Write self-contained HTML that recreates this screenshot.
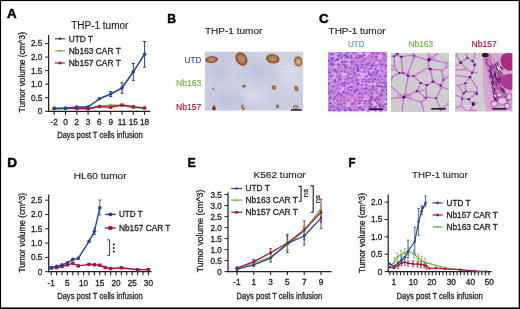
<!DOCTYPE html><html><head><meta charset="utf-8"><style>html,body{margin:0;padding:0;background:#fff;}svg{display:block}svg text{font-family:"Liberation Sans",sans-serif}</style></head><body>
<svg width="520" height="309" viewBox="0 0 520 309" >
<rect x="0" y="0" width="520" height="309" fill="#fff"/>
<text x="7.00" y="17.60" font-size="12.3" text-anchor="start" fill="#000" font-weight="bold" stroke="#000" stroke-width="0.45" textLength="9.60" lengthAdjust="spacingAndGlyphs" >A</text>
<text x="167.30" y="22.80" font-size="12.3" text-anchor="start" fill="#000" font-weight="bold" stroke="#000" stroke-width="0.45" textLength="8.80" lengthAdjust="spacingAndGlyphs" >B</text>
<text x="318.90" y="22.60" font-size="12.3" text-anchor="start" fill="#000" font-weight="bold" stroke="#000" stroke-width="0.45" textLength="9.60" lengthAdjust="spacingAndGlyphs" >C</text>
<text x="7.20" y="167.00" font-size="12.3" text-anchor="start" fill="#000" font-weight="bold" stroke="#000" stroke-width="0.45" textLength="9.80" lengthAdjust="spacingAndGlyphs" >D</text>
<text x="187.50" y="167.40" font-size="12.3" text-anchor="start" fill="#000" font-weight="bold" stroke="#000" stroke-width="0.45" textLength="8.20" lengthAdjust="spacingAndGlyphs" >E</text>
<text x="348.40" y="167.40" font-size="12.3" text-anchor="start" fill="#000" font-weight="bold" stroke="#000" stroke-width="0.45" textLength="7.00" lengthAdjust="spacingAndGlyphs" >F</text>
<text x="71.20" y="28.90" font-size="10" text-anchor="start" fill="#231f20" stroke="#231f20" stroke-width="0.15" textLength="57.20" lengthAdjust="spacingAndGlyphs" >THP-1 tumor</text>
<line x1="48.60" y1="35.00" x2="48.60" y2="111.90" stroke="#231f20" stroke-width="1.25"/>
<line x1="48.00" y1="111.30" x2="150.30" y2="111.30" stroke="#231f20" stroke-width="1.25"/>
<line x1="45.10" y1="111.30" x2="48.60" y2="111.30" stroke="#231f20" stroke-width="1"/>
<text x="42.30" y="114.20" font-size="8.2" text-anchor="end" fill="#231f20" stroke="#231f20" stroke-width="0.3" >0</text>
<line x1="45.10" y1="97.75" x2="48.60" y2="97.75" stroke="#231f20" stroke-width="1"/>
<text x="42.30" y="100.65" font-size="8.2" text-anchor="end" fill="#231f20" stroke="#231f20" stroke-width="0.3" >0.5</text>
<line x1="45.10" y1="84.20" x2="48.60" y2="84.20" stroke="#231f20" stroke-width="1"/>
<text x="42.30" y="87.10" font-size="8.2" text-anchor="end" fill="#231f20" stroke="#231f20" stroke-width="0.3" >1.0</text>
<line x1="45.10" y1="70.65" x2="48.60" y2="70.65" stroke="#231f20" stroke-width="1"/>
<text x="42.30" y="73.55" font-size="8.2" text-anchor="end" fill="#231f20" stroke="#231f20" stroke-width="0.3" >1.5</text>
<line x1="45.10" y1="57.10" x2="48.60" y2="57.10" stroke="#231f20" stroke-width="1"/>
<text x="42.30" y="60.00" font-size="8.2" text-anchor="end" fill="#231f20" stroke="#231f20" stroke-width="0.3" >2.0</text>
<line x1="45.10" y1="43.55" x2="48.60" y2="43.55" stroke="#231f20" stroke-width="1"/>
<text x="42.30" y="46.45" font-size="8.2" text-anchor="end" fill="#231f20" stroke="#231f20" stroke-width="0.3" >2.5</text>
<line x1="54.20" y1="111.30" x2="54.20" y2="114.80" stroke="#231f20" stroke-width="1.1"/>
<line x1="65.50" y1="111.30" x2="65.50" y2="114.80" stroke="#231f20" stroke-width="1.1"/>
<line x1="76.80" y1="111.30" x2="76.80" y2="114.80" stroke="#231f20" stroke-width="1.1"/>
<line x1="88.10" y1="111.30" x2="88.10" y2="114.80" stroke="#231f20" stroke-width="1.1"/>
<line x1="99.40" y1="111.30" x2="99.40" y2="114.80" stroke="#231f20" stroke-width="1.1"/>
<line x1="110.70" y1="111.30" x2="110.70" y2="114.80" stroke="#231f20" stroke-width="1.1"/>
<line x1="122.00" y1="111.30" x2="122.00" y2="114.80" stroke="#231f20" stroke-width="1.1"/>
<line x1="133.30" y1="111.30" x2="133.30" y2="114.80" stroke="#231f20" stroke-width="1.1"/>
<line x1="144.60" y1="111.30" x2="144.60" y2="114.80" stroke="#231f20" stroke-width="1.1"/>
<text x="54.20" y="125.30" font-size="8.2" text-anchor="middle" fill="#231f20" stroke="#231f20" stroke-width="0.3" >-2</text>
<text x="65.50" y="125.30" font-size="8.2" text-anchor="middle" fill="#231f20" stroke="#231f20" stroke-width="0.3" >0</text>
<text x="76.80" y="125.30" font-size="8.2" text-anchor="middle" fill="#231f20" stroke="#231f20" stroke-width="0.3" >2</text>
<text x="88.10" y="125.30" font-size="8.2" text-anchor="middle" fill="#231f20" stroke="#231f20" stroke-width="0.3" >3</text>
<text x="99.40" y="125.30" font-size="8.2" text-anchor="middle" fill="#231f20" stroke="#231f20" stroke-width="0.3" >6</text>
<text x="110.70" y="125.30" font-size="8.2" text-anchor="middle" fill="#231f20" stroke="#231f20" stroke-width="0.3" >9</text>
<text x="122.00" y="125.30" font-size="8.2" text-anchor="middle" fill="#231f20" stroke="#231f20" stroke-width="0.3" >11</text>
<text x="133.30" y="125.30" font-size="8.2" text-anchor="middle" fill="#231f20" stroke="#231f20" stroke-width="0.3" >15</text>
<text x="144.60" y="125.30" font-size="8.2" text-anchor="middle" fill="#231f20" stroke="#231f20" stroke-width="0.3" >18</text>
<text transform="translate(24.60,72.25) rotate(-90)" x="0" y="0" font-size="8.6" text-anchor="middle" fill="#231f20" stroke="#231f20" stroke-width="0.3" textLength="80.30" lengthAdjust="spacingAndGlyphs">Tumor volume (cm^3)</text>
<text x="100.00" y="138.10" font-size="8.6" text-anchor="middle" fill="#231f20" stroke="#231f20" stroke-width="0.3" textLength="85.60" lengthAdjust="spacingAndGlyphs" >Days post T cells infusion</text>
<line x1="110.70" y1="91.50" x2="110.70" y2="96.50" stroke="#25458a" stroke-width="1.0"/>
<line x1="109.10" y1="91.50" x2="112.30" y2="91.50" stroke="#25458a" stroke-width="1.0"/>
<line x1="109.10" y1="96.50" x2="112.30" y2="96.50" stroke="#25458a" stroke-width="1.0"/>
<line x1="122.00" y1="82.80" x2="122.00" y2="93.30" stroke="#25458a" stroke-width="1.0"/>
<line x1="120.40" y1="82.80" x2="123.60" y2="82.80" stroke="#25458a" stroke-width="1.0"/>
<line x1="120.40" y1="93.30" x2="123.60" y2="93.30" stroke="#25458a" stroke-width="1.0"/>
<line x1="133.30" y1="63.50" x2="133.30" y2="80.30" stroke="#25458a" stroke-width="1.0"/>
<line x1="131.70" y1="63.50" x2="134.90" y2="63.50" stroke="#25458a" stroke-width="1.0"/>
<line x1="131.70" y1="80.30" x2="134.90" y2="80.30" stroke="#25458a" stroke-width="1.0"/>
<line x1="144.60" y1="41.50" x2="144.60" y2="67.10" stroke="#25458a" stroke-width="1.0"/>
<line x1="143.00" y1="41.50" x2="146.20" y2="41.50" stroke="#25458a" stroke-width="1.0"/>
<line x1="143.00" y1="67.10" x2="146.20" y2="67.10" stroke="#25458a" stroke-width="1.0"/>
<polyline points="54.20,108.80 65.50,108.60 76.80,108.20 88.10,108.20 99.40,106.50 110.70,105.00 122.00,105.50 133.30,107.60 144.60,108.00" fill="none" stroke="#6cb33f" stroke-width="1.5" stroke-linejoin="round"/>
<polygon points="54.20,107.04 52.44,110.08 55.96,110.08" fill="#6cb33f"/>
<polygon points="65.50,106.84 63.74,109.88 67.26,109.88" fill="#6cb33f"/>
<polygon points="76.80,106.44 75.04,109.48 78.56,109.48" fill="#6cb33f"/>
<polygon points="88.10,106.44 86.34,109.48 89.86,109.48" fill="#6cb33f"/>
<polygon points="99.40,104.74 97.64,107.78 101.16,107.78" fill="#6cb33f"/>
<polygon points="110.70,103.24 108.94,106.28 112.46,106.28" fill="#6cb33f"/>
<polygon points="122.00,103.74 120.24,106.78 123.76,106.78" fill="#6cb33f"/>
<polygon points="133.30,105.84 131.54,108.88 135.06,108.88" fill="#6cb33f"/>
<polygon points="144.60,106.24 142.84,109.28 146.36,109.28" fill="#6cb33f"/>
<polyline points="54.20,108.40 65.50,108.30 76.80,108.40 88.10,108.80 99.40,106.50 110.70,107.30 122.00,105.00 133.30,106.70 144.60,108.00" fill="none" stroke="#ae1139" stroke-width="1.5" stroke-linejoin="round"/>
<rect x="52.60" y="106.80" width="3.20" height="3.20" fill="#ae1139"/>
<rect x="63.90" y="106.70" width="3.20" height="3.20" fill="#ae1139"/>
<rect x="75.20" y="106.80" width="3.20" height="3.20" fill="#ae1139"/>
<rect x="86.50" y="107.20" width="3.20" height="3.20" fill="#ae1139"/>
<rect x="97.80" y="104.90" width="3.20" height="3.20" fill="#ae1139"/>
<rect x="109.10" y="105.70" width="3.20" height="3.20" fill="#ae1139"/>
<rect x="120.40" y="103.40" width="3.20" height="3.20" fill="#ae1139"/>
<rect x="131.70" y="105.10" width="3.20" height="3.20" fill="#ae1139"/>
<rect x="143.00" y="106.40" width="3.20" height="3.20" fill="#ae1139"/>
<polyline points="54.20,108.40 65.50,108.20 76.80,107.00 88.10,107.00 99.40,98.80 110.70,94.00 122.00,88.00 133.30,71.80 144.60,54.20" fill="none" stroke="#25458a" stroke-width="1.5" stroke-linejoin="round"/>
<circle cx="54.20" cy="108.40" r="1.80" fill="#25458a"/>
<circle cx="65.50" cy="108.20" r="1.80" fill="#25458a"/>
<circle cx="76.80" cy="107.00" r="1.80" fill="#25458a"/>
<circle cx="88.10" cy="107.00" r="1.80" fill="#25458a"/>
<circle cx="99.40" cy="98.80" r="1.80" fill="#25458a"/>
<circle cx="110.70" cy="94.00" r="1.80" fill="#25458a"/>
<circle cx="122.00" cy="88.00" r="1.80" fill="#25458a"/>
<circle cx="133.30" cy="71.80" r="1.80" fill="#25458a"/>
<circle cx="144.60" cy="54.20" r="1.80" fill="#25458a"/>
<line x1="55.00" y1="38.80" x2="65.00" y2="38.80" stroke="#25458a" stroke-width="1.2"/>
<circle cx="60.00" cy="38.80" r="1.30" fill="#25458a"/>
<text x="68.80" y="41.70" font-size="8.2" text-anchor="start" fill="#231f20" stroke="#231f20" stroke-width="0.3" textLength="24.20" lengthAdjust="spacingAndGlyphs" >UTD T</text>
<line x1="55.00" y1="50.80" x2="65.00" y2="50.80" stroke="#6cb33f" stroke-width="1.2"/>
<polygon points="60.00,49.37 58.57,51.84 61.43,51.84" fill="#6cb33f"/>
<text x="68.80" y="53.70" font-size="8.2" text-anchor="start" fill="#231f20" stroke="#231f20" stroke-width="0.3" textLength="52.00" lengthAdjust="spacingAndGlyphs" >Nb163 CAR T</text>
<line x1="55.00" y1="63.00" x2="65.00" y2="63.00" stroke="#ae1139" stroke-width="1.2"/>
<rect x="58.70" y="61.70" width="2.60" height="2.60" fill="#ae1139"/>
<text x="68.80" y="65.90" font-size="8.2" text-anchor="start" fill="#231f20" stroke="#231f20" stroke-width="0.3" textLength="52.00" lengthAdjust="spacingAndGlyphs" >Nb157 CAR T</text>
<text x="73.80" y="178.50" font-size="9.7" text-anchor="start" fill="#231f20" stroke="#231f20" stroke-width="0.15" textLength="52.80" lengthAdjust="spacingAndGlyphs" >HL60 tumor</text>
<line x1="48.70" y1="194.60" x2="48.70" y2="272.30" stroke="#231f20" stroke-width="1.25"/>
<line x1="48.10" y1="271.70" x2="151.50" y2="271.70" stroke="#231f20" stroke-width="1.25"/>
<line x1="45.20" y1="271.70" x2="48.70" y2="271.70" stroke="#231f20" stroke-width="1"/>
<text x="42.30" y="274.60" font-size="8.2" text-anchor="end" fill="#231f20" stroke="#231f20" stroke-width="0.3" >0</text>
<line x1="45.20" y1="257.40" x2="48.70" y2="257.40" stroke="#231f20" stroke-width="1"/>
<text x="42.30" y="260.30" font-size="8.2" text-anchor="end" fill="#231f20" stroke="#231f20" stroke-width="0.3" >0.5</text>
<line x1="45.20" y1="243.10" x2="48.70" y2="243.10" stroke="#231f20" stroke-width="1"/>
<text x="42.30" y="246.00" font-size="8.2" text-anchor="end" fill="#231f20" stroke="#231f20" stroke-width="0.3" >1.0</text>
<line x1="45.20" y1="228.80" x2="48.70" y2="228.80" stroke="#231f20" stroke-width="1"/>
<text x="42.30" y="231.70" font-size="8.2" text-anchor="end" fill="#231f20" stroke="#231f20" stroke-width="0.3" >1.5</text>
<line x1="45.20" y1="214.50" x2="48.70" y2="214.50" stroke="#231f20" stroke-width="1"/>
<text x="42.30" y="217.40" font-size="8.2" text-anchor="end" fill="#231f20" stroke="#231f20" stroke-width="0.3" >2.0</text>
<line x1="45.20" y1="200.20" x2="48.70" y2="200.20" stroke="#231f20" stroke-width="1"/>
<text x="42.30" y="203.10" font-size="8.2" text-anchor="end" fill="#231f20" stroke="#231f20" stroke-width="0.3" >2.5</text>
<line x1="51.20" y1="271.70" x2="51.20" y2="275.20" stroke="#231f20" stroke-width="1.1"/>
<line x1="56.60" y1="271.70" x2="56.60" y2="275.20" stroke="#231f20" stroke-width="1.1"/>
<line x1="62.00" y1="271.70" x2="62.00" y2="275.20" stroke="#231f20" stroke-width="1.1"/>
<line x1="67.40" y1="271.70" x2="67.40" y2="275.20" stroke="#231f20" stroke-width="1.1"/>
<line x1="72.80" y1="271.70" x2="72.80" y2="275.20" stroke="#231f20" stroke-width="1.1"/>
<line x1="78.20" y1="271.70" x2="78.20" y2="275.20" stroke="#231f20" stroke-width="1.1"/>
<line x1="83.60" y1="271.70" x2="83.60" y2="275.20" stroke="#231f20" stroke-width="1.1"/>
<line x1="89.00" y1="271.70" x2="89.00" y2="275.20" stroke="#231f20" stroke-width="1.1"/>
<line x1="94.40" y1="271.70" x2="94.40" y2="275.20" stroke="#231f20" stroke-width="1.1"/>
<line x1="99.80" y1="271.70" x2="99.80" y2="275.20" stroke="#231f20" stroke-width="1.1"/>
<line x1="105.20" y1="271.70" x2="105.20" y2="275.20" stroke="#231f20" stroke-width="1.1"/>
<line x1="110.60" y1="271.70" x2="110.60" y2="275.20" stroke="#231f20" stroke-width="1.1"/>
<line x1="116.00" y1="271.70" x2="116.00" y2="275.20" stroke="#231f20" stroke-width="1.1"/>
<line x1="121.40" y1="271.70" x2="121.40" y2="275.20" stroke="#231f20" stroke-width="1.1"/>
<line x1="126.80" y1="271.70" x2="126.80" y2="275.20" stroke="#231f20" stroke-width="1.1"/>
<line x1="132.20" y1="271.70" x2="132.20" y2="275.20" stroke="#231f20" stroke-width="1.1"/>
<line x1="137.60" y1="271.70" x2="137.60" y2="275.20" stroke="#231f20" stroke-width="1.1"/>
<line x1="143.00" y1="271.70" x2="143.00" y2="275.20" stroke="#231f20" stroke-width="1.1"/>
<line x1="148.40" y1="271.70" x2="148.40" y2="275.20" stroke="#231f20" stroke-width="1.1"/>
<text x="51.20" y="285.50" font-size="8.2" text-anchor="middle" fill="#231f20" stroke="#231f20" stroke-width="0.3" >-1</text>
<text x="67.40" y="285.50" font-size="8.2" text-anchor="middle" fill="#231f20" stroke="#231f20" stroke-width="0.3" >5</text>
<text x="83.60" y="285.50" font-size="8.2" text-anchor="middle" fill="#231f20" stroke="#231f20" stroke-width="0.3" >10</text>
<text x="99.80" y="285.50" font-size="8.2" text-anchor="middle" fill="#231f20" stroke="#231f20" stroke-width="0.3" >15</text>
<text x="116.00" y="285.50" font-size="8.2" text-anchor="middle" fill="#231f20" stroke="#231f20" stroke-width="0.3" >20</text>
<text x="132.20" y="285.50" font-size="8.2" text-anchor="middle" fill="#231f20" stroke="#231f20" stroke-width="0.3" >25</text>
<text x="148.40" y="285.50" font-size="8.2" text-anchor="middle" fill="#231f20" stroke="#231f20" stroke-width="0.3" >30</text>
<text transform="translate(24.80,232.70) rotate(-90)" x="0" y="0" font-size="8.6" text-anchor="middle" fill="#231f20" stroke="#231f20" stroke-width="0.3" textLength="79.40" lengthAdjust="spacingAndGlyphs">Tumor volume (cm^3)</text>
<text x="100.00" y="299.30" font-size="8.6" text-anchor="middle" fill="#231f20" stroke="#231f20" stroke-width="0.3" textLength="85.60" lengthAdjust="spacingAndGlyphs" >Days post T cells infusion</text>
<line x1="94.40" y1="228.00" x2="94.40" y2="234.50" stroke="#25458a" stroke-width="0.8"/>
<line x1="92.90" y1="228.00" x2="95.90" y2="228.00" stroke="#25458a" stroke-width="0.8"/>
<line x1="92.90" y1="234.50" x2="95.90" y2="234.50" stroke="#25458a" stroke-width="0.8"/>
<line x1="99.80" y1="200.00" x2="99.80" y2="215.00" stroke="#25458a" stroke-width="0.8"/>
<line x1="98.30" y1="200.00" x2="101.30" y2="200.00" stroke="#25458a" stroke-width="0.8"/>
<line x1="98.30" y1="215.00" x2="101.30" y2="215.00" stroke="#25458a" stroke-width="0.8"/>
<polyline points="51.20,268.00 56.60,267.60 62.00,266.50 67.40,264.80 72.80,263.30 78.20,265.90 89.00,264.40 94.40,264.80 99.80,265.20 105.20,267.50 110.60,268.50 121.40,267.80 137.60,269.80 148.40,269.60" fill="none" stroke="#ae1139" stroke-width="1.4" stroke-linejoin="round"/>
<rect x="49.50" y="266.30" width="3.40" height="3.40" fill="#ae1139"/>
<rect x="54.90" y="265.90" width="3.40" height="3.40" fill="#ae1139"/>
<rect x="60.30" y="264.80" width="3.40" height="3.40" fill="#ae1139"/>
<rect x="65.70" y="263.10" width="3.40" height="3.40" fill="#ae1139"/>
<rect x="71.10" y="261.60" width="3.40" height="3.40" fill="#ae1139"/>
<rect x="76.50" y="264.20" width="3.40" height="3.40" fill="#ae1139"/>
<rect x="87.30" y="262.70" width="3.40" height="3.40" fill="#ae1139"/>
<rect x="92.70" y="263.10" width="3.40" height="3.40" fill="#ae1139"/>
<rect x="98.10" y="263.50" width="3.40" height="3.40" fill="#ae1139"/>
<rect x="103.50" y="265.80" width="3.40" height="3.40" fill="#ae1139"/>
<rect x="108.90" y="266.80" width="3.40" height="3.40" fill="#ae1139"/>
<rect x="119.70" y="266.10" width="3.40" height="3.40" fill="#ae1139"/>
<rect x="135.90" y="268.10" width="3.40" height="3.40" fill="#ae1139"/>
<rect x="146.70" y="267.90" width="3.40" height="3.40" fill="#ae1139"/>
<polyline points="51.20,267.50 56.60,266.40 62.00,264.80 67.40,262.80 72.80,259.40 78.20,258.40 89.00,241.40 94.40,231.30 99.80,207.90" fill="none" stroke="#25458a" stroke-width="1.4" stroke-linejoin="round"/>
<circle cx="51.20" cy="267.50" r="1.80" fill="#25458a"/>
<circle cx="56.60" cy="266.40" r="1.80" fill="#25458a"/>
<circle cx="62.00" cy="264.80" r="1.80" fill="#25458a"/>
<circle cx="67.40" cy="262.80" r="1.80" fill="#25458a"/>
<circle cx="72.80" cy="259.40" r="1.80" fill="#25458a"/>
<circle cx="78.20" cy="258.40" r="1.80" fill="#25458a"/>
<circle cx="89.00" cy="241.40" r="1.80" fill="#25458a"/>
<circle cx="94.40" cy="231.30" r="1.80" fill="#25458a"/>
<circle cx="99.80" cy="207.90" r="1.80" fill="#25458a"/>
<line x1="105.10" y1="214.40" x2="115.70" y2="214.40" stroke="#25458a" stroke-width="1.4"/>
<circle cx="110.40" cy="214.40" r="1.90" fill="#25458a"/>
<text x="119.00" y="217.30" font-size="8.2" text-anchor="start" fill="#231f20" stroke="#231f20" stroke-width="0.3" textLength="23.60" lengthAdjust="spacingAndGlyphs" >UTD T</text>
<line x1="105.10" y1="228.00" x2="115.70" y2="228.00" stroke="#ae1139" stroke-width="1.4"/>
<rect x="108.50" y="226.10" width="3.80" height="3.80" fill="#ae1139"/>
<text x="119.00" y="230.90" font-size="8.2" text-anchor="start" fill="#231f20" stroke="#231f20" stroke-width="0.3" textLength="51.40" lengthAdjust="spacingAndGlyphs" >Nb157 CAR T</text>
<polyline points="107.3,239.8 109.6,239.8 109.6,255.4 107.3,255.4" fill="none" stroke="#231f20" stroke-width="0.9"/>
<circle cx="113.8" cy="244.4" r="1" fill="#231f20"/>
<circle cx="113.8" cy="248" r="1" fill="#231f20"/>
<circle cx="113.8" cy="251.4" r="1" fill="#231f20"/>
<text x="253.40" y="178.30" font-size="9.7" text-anchor="start" fill="#231f20" stroke="#231f20" stroke-width="0.15" textLength="52.30" lengthAdjust="spacingAndGlyphs" >K562 tumor</text>
<line x1="228.00" y1="192.60" x2="228.00" y2="272.20" stroke="#231f20" stroke-width="1.25"/>
<line x1="227.40" y1="271.60" x2="331.50" y2="271.60" stroke="#231f20" stroke-width="1.25"/>
<line x1="224.50" y1="271.60" x2="228.00" y2="271.60" stroke="#231f20" stroke-width="1"/>
<text x="221.80" y="274.50" font-size="8.2" text-anchor="end" fill="#231f20" stroke="#231f20" stroke-width="0.3" >0</text>
<line x1="224.50" y1="260.60" x2="228.00" y2="260.60" stroke="#231f20" stroke-width="1"/>
<text x="221.80" y="263.50" font-size="8.2" text-anchor="end" fill="#231f20" stroke="#231f20" stroke-width="0.3" >0.5</text>
<line x1="224.50" y1="249.60" x2="228.00" y2="249.60" stroke="#231f20" stroke-width="1"/>
<text x="221.80" y="252.50" font-size="8.2" text-anchor="end" fill="#231f20" stroke="#231f20" stroke-width="0.3" >1.0</text>
<line x1="224.50" y1="238.60" x2="228.00" y2="238.60" stroke="#231f20" stroke-width="1"/>
<text x="221.80" y="241.50" font-size="8.2" text-anchor="end" fill="#231f20" stroke="#231f20" stroke-width="0.3" >1.5</text>
<line x1="224.50" y1="227.60" x2="228.00" y2="227.60" stroke="#231f20" stroke-width="1"/>
<text x="221.80" y="230.50" font-size="8.2" text-anchor="end" fill="#231f20" stroke="#231f20" stroke-width="0.3" >2.0</text>
<line x1="224.50" y1="216.60" x2="228.00" y2="216.60" stroke="#231f20" stroke-width="1"/>
<text x="221.80" y="219.50" font-size="8.2" text-anchor="end" fill="#231f20" stroke="#231f20" stroke-width="0.3" >2.5</text>
<line x1="224.50" y1="205.60" x2="228.00" y2="205.60" stroke="#231f20" stroke-width="1"/>
<text x="221.80" y="208.50" font-size="8.2" text-anchor="end" fill="#231f20" stroke="#231f20" stroke-width="0.3" >3.0</text>
<line x1="224.50" y1="194.60" x2="228.00" y2="194.60" stroke="#231f20" stroke-width="1"/>
<text x="221.80" y="197.50" font-size="8.2" text-anchor="end" fill="#231f20" stroke="#231f20" stroke-width="0.3" >3.5</text>
<line x1="237.00" y1="271.60" x2="237.00" y2="275.10" stroke="#231f20" stroke-width="1.1"/>
<line x1="253.80" y1="271.60" x2="253.80" y2="275.10" stroke="#231f20" stroke-width="1.1"/>
<line x1="270.60" y1="271.60" x2="270.60" y2="275.10" stroke="#231f20" stroke-width="1.1"/>
<line x1="287.40" y1="271.60" x2="287.40" y2="275.10" stroke="#231f20" stroke-width="1.1"/>
<line x1="304.20" y1="271.60" x2="304.20" y2="275.10" stroke="#231f20" stroke-width="1.1"/>
<line x1="321.00" y1="271.60" x2="321.00" y2="275.10" stroke="#231f20" stroke-width="1.1"/>
<text x="237.00" y="285.30" font-size="8.2" text-anchor="middle" fill="#231f20" stroke="#231f20" stroke-width="0.3" >-1</text>
<text x="253.80" y="285.30" font-size="8.2" text-anchor="middle" fill="#231f20" stroke="#231f20" stroke-width="0.3" >1</text>
<text x="270.60" y="285.30" font-size="8.2" text-anchor="middle" fill="#231f20" stroke="#231f20" stroke-width="0.3" >3</text>
<text x="287.40" y="285.30" font-size="8.2" text-anchor="middle" fill="#231f20" stroke="#231f20" stroke-width="0.3" >5</text>
<text x="304.20" y="285.30" font-size="8.2" text-anchor="middle" fill="#231f20" stroke="#231f20" stroke-width="0.3" >7</text>
<text x="321.00" y="285.30" font-size="8.2" text-anchor="middle" fill="#231f20" stroke="#231f20" stroke-width="0.3" >9</text>
<text transform="translate(202.90,230.95) rotate(-90)" x="0" y="0" font-size="8.6" text-anchor="middle" fill="#231f20" stroke="#231f20" stroke-width="0.3" textLength="82.50" lengthAdjust="spacingAndGlyphs">Tumor volume (cm^3)</text>
<text x="279.40" y="299.10" font-size="8.6" text-anchor="middle" fill="#231f20" stroke="#231f20" stroke-width="0.3" textLength="85.60" lengthAdjust="spacingAndGlyphs" >Days post T cells infusion</text>
<line x1="237.00" y1="268.00" x2="237.00" y2="270.50" stroke="#25458a" stroke-width="0.9"/>
<line x1="235.70" y1="268.00" x2="238.30" y2="268.00" stroke="#25458a" stroke-width="0.9"/>
<line x1="235.70" y1="270.50" x2="238.30" y2="270.50" stroke="#25458a" stroke-width="0.9"/>
<line x1="253.80" y1="263.00" x2="253.80" y2="266.50" stroke="#25458a" stroke-width="0.9"/>
<line x1="252.50" y1="263.00" x2="255.10" y2="263.00" stroke="#25458a" stroke-width="0.9"/>
<line x1="252.50" y1="266.50" x2="255.10" y2="266.50" stroke="#25458a" stroke-width="0.9"/>
<line x1="270.60" y1="253.00" x2="270.60" y2="262.00" stroke="#25458a" stroke-width="0.9"/>
<line x1="269.30" y1="253.00" x2="271.90" y2="253.00" stroke="#25458a" stroke-width="0.9"/>
<line x1="269.30" y1="262.00" x2="271.90" y2="262.00" stroke="#25458a" stroke-width="0.9"/>
<line x1="287.40" y1="234.30" x2="287.40" y2="252.40" stroke="#25458a" stroke-width="0.9"/>
<line x1="286.10" y1="234.30" x2="288.70" y2="234.30" stroke="#25458a" stroke-width="0.9"/>
<line x1="286.10" y1="252.40" x2="288.70" y2="252.40" stroke="#25458a" stroke-width="0.9"/>
<line x1="304.20" y1="227.00" x2="304.20" y2="245.00" stroke="#25458a" stroke-width="0.9"/>
<line x1="302.90" y1="227.00" x2="305.50" y2="227.00" stroke="#25458a" stroke-width="0.9"/>
<line x1="302.90" y1="245.00" x2="305.50" y2="245.00" stroke="#25458a" stroke-width="0.9"/>
<line x1="321.00" y1="210.00" x2="321.00" y2="228.60" stroke="#25458a" stroke-width="0.9"/>
<line x1="319.70" y1="210.00" x2="322.30" y2="210.00" stroke="#25458a" stroke-width="0.9"/>
<line x1="319.70" y1="228.60" x2="322.30" y2="228.60" stroke="#25458a" stroke-width="0.9"/>
<line x1="237.00" y1="267.00" x2="237.00" y2="269.00" stroke="#ae1139" stroke-width="0.9"/>
<line x1="235.70" y1="267.00" x2="238.30" y2="267.00" stroke="#ae1139" stroke-width="0.9"/>
<line x1="235.70" y1="269.00" x2="238.30" y2="269.00" stroke="#ae1139" stroke-width="0.9"/>
<line x1="253.80" y1="259.50" x2="253.80" y2="264.00" stroke="#ae1139" stroke-width="0.9"/>
<line x1="252.50" y1="259.50" x2="255.10" y2="259.50" stroke="#ae1139" stroke-width="0.9"/>
<line x1="252.50" y1="264.00" x2="255.10" y2="264.00" stroke="#ae1139" stroke-width="0.9"/>
<line x1="270.60" y1="248.60" x2="270.60" y2="257.00" stroke="#ae1139" stroke-width="0.9"/>
<line x1="269.30" y1="248.60" x2="271.90" y2="248.60" stroke="#ae1139" stroke-width="0.9"/>
<line x1="269.30" y1="257.00" x2="271.90" y2="257.00" stroke="#ae1139" stroke-width="0.9"/>
<line x1="287.40" y1="236.00" x2="287.40" y2="250.00" stroke="#ae1139" stroke-width="0.9"/>
<line x1="286.10" y1="236.00" x2="288.70" y2="236.00" stroke="#ae1139" stroke-width="0.9"/>
<line x1="286.10" y1="250.00" x2="288.70" y2="250.00" stroke="#ae1139" stroke-width="0.9"/>
<line x1="304.20" y1="220.90" x2="304.20" y2="239.80" stroke="#ae1139" stroke-width="0.9"/>
<line x1="302.90" y1="220.90" x2="305.50" y2="220.90" stroke="#ae1139" stroke-width="0.9"/>
<line x1="302.90" y1="239.80" x2="305.50" y2="239.80" stroke="#ae1139" stroke-width="0.9"/>
<line x1="321.00" y1="199.20" x2="321.00" y2="222.00" stroke="#ae1139" stroke-width="0.9"/>
<line x1="319.70" y1="199.20" x2="322.30" y2="199.20" stroke="#ae1139" stroke-width="0.9"/>
<line x1="319.70" y1="222.00" x2="322.30" y2="222.00" stroke="#ae1139" stroke-width="0.9"/>
<line x1="237.00" y1="267.50" x2="237.00" y2="269.50" stroke="#6cb33f" stroke-width="0.9"/>
<line x1="235.70" y1="267.50" x2="238.30" y2="267.50" stroke="#6cb33f" stroke-width="0.9"/>
<line x1="235.70" y1="269.50" x2="238.30" y2="269.50" stroke="#6cb33f" stroke-width="0.9"/>
<line x1="253.80" y1="261.00" x2="253.80" y2="265.00" stroke="#6cb33f" stroke-width="0.9"/>
<line x1="252.50" y1="261.00" x2="255.10" y2="261.00" stroke="#6cb33f" stroke-width="0.9"/>
<line x1="252.50" y1="265.00" x2="255.10" y2="265.00" stroke="#6cb33f" stroke-width="0.9"/>
<line x1="270.60" y1="254.00" x2="270.60" y2="260.00" stroke="#6cb33f" stroke-width="0.9"/>
<line x1="269.30" y1="254.00" x2="271.90" y2="254.00" stroke="#6cb33f" stroke-width="0.9"/>
<line x1="269.30" y1="260.00" x2="271.90" y2="260.00" stroke="#6cb33f" stroke-width="0.9"/>
<line x1="287.40" y1="240.00" x2="287.40" y2="250.00" stroke="#6cb33f" stroke-width="0.9"/>
<line x1="286.10" y1="240.00" x2="288.70" y2="240.00" stroke="#6cb33f" stroke-width="0.9"/>
<line x1="286.10" y1="250.00" x2="288.70" y2="250.00" stroke="#6cb33f" stroke-width="0.9"/>
<line x1="304.20" y1="226.00" x2="304.20" y2="235.00" stroke="#6cb33f" stroke-width="0.9"/>
<line x1="302.90" y1="226.00" x2="305.50" y2="226.00" stroke="#6cb33f" stroke-width="0.9"/>
<line x1="302.90" y1="235.00" x2="305.50" y2="235.00" stroke="#6cb33f" stroke-width="0.9"/>
<line x1="321.00" y1="206.00" x2="321.00" y2="214.00" stroke="#6cb33f" stroke-width="0.9"/>
<line x1="319.70" y1="206.00" x2="322.30" y2="206.00" stroke="#6cb33f" stroke-width="0.9"/>
<line x1="319.70" y1="214.00" x2="322.30" y2="214.00" stroke="#6cb33f" stroke-width="0.9"/>
<polyline points="237.00,268.50 253.80,263.00 270.60,257.00 287.40,245.00 304.20,230.50 321.00,209.00" fill="none" stroke="#6cb33f" stroke-width="1.3" stroke-linejoin="round"/>
<polyline points="237.00,268.00 253.80,261.70 270.60,252.80 287.40,243.00 304.20,230.10 321.00,212.40" fill="none" stroke="#ae1139" stroke-width="1.3" stroke-linejoin="round"/>
<polyline points="237.00,269.20 253.80,264.80 270.60,258.10 287.40,243.40 304.20,236.00 321.00,218.10" fill="none" stroke="#25458a" stroke-width="1.3" stroke-linejoin="round"/>
<polygon points="237.00,267.18 235.68,269.46 238.32,269.46" fill="#6cb33f"/>
<rect x="235.70" y="266.70" width="2.60" height="2.60" fill="#ae1139"/>
<circle cx="237.00" cy="269.20" r="1.40" fill="#25458a"/>
<polygon points="253.80,261.68 252.48,263.96 255.12,263.96" fill="#6cb33f"/>
<rect x="252.50" y="260.40" width="2.60" height="2.60" fill="#ae1139"/>
<circle cx="253.80" cy="264.80" r="1.40" fill="#25458a"/>
<polygon points="270.60,255.68 269.28,257.96 271.92,257.96" fill="#6cb33f"/>
<rect x="269.30" y="251.50" width="2.60" height="2.60" fill="#ae1139"/>
<circle cx="270.60" cy="258.10" r="1.40" fill="#25458a"/>
<polygon points="287.40,243.68 286.08,245.96 288.72,245.96" fill="#6cb33f"/>
<rect x="286.10" y="241.70" width="2.60" height="2.60" fill="#ae1139"/>
<circle cx="287.40" cy="243.40" r="1.40" fill="#25458a"/>
<polygon points="304.20,229.18 302.88,231.46 305.52,231.46" fill="#6cb33f"/>
<rect x="302.90" y="228.80" width="2.60" height="2.60" fill="#ae1139"/>
<circle cx="304.20" cy="236.00" r="1.40" fill="#25458a"/>
<polygon points="321.00,207.68 319.68,209.96 322.32,209.96" fill="#6cb33f"/>
<rect x="319.70" y="211.10" width="2.60" height="2.60" fill="#ae1139"/>
<circle cx="321.00" cy="218.10" r="1.40" fill="#25458a"/>
<line x1="231.20" y1="188.50" x2="242.10" y2="188.50" stroke="#25458a" stroke-width="1.2"/>
<circle cx="236.65" cy="188.50" r="1.30" fill="#25458a"/>
<text x="245.50" y="191.40" font-size="8.2" text-anchor="start" fill="#231f20" stroke="#231f20" stroke-width="0.3" textLength="24.20" lengthAdjust="spacingAndGlyphs" >UTD T</text>
<line x1="231.20" y1="200.10" x2="242.10" y2="200.10" stroke="#6cb33f" stroke-width="1.2"/>
<polygon points="236.65,198.67 235.22,201.14 238.08,201.14" fill="#6cb33f"/>
<text x="245.50" y="203.00" font-size="8.2" text-anchor="start" fill="#231f20" stroke="#231f20" stroke-width="0.3" textLength="52.50" lengthAdjust="spacingAndGlyphs" >Nb163 CAR T</text>
<line x1="231.20" y1="212.30" x2="242.10" y2="212.30" stroke="#ae1139" stroke-width="1.2"/>
<rect x="235.35" y="211.00" width="2.60" height="2.60" fill="#ae1139"/>
<text x="245.50" y="215.20" font-size="8.2" text-anchor="start" fill="#231f20" stroke="#231f20" stroke-width="0.3" textLength="52.50" lengthAdjust="spacingAndGlyphs" >Nb157 CAR T</text>
<polyline points="298.6,186.4 301.1,186.4 301.1,201.2 298.6,201.2" fill="none" stroke="#231f20" stroke-width="1.1"/>
<polyline points="310.6,185.9 313.2,185.9 313.2,212.3 310.6,212.3" fill="none" stroke="#231f20" stroke-width="1.1"/>
<text transform="translate(308.2,193) rotate(-90)" x="0" y="0" font-size="7.8" text-anchor="middle" fill="#231f20" stroke="#231f20" stroke-width="0.25">ns</text>
<text transform="translate(319.6,199.2) rotate(-90)" x="0" y="0" font-size="7.8" text-anchor="middle" fill="#231f20" stroke="#231f20" stroke-width="0.25">ns</text>
<text x="412.00" y="178.20" font-size="9.7" text-anchor="start" fill="#231f20" stroke="#231f20" stroke-width="0.15" textLength="55.70" lengthAdjust="spacingAndGlyphs" >THP-1 tumor</text>
<line x1="388.20" y1="194.40" x2="388.20" y2="272.30" stroke="#231f20" stroke-width="1.25"/>
<line x1="387.60" y1="271.70" x2="491.60" y2="271.70" stroke="#231f20" stroke-width="1.25"/>
<line x1="384.70" y1="271.60" x2="388.20" y2="271.60" stroke="#231f20" stroke-width="1"/>
<text x="382.40" y="274.50" font-size="8.2" text-anchor="end" fill="#231f20" stroke="#231f20" stroke-width="0.3" >0</text>
<line x1="384.70" y1="254.25" x2="388.20" y2="254.25" stroke="#231f20" stroke-width="1"/>
<text x="382.40" y="257.15" font-size="8.2" text-anchor="end" fill="#231f20" stroke="#231f20" stroke-width="0.3" >0.5</text>
<line x1="384.70" y1="236.90" x2="388.20" y2="236.90" stroke="#231f20" stroke-width="1"/>
<text x="382.40" y="239.80" font-size="8.2" text-anchor="end" fill="#231f20" stroke="#231f20" stroke-width="0.3" >1.0</text>
<line x1="384.70" y1="219.55" x2="388.20" y2="219.55" stroke="#231f20" stroke-width="1"/>
<text x="382.40" y="222.45" font-size="8.2" text-anchor="end" fill="#231f20" stroke="#231f20" stroke-width="0.3" >1.5</text>
<line x1="384.70" y1="202.20" x2="388.20" y2="202.20" stroke="#231f20" stroke-width="1"/>
<text x="382.40" y="205.10" font-size="8.2" text-anchor="end" fill="#231f20" stroke="#231f20" stroke-width="0.3" >2.0</text>
<line x1="389.90" y1="271.70" x2="389.90" y2="275.20" stroke="#231f20" stroke-width="1.1"/>
<line x1="393.44" y1="271.70" x2="393.44" y2="275.20" stroke="#231f20" stroke-width="1.1"/>
<line x1="396.97" y1="271.70" x2="396.97" y2="275.20" stroke="#231f20" stroke-width="1.1"/>
<line x1="400.51" y1="271.70" x2="400.51" y2="275.20" stroke="#231f20" stroke-width="1.1"/>
<line x1="404.04" y1="271.70" x2="404.04" y2="275.20" stroke="#231f20" stroke-width="1.1"/>
<line x1="407.58" y1="271.70" x2="407.58" y2="275.20" stroke="#231f20" stroke-width="1.1"/>
<line x1="411.12" y1="271.70" x2="411.12" y2="275.20" stroke="#231f20" stroke-width="1.1"/>
<line x1="414.65" y1="271.70" x2="414.65" y2="275.20" stroke="#231f20" stroke-width="1.1"/>
<line x1="418.19" y1="271.70" x2="418.19" y2="275.20" stroke="#231f20" stroke-width="1.1"/>
<line x1="421.72" y1="271.70" x2="421.72" y2="275.20" stroke="#231f20" stroke-width="1.1"/>
<line x1="425.26" y1="271.70" x2="425.26" y2="275.20" stroke="#231f20" stroke-width="1.1"/>
<line x1="428.80" y1="271.70" x2="428.80" y2="275.20" stroke="#231f20" stroke-width="1.1"/>
<line x1="432.33" y1="271.70" x2="432.33" y2="275.20" stroke="#231f20" stroke-width="1.1"/>
<line x1="435.87" y1="271.70" x2="435.87" y2="275.20" stroke="#231f20" stroke-width="1.1"/>
<line x1="439.40" y1="271.70" x2="439.40" y2="275.20" stroke="#231f20" stroke-width="1.1"/>
<line x1="442.94" y1="271.70" x2="442.94" y2="275.20" stroke="#231f20" stroke-width="1.1"/>
<line x1="446.48" y1="271.70" x2="446.48" y2="275.20" stroke="#231f20" stroke-width="1.1"/>
<line x1="450.01" y1="271.70" x2="450.01" y2="275.20" stroke="#231f20" stroke-width="1.1"/>
<line x1="453.55" y1="271.70" x2="453.55" y2="275.20" stroke="#231f20" stroke-width="1.1"/>
<line x1="457.08" y1="271.70" x2="457.08" y2="275.20" stroke="#231f20" stroke-width="1.1"/>
<line x1="460.62" y1="271.70" x2="460.62" y2="275.20" stroke="#231f20" stroke-width="1.1"/>
<line x1="464.16" y1="271.70" x2="464.16" y2="275.20" stroke="#231f20" stroke-width="1.1"/>
<line x1="467.69" y1="271.70" x2="467.69" y2="275.20" stroke="#231f20" stroke-width="1.1"/>
<line x1="471.23" y1="271.70" x2="471.23" y2="275.20" stroke="#231f20" stroke-width="1.1"/>
<line x1="474.76" y1="271.70" x2="474.76" y2="275.20" stroke="#231f20" stroke-width="1.1"/>
<line x1="478.30" y1="271.70" x2="478.30" y2="275.20" stroke="#231f20" stroke-width="1.1"/>
<line x1="481.84" y1="271.70" x2="481.84" y2="275.20" stroke="#231f20" stroke-width="1.1"/>
<line x1="485.37" y1="271.70" x2="485.37" y2="275.20" stroke="#231f20" stroke-width="1.1"/>
<line x1="488.91" y1="271.70" x2="488.91" y2="275.20" stroke="#231f20" stroke-width="1.1"/>
<text x="393.70" y="285.10" font-size="8.2" text-anchor="middle" fill="#231f20" stroke="#231f20" stroke-width="0.3" >1</text>
<text x="413.30" y="285.10" font-size="8.2" text-anchor="middle" fill="#231f20" stroke="#231f20" stroke-width="0.3" >10</text>
<text x="431.70" y="285.10" font-size="8.2" text-anchor="middle" fill="#231f20" stroke="#231f20" stroke-width="0.3" >20</text>
<text x="451.20" y="285.10" font-size="8.2" text-anchor="middle" fill="#231f20" stroke="#231f20" stroke-width="0.3" >30</text>
<text x="470.40" y="285.10" font-size="8.2" text-anchor="middle" fill="#231f20" stroke="#231f20" stroke-width="0.3" >40</text>
<text x="489.30" y="285.10" font-size="8.2" text-anchor="middle" fill="#231f20" stroke="#231f20" stroke-width="0.3" >50</text>
<text transform="translate(365.00,233.05) rotate(-90)" x="0" y="0" font-size="8.6" text-anchor="middle" fill="#231f20" stroke="#231f20" stroke-width="0.3" textLength="79.90" lengthAdjust="spacingAndGlyphs">Tumor volume (cm^3)</text>
<text x="439.60" y="298.80" font-size="8.6" text-anchor="middle" fill="#231f20" stroke="#231f20" stroke-width="0.3" textLength="86.10" lengthAdjust="spacingAndGlyphs" >Days post T cells infusion</text>
<line x1="394.40" y1="257.60" x2="394.40" y2="265.60" stroke="#6cb33f" stroke-width="0.7"/>
<line x1="393.30" y1="257.60" x2="395.50" y2="257.60" stroke="#6cb33f" stroke-width="0.7"/>
<line x1="393.30" y1="265.60" x2="395.50" y2="265.60" stroke="#6cb33f" stroke-width="0.7"/>
<line x1="397.40" y1="253.00" x2="397.40" y2="261.00" stroke="#6cb33f" stroke-width="0.7"/>
<line x1="396.30" y1="253.00" x2="398.50" y2="253.00" stroke="#6cb33f" stroke-width="0.7"/>
<line x1="396.30" y1="261.00" x2="398.50" y2="261.00" stroke="#6cb33f" stroke-width="0.7"/>
<line x1="400.90" y1="250.40" x2="400.90" y2="258.40" stroke="#6cb33f" stroke-width="0.7"/>
<line x1="399.80" y1="250.40" x2="402.00" y2="250.40" stroke="#6cb33f" stroke-width="0.7"/>
<line x1="399.80" y1="258.40" x2="402.00" y2="258.40" stroke="#6cb33f" stroke-width="0.7"/>
<line x1="404.80" y1="248.50" x2="404.80" y2="256.50" stroke="#6cb33f" stroke-width="0.7"/>
<line x1="403.70" y1="248.50" x2="405.90" y2="248.50" stroke="#6cb33f" stroke-width="0.7"/>
<line x1="403.70" y1="256.50" x2="405.90" y2="256.50" stroke="#6cb33f" stroke-width="0.7"/>
<line x1="408.70" y1="247.20" x2="408.70" y2="255.20" stroke="#6cb33f" stroke-width="0.7"/>
<line x1="407.60" y1="247.20" x2="409.80" y2="247.20" stroke="#6cb33f" stroke-width="0.7"/>
<line x1="407.60" y1="255.20" x2="409.80" y2="255.20" stroke="#6cb33f" stroke-width="0.7"/>
<line x1="413.80" y1="249.80" x2="413.80" y2="257.80" stroke="#6cb33f" stroke-width="0.7"/>
<line x1="412.70" y1="249.80" x2="414.90" y2="249.80" stroke="#6cb33f" stroke-width="0.7"/>
<line x1="412.70" y1="257.80" x2="414.90" y2="257.80" stroke="#6cb33f" stroke-width="0.7"/>
<line x1="418.40" y1="254.30" x2="418.40" y2="262.30" stroke="#6cb33f" stroke-width="0.7"/>
<line x1="417.30" y1="254.30" x2="419.50" y2="254.30" stroke="#6cb33f" stroke-width="0.7"/>
<line x1="417.30" y1="262.30" x2="419.50" y2="262.30" stroke="#6cb33f" stroke-width="0.7"/>
<line x1="421.60" y1="256.30" x2="421.60" y2="264.30" stroke="#6cb33f" stroke-width="0.7"/>
<line x1="420.50" y1="256.30" x2="422.70" y2="256.30" stroke="#6cb33f" stroke-width="0.7"/>
<line x1="420.50" y1="264.30" x2="422.70" y2="264.30" stroke="#6cb33f" stroke-width="0.7"/>
<line x1="424.90" y1="258.20" x2="424.90" y2="266.20" stroke="#6cb33f" stroke-width="0.7"/>
<line x1="423.80" y1="258.20" x2="426.00" y2="258.20" stroke="#6cb33f" stroke-width="0.7"/>
<line x1="423.80" y1="266.20" x2="426.00" y2="266.20" stroke="#6cb33f" stroke-width="0.7"/>
<line x1="398.30" y1="262.40" x2="398.30" y2="268.40" stroke="#ae1139" stroke-width="0.7"/>
<line x1="397.20" y1="262.40" x2="399.40" y2="262.40" stroke="#ae1139" stroke-width="0.7"/>
<line x1="397.20" y1="268.40" x2="399.40" y2="268.40" stroke="#ae1139" stroke-width="0.7"/>
<line x1="401.50" y1="259.80" x2="401.50" y2="265.80" stroke="#ae1139" stroke-width="0.7"/>
<line x1="400.40" y1="259.80" x2="402.60" y2="259.80" stroke="#ae1139" stroke-width="0.7"/>
<line x1="400.40" y1="265.80" x2="402.60" y2="265.80" stroke="#ae1139" stroke-width="0.7"/>
<line x1="404.80" y1="259.20" x2="404.80" y2="265.20" stroke="#ae1139" stroke-width="0.7"/>
<line x1="403.70" y1="259.20" x2="405.90" y2="259.20" stroke="#ae1139" stroke-width="0.7"/>
<line x1="403.70" y1="265.20" x2="405.90" y2="265.20" stroke="#ae1139" stroke-width="0.7"/>
<line x1="408.00" y1="260.20" x2="408.00" y2="266.20" stroke="#ae1139" stroke-width="0.7"/>
<line x1="406.90" y1="260.20" x2="409.10" y2="260.20" stroke="#ae1139" stroke-width="0.7"/>
<line x1="406.90" y1="266.20" x2="409.10" y2="266.20" stroke="#ae1139" stroke-width="0.7"/>
<line x1="413.00" y1="260.80" x2="413.00" y2="266.80" stroke="#ae1139" stroke-width="0.7"/>
<line x1="411.90" y1="260.80" x2="414.10" y2="260.80" stroke="#ae1139" stroke-width="0.7"/>
<line x1="411.90" y1="266.80" x2="414.10" y2="266.80" stroke="#ae1139" stroke-width="0.7"/>
<line x1="417.60" y1="261.10" x2="417.60" y2="267.10" stroke="#ae1139" stroke-width="0.7"/>
<line x1="416.50" y1="261.10" x2="418.70" y2="261.10" stroke="#ae1139" stroke-width="0.7"/>
<line x1="416.50" y1="267.10" x2="418.70" y2="267.10" stroke="#ae1139" stroke-width="0.7"/>
<line x1="421.00" y1="261.50" x2="421.00" y2="267.50" stroke="#ae1139" stroke-width="0.7"/>
<line x1="419.90" y1="261.50" x2="422.10" y2="261.50" stroke="#ae1139" stroke-width="0.7"/>
<line x1="419.90" y1="267.50" x2="422.10" y2="267.50" stroke="#ae1139" stroke-width="0.7"/>
<line x1="424.30" y1="262.00" x2="424.30" y2="268.00" stroke="#ae1139" stroke-width="0.7"/>
<line x1="423.20" y1="262.00" x2="425.40" y2="262.00" stroke="#ae1139" stroke-width="0.7"/>
<line x1="423.20" y1="268.00" x2="425.40" y2="268.00" stroke="#ae1139" stroke-width="0.7"/>
<line x1="426.50" y1="263.30" x2="426.50" y2="269.30" stroke="#ae1139" stroke-width="0.7"/>
<line x1="425.40" y1="263.30" x2="427.60" y2="263.30" stroke="#ae1139" stroke-width="0.7"/>
<line x1="425.40" y1="269.30" x2="427.60" y2="269.30" stroke="#ae1139" stroke-width="0.7"/>
<line x1="408.00" y1="240.20" x2="408.00" y2="257.90" stroke="#25458a" stroke-width="0.8"/>
<line x1="406.70" y1="240.20" x2="409.30" y2="240.20" stroke="#25458a" stroke-width="0.8"/>
<line x1="406.70" y1="257.90" x2="409.30" y2="257.90" stroke="#25458a" stroke-width="0.8"/>
<line x1="414.80" y1="227.20" x2="414.80" y2="254.50" stroke="#25458a" stroke-width="0.8"/>
<line x1="413.50" y1="227.20" x2="416.10" y2="227.20" stroke="#25458a" stroke-width="0.8"/>
<line x1="413.50" y1="254.50" x2="416.10" y2="254.50" stroke="#25458a" stroke-width="0.8"/>
<line x1="418.60" y1="208.40" x2="418.60" y2="235.20" stroke="#25458a" stroke-width="0.8"/>
<line x1="417.30" y1="208.40" x2="419.90" y2="208.40" stroke="#25458a" stroke-width="0.8"/>
<line x1="417.30" y1="235.20" x2="419.90" y2="235.20" stroke="#25458a" stroke-width="0.8"/>
<line x1="425.50" y1="196.10" x2="425.50" y2="206.00" stroke="#25458a" stroke-width="0.8"/>
<line x1="424.20" y1="196.10" x2="426.80" y2="196.10" stroke="#25458a" stroke-width="0.8"/>
<line x1="424.20" y1="206.00" x2="426.80" y2="206.00" stroke="#25458a" stroke-width="0.8"/>
<line x1="421.60" y1="206.00" x2="421.60" y2="214.70" stroke="#25458a" stroke-width="0.8"/>
<line x1="420.30" y1="206.00" x2="422.90" y2="206.00" stroke="#25458a" stroke-width="0.8"/>
<line x1="420.30" y1="214.70" x2="422.90" y2="214.70" stroke="#25458a" stroke-width="0.8"/>
<line x1="401.50" y1="256.00" x2="401.50" y2="264.00" stroke="#25458a" stroke-width="0.7"/>
<line x1="400.40" y1="256.00" x2="402.60" y2="256.00" stroke="#25458a" stroke-width="0.7"/>
<line x1="400.40" y1="264.00" x2="402.60" y2="264.00" stroke="#25458a" stroke-width="0.7"/>
<polyline points="389.90,267.10 394.40,261.60 397.40,257.00 400.90,254.40 404.80,252.50 408.70,251.20 413.80,253.80 418.40,258.30 421.60,260.30 424.90,262.20 435.90,265.40 440.40,266.50 448.50,268.50 462.00,270.00 475.00,271.00 486.50,271.50" fill="none" stroke="#6cb33f" stroke-width="1.2" stroke-linejoin="round"/>
<polygon points="389.90,265.89 388.69,267.98 391.11,267.98" fill="#6cb33f"/>
<polygon points="394.40,260.39 393.19,262.48 395.61,262.48" fill="#6cb33f"/>
<polygon points="397.40,255.79 396.19,257.88 398.61,257.88" fill="#6cb33f"/>
<polygon points="400.90,253.19 399.69,255.28 402.11,255.28" fill="#6cb33f"/>
<polygon points="404.80,251.29 403.59,253.38 406.01,253.38" fill="#6cb33f"/>
<polygon points="408.70,249.99 407.49,252.08 409.91,252.08" fill="#6cb33f"/>
<polygon points="413.80,252.59 412.59,254.68 415.01,254.68" fill="#6cb33f"/>
<polygon points="418.40,257.09 417.19,259.18 419.61,259.18" fill="#6cb33f"/>
<polygon points="421.60,259.09 420.39,261.18 422.81,261.18" fill="#6cb33f"/>
<polygon points="424.90,260.99 423.69,263.08 426.11,263.08" fill="#6cb33f"/>
<polygon points="435.90,264.19 434.69,266.28 437.11,266.28" fill="#6cb33f"/>
<polygon points="440.40,265.29 439.19,267.38 441.61,267.38" fill="#6cb33f"/>
<polygon points="448.50,267.29 447.29,269.38 449.71,269.38" fill="#6cb33f"/>
<polygon points="462.00,268.79 460.79,270.88 463.21,270.88" fill="#6cb33f"/>
<polygon points="475.00,269.79 473.79,271.88 476.21,271.88" fill="#6cb33f"/>
<polygon points="486.50,270.29 485.29,272.38 487.71,272.38" fill="#6cb33f"/>
<polyline points="389.90,267.10 394.00,268.00 398.30,265.40 401.50,262.80 404.80,262.20 408.00,263.20 413.00,263.80 417.60,264.10 421.00,264.50 424.30,265.00 426.50,266.30 429.40,268.40 436.00,268.00 445.00,268.80 460.00,269.70 475.00,271.00 486.00,271.50" fill="none" stroke="#ae1139" stroke-width="1.2" stroke-linejoin="round"/>
<rect x="388.80" y="266.00" width="2.20" height="2.20" fill="#ae1139"/>
<rect x="392.90" y="266.90" width="2.20" height="2.20" fill="#ae1139"/>
<rect x="397.20" y="264.30" width="2.20" height="2.20" fill="#ae1139"/>
<rect x="400.40" y="261.70" width="2.20" height="2.20" fill="#ae1139"/>
<rect x="403.70" y="261.10" width="2.20" height="2.20" fill="#ae1139"/>
<rect x="406.90" y="262.10" width="2.20" height="2.20" fill="#ae1139"/>
<rect x="411.90" y="262.70" width="2.20" height="2.20" fill="#ae1139"/>
<rect x="416.50" y="263.00" width="2.20" height="2.20" fill="#ae1139"/>
<rect x="419.90" y="263.40" width="2.20" height="2.20" fill="#ae1139"/>
<rect x="423.20" y="263.90" width="2.20" height="2.20" fill="#ae1139"/>
<rect x="425.40" y="265.20" width="2.20" height="2.20" fill="#ae1139"/>
<rect x="428.30" y="267.30" width="2.20" height="2.20" fill="#ae1139"/>
<rect x="434.90" y="266.90" width="2.20" height="2.20" fill="#ae1139"/>
<rect x="443.90" y="267.70" width="2.20" height="2.20" fill="#ae1139"/>
<rect x="458.90" y="268.60" width="2.20" height="2.20" fill="#ae1139"/>
<rect x="473.90" y="269.90" width="2.20" height="2.20" fill="#ae1139"/>
<rect x="484.90" y="270.40" width="2.20" height="2.20" fill="#ae1139"/>
<polyline points="389.90,263.80 394.00,266.70 398.30,262.80 401.50,260.30 404.80,257.30 408.00,251.50 414.80,241.50 418.60,221.50 421.60,211.30 423.20,207.50 425.50,202.90" fill="none" stroke="#25458a" stroke-width="1.2" stroke-linejoin="round"/>
<circle cx="389.90" cy="263.80" r="1.30" fill="#25458a"/>
<circle cx="394.00" cy="266.70" r="1.30" fill="#25458a"/>
<circle cx="398.30" cy="262.80" r="1.30" fill="#25458a"/>
<circle cx="401.50" cy="260.30" r="1.30" fill="#25458a"/>
<circle cx="404.80" cy="257.30" r="1.30" fill="#25458a"/>
<circle cx="408.00" cy="251.50" r="1.30" fill="#25458a"/>
<circle cx="414.80" cy="241.50" r="1.30" fill="#25458a"/>
<circle cx="418.60" cy="221.50" r="1.30" fill="#25458a"/>
<circle cx="421.60" cy="211.30" r="1.30" fill="#25458a"/>
<circle cx="423.20" cy="207.50" r="1.30" fill="#25458a"/>
<circle cx="425.50" cy="202.90" r="1.30" fill="#25458a"/>
<line x1="432.50" y1="202.90" x2="442.70" y2="202.90" stroke="#25458a" stroke-width="1.2"/>
<circle cx="437.60" cy="202.90" r="1.30" fill="#25458a"/>
<text x="446.50" y="205.80" font-size="8.2" text-anchor="start" fill="#231f20" stroke="#231f20" stroke-width="0.3" textLength="24.00" lengthAdjust="spacingAndGlyphs" >UTD T</text>
<line x1="432.50" y1="215.00" x2="442.70" y2="215.00" stroke="#ae1139" stroke-width="1.2"/>
<rect x="436.30" y="213.70" width="2.60" height="2.60" fill="#ae1139"/>
<text x="446.50" y="217.90" font-size="8.2" text-anchor="start" fill="#231f20" stroke="#231f20" stroke-width="0.3" textLength="51.40" lengthAdjust="spacingAndGlyphs" >Nb157 CAR T</text>
<line x1="432.50" y1="226.90" x2="442.70" y2="226.90" stroke="#6cb33f" stroke-width="1.2"/>
<polygon points="437.60,225.47 436.17,227.94 439.03,227.94" fill="#6cb33f"/>
<text x="446.50" y="229.80" font-size="8.2" text-anchor="start" fill="#231f20" stroke="#231f20" stroke-width="0.3" textLength="51.40" lengthAdjust="spacingAndGlyphs" >Nb163 CAR T</text>
<text x="205.00" y="33.80" font-size="9.7" text-anchor="start" fill="#231f20" stroke="#231f20" stroke-width="0.15" textLength="57.30" lengthAdjust="spacingAndGlyphs" >THP-1 tumor</text>
<text x="201.30" y="63.00" font-size="8.2" text-anchor="end" fill="#3b5998" stroke="#3b5998" stroke-width="0.15" textLength="16.80" lengthAdjust="spacingAndGlyphs" >UTD</text>
<text x="201.30" y="86.40" font-size="8.2" text-anchor="end" fill="#6cb33f" stroke="#6cb33f" stroke-width="0.15" textLength="25.30" lengthAdjust="spacingAndGlyphs" >Nb163</text>
<text x="201.30" y="110.00" font-size="8.2" text-anchor="end" fill="#b3123d" stroke="#b3123d" stroke-width="0.15" textLength="25.30" lengthAdjust="spacingAndGlyphs" >Nb157</text>
<defs>
<linearGradient id="bgB" x1="0" y1="0" x2="1" y2="1">
<stop offset="0" stop-color="#c5c8dd"/><stop offset="0.5" stop-color="#cdcfe0"/><stop offset="1" stop-color="#c6cade"/></linearGradient>
<radialGradient id="bl1" cx="0.5" cy="0.5" r="0.5"><stop offset="0" stop-color="#b2b8d8" stop-opacity="0.7"/><stop offset="1" stop-color="#b0badb" stop-opacity="0"/></radialGradient>
<radialGradient id="wh1" cx="0.5" cy="0.5" r="0.5"><stop offset="0" stop-color="#e0e0e8" stop-opacity="0.8"/><stop offset="1" stop-color="#e0e0e8" stop-opacity="0"/></radialGradient>
<radialGradient id="tum" cx="0.5" cy="0.5" r="0.5"><stop offset="0" stop-color="#c89868"/><stop offset="0.5" stop-color="#b47c50"/><stop offset="0.82" stop-color="#8c4e30"/><stop offset="1" stop-color="#8c4e30" stop-opacity="0.4"/></radialGradient>
<radialGradient id="tum2" cx="0.5" cy="0.5" r="0.5"><stop offset="0" stop-color="#b88458"/><stop offset="0.65" stop-color="#98603c"/><stop offset="1" stop-color="#98603c" stop-opacity="0.3"/></radialGradient>
<radialGradient id="tum3" cx="0.5" cy="0.55" r="0.5"><stop offset="0" stop-color="#dcc088"/><stop offset="0.55" stop-color="#c49060"/><stop offset="0.85" stop-color="#985632"/><stop offset="1" stop-color="#985632" stop-opacity="0.4"/></radialGradient>
<pattern id="vstr" width="2" height="2" patternUnits="userSpaceOnUse"><rect width="1" height="2" fill="#ffffff" fill-opacity="0.12"/><rect width="2" height="1" fill="#8890b8" fill-opacity="0.06"/></pattern>
<clipPath id="cB"><rect x="204.7" y="51.4" width="98.6" height="59.4"/></clipPath>
</defs>
<g clip-path="url(#cB)">
<rect x="204.7" y="51.4" width="98.6" height="59.4" fill="url(#bgB)"/>
<ellipse cx="226" cy="100" rx="30" ry="16" fill="url(#bl1)"/>
<ellipse cx="258" cy="72" rx="24" ry="14" fill="url(#bl1)"/>
<ellipse cx="220" cy="72" rx="14" ry="12" fill="url(#bl1)"/>
<ellipse cx="292" cy="74" rx="16" ry="20" fill="url(#wh1)"/>
<ellipse cx="252" cy="96" rx="14" ry="9" fill="url(#wh1)"/>
<rect x="204.7" y="51.4" width="98.6" height="59.4" fill="url(#vstr)"/>
<ellipse cx="211.6" cy="59.6" rx="6.7" ry="3.6" transform="rotate(-5 211.6 59.6)" fill="url(#tum)"/>
<ellipse cx="241.4" cy="59.0" rx="7.6" ry="5.8" transform="rotate(55 241.4 59.0)" fill="url(#tum)"/>
<ellipse cx="272.8" cy="58.8" rx="7.1" ry="4.9" transform="rotate(8 272.8 58.8)" fill="url(#tum)"/>
<ellipse cx="298.2" cy="61.2" rx="4.4" ry="5.4" transform="rotate(-15 298.2 61.2)" fill="url(#tum3)"/>
<ellipse cx="213.3" cy="88.6" rx="1.3" ry="1.2" transform="rotate(0 213.3 88.6)" fill="url(#tum2)"/>
<ellipse cx="244" cy="86.3" rx="2.2" ry="1.6" transform="rotate(-20 244 86.3)" fill="url(#tum2)"/>
<ellipse cx="274" cy="87.5" rx="2.7" ry="2.4" transform="rotate(40 274 87.5)" fill="url(#tum2)"/>
<ellipse cx="296.4" cy="88.6" rx="2.3" ry="3.1" transform="rotate(-25 296.4 88.6)" fill="url(#tum2)"/>
<ellipse cx="243.3" cy="107.2" rx="2.4" ry="3.0" transform="rotate(-10 243.3 107.2)" fill="url(#tum2)"/>
<ellipse cx="277.4" cy="106.4" rx="1.9" ry="2.1" transform="rotate(-30 277.4 106.4)" fill="url(#tum2)"/>
<ellipse cx="295.8" cy="106.8" rx="3.0" ry="1.9" transform="rotate(0 295.8 106.8)" fill="url(#tum3)"/>
<path d="M214 104.6 Q215.6 107 216.2 109.6 Q214 111 211.8 109.6 Q212.4 107 214 104.6 Z" fill="#8a3a26"/>
<ellipse cx="244.3" cy="106.6" rx="1.3" ry="1.8" fill="#c8cbe0" fill-opacity="0.8"/>
<circle cx="240.5" cy="59.5" r="1.3" fill="#c0503a" fill-opacity="0.7"/><circle cx="272" cy="57.6" r="0.9" fill="#c0503a" fill-opacity="0.7"/><circle cx="297.6" cy="58.6" r="1" fill="#c0503a" fill-opacity="0.6"/>
<rect x="291" y="109.3" width="10.6" height="1.6" fill="#111"/>
</g>
<text x="328.60" y="34.20" font-size="9.7" text-anchor="start" fill="#231f20" stroke="#231f20" stroke-width="0.15" textLength="56.90" lengthAdjust="spacingAndGlyphs" >THP-1 tumor</text>
<text x="356.30" y="46.70" font-size="8.2" text-anchor="middle" fill="#5b9bd5" stroke="#5b9bd5" stroke-width="0.15" textLength="16.60" lengthAdjust="spacingAndGlyphs" >UTD</text>
<text x="420.80" y="46.70" font-size="8.2" text-anchor="middle" fill="#6cb33f" stroke="#6cb33f" stroke-width="0.15" textLength="24.70" lengthAdjust="spacingAndGlyphs" >Nb163</text>
<text x="484.20" y="46.70" font-size="8.2" text-anchor="middle" fill="#b3123d" stroke="#b3123d" stroke-width="0.15" textLength="25.30" lengthAdjust="spacingAndGlyphs" >Nb157</text>
<clipPath id="c1"><rect x="328" y="52" width="59.1" height="59.5"/></clipPath><g clip-path="url(#c1)">
<rect x="328" y="52" width="59.1" height="59.5" fill="#c986da"/>
<circle cx="347.1" cy="61.0" r="2.5" fill="#e8b8ec" fill-opacity="0.7"/>
<circle cx="332.3" cy="83.9" r="2.0" fill="#e8b8ec" fill-opacity="0.7"/>
<circle cx="331.4" cy="82.2" r="1.6" fill="#e8b8ec" fill-opacity="0.7"/>
<circle cx="353.6" cy="56.2" r="1.6" fill="#e8b8ec" fill-opacity="0.7"/>
<circle cx="353.1" cy="101.2" r="1.7" fill="#e8b8ec" fill-opacity="0.7"/>
<circle cx="341.2" cy="89.3" r="2.9" fill="#e8b8ec" fill-opacity="0.7"/>
<circle cx="362.1" cy="75.6" r="3.0" fill="#e8b8ec" fill-opacity="0.7"/>
<circle cx="330.8" cy="103.1" r="1.9" fill="#e8b8ec" fill-opacity="0.7"/>
<circle cx="336.5" cy="59.0" r="2.0" fill="#e8b8ec" fill-opacity="0.7"/>
<circle cx="376.2" cy="62.8" r="2.4" fill="#e8b8ec" fill-opacity="0.7"/>
<circle cx="365.8" cy="74.2" r="2.3" fill="#e8b8ec" fill-opacity="0.7"/>
<circle cx="331.7" cy="55.5" r="1.8" fill="#e8b8ec" fill-opacity="0.7"/>
<circle cx="368.2" cy="77.4" r="2.0" fill="#e8b8ec" fill-opacity="0.7"/>
<circle cx="362.6" cy="79.0" r="1.9" fill="#e8b8ec" fill-opacity="0.7"/>
<circle cx="374.9" cy="93.6" r="1.9" fill="#e8b8ec" fill-opacity="0.7"/>
<circle cx="361.9" cy="83.2" r="2.8" fill="#e8b8ec" fill-opacity="0.7"/>
<circle cx="371.1" cy="69.1" r="3.0" fill="#e8b8ec" fill-opacity="0.7"/>
<circle cx="335.0" cy="76.9" r="2.6" fill="#e8b8ec" fill-opacity="0.7"/>
<circle cx="337.0" cy="81.1" r="1.6" fill="#e8b8ec" fill-opacity="0.7"/>
<circle cx="367.5" cy="97.5" r="2.4" fill="#e8b8ec" fill-opacity="0.7"/>
<circle cx="379.7" cy="70.7" r="2.5" fill="#e8b8ec" fill-opacity="0.7"/>
<circle cx="363.1" cy="86.5" r="2.2" fill="#e8b8ec" fill-opacity="0.7"/>
<circle cx="377.6" cy="108.2" r="2.2" fill="#e8b8ec" fill-opacity="0.7"/>
<circle cx="367.3" cy="55.6" r="2.6" fill="#e8b8ec" fill-opacity="0.7"/>
<circle cx="366.2" cy="111.1" r="2.7" fill="#e8b8ec" fill-opacity="0.7"/>
<circle cx="344.8" cy="75.0" r="2.5" fill="#e8b8ec" fill-opacity="0.7"/>
<circle cx="329.3" cy="79.5" r="1.8" fill="#e8b8ec" fill-opacity="0.7"/>
<circle cx="334.9" cy="55.5" r="2.7" fill="#e8b8ec" fill-opacity="0.7"/>
<circle cx="335.6" cy="66.7" r="2.1" fill="#e8b8ec" fill-opacity="0.7"/>
<circle cx="379.5" cy="56.8" r="2.2" fill="#e8b8ec" fill-opacity="0.7"/>
<circle cx="360.5" cy="104.6" r="2.7" fill="#e8b8ec" fill-opacity="0.7"/>
<circle cx="379.1" cy="68.6" r="2.1" fill="#e8b8ec" fill-opacity="0.7"/>
<circle cx="349.2" cy="104.6" r="2.9" fill="#e8b8ec" fill-opacity="0.7"/>
<circle cx="336.9" cy="62.5" r="1.8" fill="#e8b8ec" fill-opacity="0.7"/>
<circle cx="341.8" cy="80.9" r="2.4" fill="#e8b8ec" fill-opacity="0.7"/>
<circle cx="343.5" cy="52.2" r="2.1" fill="#e8b8ec" fill-opacity="0.7"/>
<circle cx="349.8" cy="85.7" r="2.9" fill="#e8b8ec" fill-opacity="0.7"/>
<circle cx="368.8" cy="82.7" r="2.4" fill="#e8b8ec" fill-opacity="0.7"/>
<circle cx="368.0" cy="55.2" r="2.8" fill="#e8b8ec" fill-opacity="0.7"/>
<circle cx="374.1" cy="104.0" r="2.7" fill="#e8b8ec" fill-opacity="0.7"/>
<circle cx="351.2" cy="75.7" r="1.7" fill="#e8b8ec" fill-opacity="0.7"/>
<circle cx="365.5" cy="55.7" r="1.6" fill="#e8b8ec" fill-opacity="0.7"/>
<circle cx="340.3" cy="61.7" r="2.0" fill="#e8b8ec" fill-opacity="0.7"/>
<circle cx="331.1" cy="52.0" r="1.7" fill="#e8b8ec" fill-opacity="0.7"/>
<circle cx="334.0" cy="73.6" r="1.5" fill="#e8b8ec" fill-opacity="0.7"/>
<circle cx="379.7" cy="88.5" r="1.7" fill="#e8b8ec" fill-opacity="0.7"/>
<circle cx="342.9" cy="72.7" r="2.0" fill="#e8b8ec" fill-opacity="0.7"/>
<circle cx="335.3" cy="102.5" r="3.0" fill="#e8b8ec" fill-opacity="0.7"/>
<circle cx="355.5" cy="80.8" r="1.6" fill="#e8b8ec" fill-opacity="0.7"/>
<circle cx="334.0" cy="72.4" r="1.9" fill="#e8b8ec" fill-opacity="0.7"/>
<circle cx="377.0" cy="61.6" r="1.5" fill="#e8b8ec" fill-opacity="0.7"/>
<circle cx="384.2" cy="83.4" r="1.7" fill="#e8b8ec" fill-opacity="0.7"/>
<circle cx="360.1" cy="53.6" r="2.3" fill="#e8b8ec" fill-opacity="0.7"/>
<circle cx="385.8" cy="103.4" r="2.5" fill="#e8b8ec" fill-opacity="0.7"/>
<circle cx="343.4" cy="73.8" r="1.8" fill="#e8b8ec" fill-opacity="0.7"/>
<circle cx="373.6" cy="83.7" r="2.7" fill="#e8b8ec" fill-opacity="0.7"/>
<circle cx="347.5" cy="65.3" r="2.7" fill="#e8b8ec" fill-opacity="0.7"/>
<circle cx="386.2" cy="102.7" r="2.7" fill="#e8b8ec" fill-opacity="0.7"/>
<circle cx="376.4" cy="96.0" r="1.8" fill="#e8b8ec" fill-opacity="0.7"/>
<circle cx="358.6" cy="73.2" r="1.5" fill="#e8b8ec" fill-opacity="0.7"/>
<ellipse cx="326.4" cy="50.3" rx="1.4" ry="1.1" fill="#a46ad8" fill-opacity="0.85"/>
<ellipse cx="331.1" cy="50.6" rx="1.0" ry="1.0" fill="#9058d4" fill-opacity="0.85"/>
<ellipse cx="333.5" cy="51.0" rx="1.5" ry="1.1" fill="#7444cc" fill-opacity="0.85"/>
<ellipse cx="338.3" cy="49.8" rx="1.1" ry="1.1" fill="#a46ad8" fill-opacity="0.85"/>
<ellipse cx="340.2" cy="52.1" rx="1.5" ry="1.1" fill="#9a60d8" fill-opacity="0.85"/>
<ellipse cx="345.8" cy="50.7" rx="1.4" ry="0.9" fill="#9a60d8" fill-opacity="0.85"/>
<ellipse cx="349.4" cy="49.7" rx="1.5" ry="1.3" fill="#7444cc" fill-opacity="0.85"/>
<ellipse cx="352.4" cy="52.3" rx="1.6" ry="1.0" fill="#a46ad8" fill-opacity="0.85"/>
<ellipse cx="353.7" cy="51.8" rx="1.4" ry="1.2" fill="#a46ad8" fill-opacity="0.85"/>
<ellipse cx="363.0" cy="51.9" rx="1.0" ry="1.0" fill="#7840c8" fill-opacity="0.85"/>
<ellipse cx="366.2" cy="50.5" rx="1.3" ry="1.0" fill="#7444cc" fill-opacity="0.85"/>
<ellipse cx="372.4" cy="51.2" rx="1.3" ry="1.4" fill="#7444cc" fill-opacity="0.85"/>
<ellipse cx="376.1" cy="51.1" rx="1.5" ry="1.3" fill="#8048d0" fill-opacity="0.85"/>
<ellipse cx="380.3" cy="50.0" rx="1.3" ry="1.3" fill="#7840c8" fill-opacity="0.85"/>
<ellipse cx="382.5" cy="51.1" rx="1.3" ry="1.3" fill="#7444cc" fill-opacity="0.85"/>
<ellipse cx="326.1" cy="53.2" rx="1.3" ry="1.2" fill="#8048d0" fill-opacity="0.85"/>
<ellipse cx="331.7" cy="54.3" rx="1.6" ry="1.2" fill="#7444cc" fill-opacity="0.85"/>
<ellipse cx="333.4" cy="54.5" rx="1.3" ry="1.0" fill="#9a60d8" fill-opacity="0.85"/>
<ellipse cx="338.6" cy="55.7" rx="1.5" ry="1.0" fill="#7444cc" fill-opacity="0.85"/>
<ellipse cx="340.8" cy="54.2" rx="1.0" ry="1.0" fill="#9058d4" fill-opacity="0.85"/>
<ellipse cx="345.0" cy="55.3" rx="1.6" ry="1.2" fill="#7840c8" fill-opacity="0.85"/>
<ellipse cx="347.3" cy="53.5" rx="1.1" ry="1.4" fill="#9a60d8" fill-opacity="0.85"/>
<ellipse cx="351.5" cy="55.9" rx="1.1" ry="1.1" fill="#7840c8" fill-opacity="0.85"/>
<ellipse cx="354.5" cy="53.6" rx="1.1" ry="1.1" fill="#9058d4" fill-opacity="0.85"/>
<ellipse cx="358.4" cy="55.1" rx="1.2" ry="1.2" fill="#9a60d8" fill-opacity="0.85"/>
<ellipse cx="360.8" cy="55.9" rx="1.6" ry="1.0" fill="#7840c8" fill-opacity="0.85"/>
<ellipse cx="364.2" cy="55.3" rx="1.5" ry="1.3" fill="#9058d4" fill-opacity="0.85"/>
<ellipse cx="369.5" cy="55.7" rx="1.1" ry="1.4" fill="#9a60d8" fill-opacity="0.85"/>
<ellipse cx="373.1" cy="53.4" rx="1.5" ry="1.0" fill="#8048d0" fill-opacity="0.85"/>
<ellipse cx="378.1" cy="53.3" rx="1.1" ry="1.3" fill="#9058d4" fill-opacity="0.85"/>
<ellipse cx="384.0" cy="54.4" rx="1.6" ry="1.1" fill="#9058d4" fill-opacity="0.85"/>
<ellipse cx="325.7" cy="58.6" rx="1.6" ry="1.0" fill="#8048d0" fill-opacity="0.85"/>
<ellipse cx="331.7" cy="58.4" rx="1.5" ry="1.0" fill="#7444cc" fill-opacity="0.85"/>
<ellipse cx="333.1" cy="57.6" rx="1.6" ry="0.9" fill="#8048d0" fill-opacity="0.85"/>
<ellipse cx="337.5" cy="59.3" rx="1.3" ry="1.4" fill="#7444cc" fill-opacity="0.85"/>
<ellipse cx="341.9" cy="57.8" rx="1.3" ry="1.3" fill="#9a60d8" fill-opacity="0.85"/>
<ellipse cx="347.2" cy="57.2" rx="1.5" ry="1.3" fill="#7840c8" fill-opacity="0.85"/>
<ellipse cx="351.2" cy="57.6" rx="1.5" ry="0.9" fill="#8048d0" fill-opacity="0.85"/>
<ellipse cx="356.1" cy="57.8" rx="1.1" ry="1.3" fill="#8048d0" fill-opacity="0.85"/>
<ellipse cx="359.0" cy="57.4" rx="1.4" ry="0.9" fill="#7840c8" fill-opacity="0.85"/>
<ellipse cx="361.4" cy="56.6" rx="1.6" ry="1.4" fill="#9058d4" fill-opacity="0.85"/>
<ellipse cx="364.8" cy="59.3" rx="1.1" ry="1.0" fill="#9058d4" fill-opacity="0.85"/>
<ellipse cx="367.8" cy="57.4" rx="1.1" ry="1.2" fill="#a46ad8" fill-opacity="0.85"/>
<ellipse cx="371.8" cy="56.9" rx="1.4" ry="1.1" fill="#9a60d8" fill-opacity="0.85"/>
<ellipse cx="376.4" cy="56.8" rx="1.5" ry="1.0" fill="#7444cc" fill-opacity="0.85"/>
<ellipse cx="383.3" cy="58.7" rx="1.6" ry="1.0" fill="#a46ad8" fill-opacity="0.85"/>
<ellipse cx="386.9" cy="56.7" rx="1.5" ry="1.2" fill="#a46ad8" fill-opacity="0.85"/>
<ellipse cx="327.9" cy="60.5" rx="1.5" ry="1.2" fill="#7444cc" fill-opacity="0.85"/>
<ellipse cx="329.1" cy="62.0" rx="1.4" ry="1.2" fill="#a46ad8" fill-opacity="0.85"/>
<ellipse cx="332.7" cy="60.5" rx="1.6" ry="1.1" fill="#9058d4" fill-opacity="0.85"/>
<ellipse cx="336.2" cy="60.2" rx="1.4" ry="1.1" fill="#7444cc" fill-opacity="0.85"/>
<ellipse cx="341.8" cy="62.2" rx="1.5" ry="0.9" fill="#7444cc" fill-opacity="0.85"/>
<ellipse cx="345.2" cy="61.4" rx="1.5" ry="1.0" fill="#8048d0" fill-opacity="0.85"/>
<ellipse cx="347.2" cy="61.9" rx="1.3" ry="1.1" fill="#9a60d8" fill-opacity="0.85"/>
<ellipse cx="352.0" cy="62.2" rx="1.4" ry="1.0" fill="#7444cc" fill-opacity="0.85"/>
<ellipse cx="354.5" cy="61.9" rx="1.2" ry="1.2" fill="#a46ad8" fill-opacity="0.85"/>
<ellipse cx="357.3" cy="60.9" rx="1.1" ry="1.0" fill="#a46ad8" fill-opacity="0.85"/>
<ellipse cx="362.6" cy="60.9" rx="1.3" ry="1.0" fill="#9a60d8" fill-opacity="0.85"/>
<ellipse cx="370.3" cy="62.7" rx="1.2" ry="0.9" fill="#8048d0" fill-opacity="0.85"/>
<ellipse cx="373.9" cy="62.9" rx="1.1" ry="1.4" fill="#9a60d8" fill-opacity="0.85"/>
<ellipse cx="376.2" cy="60.5" rx="1.2" ry="1.1" fill="#7444cc" fill-opacity="0.85"/>
<ellipse cx="379.9" cy="60.9" rx="1.4" ry="1.0" fill="#8048d0" fill-opacity="0.85"/>
<ellipse cx="385.2" cy="60.1" rx="1.4" ry="1.1" fill="#9a60d8" fill-opacity="0.85"/>
<ellipse cx="326.8" cy="64.7" rx="1.5" ry="0.9" fill="#8048d0" fill-opacity="0.85"/>
<ellipse cx="331.4" cy="63.9" rx="1.4" ry="1.4" fill="#7840c8" fill-opacity="0.85"/>
<ellipse cx="333.6" cy="64.7" rx="1.0" ry="1.4" fill="#7444cc" fill-opacity="0.85"/>
<ellipse cx="338.5" cy="64.4" rx="1.5" ry="1.0" fill="#8048d0" fill-opacity="0.85"/>
<ellipse cx="343.8" cy="65.0" rx="1.5" ry="1.3" fill="#7840c8" fill-opacity="0.85"/>
<ellipse cx="346.7" cy="65.7" rx="1.5" ry="1.4" fill="#9a60d8" fill-opacity="0.85"/>
<ellipse cx="352.1" cy="63.7" rx="1.2" ry="1.2" fill="#a46ad8" fill-opacity="0.85"/>
<ellipse cx="356.0" cy="65.0" rx="1.1" ry="1.1" fill="#7444cc" fill-opacity="0.85"/>
<ellipse cx="357.9" cy="65.7" rx="1.2" ry="1.2" fill="#a46ad8" fill-opacity="0.85"/>
<ellipse cx="362.2" cy="64.7" rx="1.4" ry="0.9" fill="#7840c8" fill-opacity="0.85"/>
<ellipse cx="366.4" cy="65.1" rx="1.5" ry="1.4" fill="#9a60d8" fill-opacity="0.85"/>
<ellipse cx="368.0" cy="64.1" rx="1.1" ry="1.2" fill="#8048d0" fill-opacity="0.85"/>
<ellipse cx="372.1" cy="65.9" rx="1.5" ry="1.3" fill="#7840c8" fill-opacity="0.85"/>
<ellipse cx="375.8" cy="65.1" rx="1.2" ry="1.3" fill="#9a60d8" fill-opacity="0.85"/>
<ellipse cx="379.7" cy="64.6" rx="1.3" ry="1.2" fill="#a46ad8" fill-opacity="0.85"/>
<ellipse cx="382.2" cy="64.4" rx="1.2" ry="1.2" fill="#7840c8" fill-opacity="0.85"/>
<ellipse cx="386.0" cy="65.9" rx="1.1" ry="1.1" fill="#8048d0" fill-opacity="0.85"/>
<ellipse cx="327.9" cy="69.8" rx="1.0" ry="1.1" fill="#9a60d8" fill-opacity="0.85"/>
<ellipse cx="335.0" cy="69.8" rx="1.5" ry="1.0" fill="#7840c8" fill-opacity="0.85"/>
<ellipse cx="338.8" cy="67.4" rx="1.4" ry="1.3" fill="#a46ad8" fill-opacity="0.85"/>
<ellipse cx="345.3" cy="67.1" rx="1.1" ry="1.4" fill="#7840c8" fill-opacity="0.85"/>
<ellipse cx="347.5" cy="67.5" rx="1.3" ry="1.1" fill="#9058d4" fill-opacity="0.85"/>
<ellipse cx="350.4" cy="67.9" rx="1.1" ry="1.0" fill="#7444cc" fill-opacity="0.85"/>
<ellipse cx="353.6" cy="68.6" rx="1.2" ry="1.1" fill="#9a60d8" fill-opacity="0.85"/>
<ellipse cx="357.8" cy="68.6" rx="1.1" ry="1.4" fill="#7444cc" fill-opacity="0.85"/>
<ellipse cx="361.5" cy="67.2" rx="1.5" ry="1.2" fill="#9a60d8" fill-opacity="0.85"/>
<ellipse cx="364.7" cy="68.3" rx="1.1" ry="0.9" fill="#9058d4" fill-opacity="0.85"/>
<ellipse cx="368.8" cy="69.0" rx="1.0" ry="1.0" fill="#7840c8" fill-opacity="0.85"/>
<ellipse cx="371.3" cy="68.5" rx="1.2" ry="1.3" fill="#7840c8" fill-opacity="0.85"/>
<ellipse cx="375.2" cy="69.2" rx="1.1" ry="1.2" fill="#9058d4" fill-opacity="0.85"/>
<ellipse cx="380.6" cy="68.5" rx="1.0" ry="1.2" fill="#a46ad8" fill-opacity="0.85"/>
<ellipse cx="385.2" cy="68.8" rx="1.0" ry="0.9" fill="#9a60d8" fill-opacity="0.85"/>
<ellipse cx="328.1" cy="73.1" rx="1.1" ry="0.9" fill="#a46ad8" fill-opacity="0.85"/>
<ellipse cx="329.6" cy="72.4" rx="1.4" ry="0.9" fill="#7444cc" fill-opacity="0.85"/>
<ellipse cx="333.7" cy="71.6" rx="1.3" ry="1.0" fill="#9058d4" fill-opacity="0.85"/>
<ellipse cx="336.3" cy="71.8" rx="1.3" ry="1.3" fill="#8048d0" fill-opacity="0.85"/>
<ellipse cx="341.8" cy="71.5" rx="1.1" ry="1.3" fill="#9a60d8" fill-opacity="0.85"/>
<ellipse cx="344.6" cy="71.8" rx="1.2" ry="1.3" fill="#9058d4" fill-opacity="0.85"/>
<ellipse cx="347.8" cy="72.9" rx="1.0" ry="0.9" fill="#9a60d8" fill-opacity="0.85"/>
<ellipse cx="352.7" cy="71.3" rx="1.0" ry="1.2" fill="#a46ad8" fill-opacity="0.85"/>
<ellipse cx="354.5" cy="73.3" rx="1.2" ry="1.3" fill="#8048d0" fill-opacity="0.85"/>
<ellipse cx="357.9" cy="70.6" rx="1.5" ry="1.2" fill="#7444cc" fill-opacity="0.85"/>
<ellipse cx="364.8" cy="71.9" rx="1.6" ry="1.1" fill="#9a60d8" fill-opacity="0.85"/>
<ellipse cx="368.8" cy="72.0" rx="1.1" ry="1.3" fill="#9a60d8" fill-opacity="0.85"/>
<ellipse cx="373.4" cy="72.8" rx="1.1" ry="1.3" fill="#7444cc" fill-opacity="0.85"/>
<ellipse cx="376.8" cy="72.3" rx="1.1" ry="1.3" fill="#7444cc" fill-opacity="0.85"/>
<ellipse cx="378.3" cy="70.7" rx="1.3" ry="1.0" fill="#7444cc" fill-opacity="0.85"/>
<ellipse cx="381.9" cy="70.8" rx="1.1" ry="0.9" fill="#7444cc" fill-opacity="0.85"/>
<ellipse cx="387.1" cy="71.9" rx="1.1" ry="1.1" fill="#7840c8" fill-opacity="0.85"/>
<ellipse cx="330.6" cy="76.3" rx="1.5" ry="1.0" fill="#8048d0" fill-opacity="0.85"/>
<ellipse cx="333.3" cy="74.8" rx="1.1" ry="1.0" fill="#9058d4" fill-opacity="0.85"/>
<ellipse cx="336.5" cy="76.6" rx="1.1" ry="0.9" fill="#7444cc" fill-opacity="0.85"/>
<ellipse cx="340.3" cy="75.6" rx="1.5" ry="1.2" fill="#a46ad8" fill-opacity="0.85"/>
<ellipse cx="347.9" cy="76.4" rx="1.5" ry="0.9" fill="#9a60d8" fill-opacity="0.85"/>
<ellipse cx="350.4" cy="74.6" rx="1.1" ry="0.9" fill="#7444cc" fill-opacity="0.85"/>
<ellipse cx="354.1" cy="75.8" rx="1.6" ry="1.0" fill="#a46ad8" fill-opacity="0.85"/>
<ellipse cx="358.8" cy="74.7" rx="1.2" ry="0.9" fill="#9058d4" fill-opacity="0.85"/>
<ellipse cx="366.2" cy="76.7" rx="1.5" ry="1.1" fill="#8048d0" fill-opacity="0.85"/>
<ellipse cx="369.3" cy="74.3" rx="1.5" ry="1.2" fill="#8048d0" fill-opacity="0.85"/>
<ellipse cx="371.4" cy="75.2" rx="1.1" ry="1.2" fill="#7444cc" fill-opacity="0.85"/>
<ellipse cx="375.7" cy="74.9" rx="1.4" ry="1.1" fill="#9058d4" fill-opacity="0.85"/>
<ellipse cx="380.2" cy="76.6" rx="1.2" ry="1.3" fill="#9a60d8" fill-opacity="0.85"/>
<ellipse cx="385.7" cy="76.1" rx="1.6" ry="1.1" fill="#7840c8" fill-opacity="0.85"/>
<ellipse cx="325.9" cy="77.9" rx="1.5" ry="1.1" fill="#7444cc" fill-opacity="0.85"/>
<ellipse cx="329.1" cy="79.1" rx="1.5" ry="1.1" fill="#a46ad8" fill-opacity="0.85"/>
<ellipse cx="335.2" cy="79.7" rx="1.1" ry="1.0" fill="#7840c8" fill-opacity="0.85"/>
<ellipse cx="338.7" cy="77.9" rx="1.5" ry="1.3" fill="#9a60d8" fill-opacity="0.85"/>
<ellipse cx="340.4" cy="79.9" rx="1.6" ry="1.1" fill="#8048d0" fill-opacity="0.85"/>
<ellipse cx="345.7" cy="78.7" rx="1.4" ry="1.3" fill="#a46ad8" fill-opacity="0.85"/>
<ellipse cx="348.8" cy="78.2" rx="1.4" ry="1.0" fill="#9a60d8" fill-opacity="0.85"/>
<ellipse cx="351.7" cy="77.7" rx="1.1" ry="1.1" fill="#7444cc" fill-opacity="0.85"/>
<ellipse cx="356.3" cy="79.9" rx="1.0" ry="1.2" fill="#7840c8" fill-opacity="0.85"/>
<ellipse cx="357.2" cy="79.9" rx="1.2" ry="1.1" fill="#8048d0" fill-opacity="0.85"/>
<ellipse cx="362.8" cy="79.4" rx="1.3" ry="1.1" fill="#9058d4" fill-opacity="0.85"/>
<ellipse cx="365.4" cy="78.8" rx="1.0" ry="1.4" fill="#8048d0" fill-opacity="0.85"/>
<ellipse cx="368.9" cy="79.3" rx="1.5" ry="1.3" fill="#9a60d8" fill-opacity="0.85"/>
<ellipse cx="371.3" cy="78.6" rx="1.1" ry="1.1" fill="#9058d4" fill-opacity="0.85"/>
<ellipse cx="374.7" cy="79.4" rx="1.6" ry="1.1" fill="#8048d0" fill-opacity="0.85"/>
<ellipse cx="378.3" cy="79.7" rx="1.4" ry="1.3" fill="#9a60d8" fill-opacity="0.85"/>
<ellipse cx="381.8" cy="79.3" rx="1.5" ry="1.0" fill="#a46ad8" fill-opacity="0.85"/>
<ellipse cx="328.3" cy="83.7" rx="1.4" ry="1.3" fill="#7840c8" fill-opacity="0.85"/>
<ellipse cx="331.4" cy="82.8" rx="1.1" ry="1.3" fill="#9058d4" fill-opacity="0.85"/>
<ellipse cx="334.9" cy="81.5" rx="1.6" ry="1.1" fill="#7444cc" fill-opacity="0.85"/>
<ellipse cx="337.8" cy="81.8" rx="1.0" ry="1.0" fill="#9058d4" fill-opacity="0.85"/>
<ellipse cx="342.2" cy="83.0" rx="1.1" ry="1.3" fill="#9a60d8" fill-opacity="0.85"/>
<ellipse cx="344.6" cy="82.9" rx="1.6" ry="1.1" fill="#9058d4" fill-opacity="0.85"/>
<ellipse cx="348.5" cy="83.6" rx="1.6" ry="1.2" fill="#9058d4" fill-opacity="0.85"/>
<ellipse cx="352.3" cy="81.8" rx="1.3" ry="1.1" fill="#9058d4" fill-opacity="0.85"/>
<ellipse cx="354.8" cy="81.6" rx="1.6" ry="1.0" fill="#a46ad8" fill-opacity="0.85"/>
<ellipse cx="358.0" cy="83.8" rx="1.6" ry="1.3" fill="#7444cc" fill-opacity="0.85"/>
<ellipse cx="362.7" cy="81.7" rx="1.4" ry="1.1" fill="#9058d4" fill-opacity="0.85"/>
<ellipse cx="366.6" cy="81.5" rx="1.4" ry="0.9" fill="#7840c8" fill-opacity="0.85"/>
<ellipse cx="369.2" cy="82.0" rx="1.2" ry="1.0" fill="#7444cc" fill-opacity="0.85"/>
<ellipse cx="372.7" cy="81.7" rx="1.5" ry="1.0" fill="#7444cc" fill-opacity="0.85"/>
<ellipse cx="376.8" cy="83.1" rx="1.1" ry="1.2" fill="#9a60d8" fill-opacity="0.85"/>
<ellipse cx="380.3" cy="82.2" rx="1.6" ry="0.9" fill="#9058d4" fill-opacity="0.85"/>
<ellipse cx="384.1" cy="82.8" rx="1.3" ry="1.4" fill="#7444cc" fill-opacity="0.85"/>
<ellipse cx="385.8" cy="83.6" rx="1.0" ry="0.9" fill="#8048d0" fill-opacity="0.85"/>
<ellipse cx="326.0" cy="87.2" rx="1.0" ry="1.2" fill="#8048d0" fill-opacity="0.85"/>
<ellipse cx="333.2" cy="86.3" rx="1.4" ry="1.1" fill="#7444cc" fill-opacity="0.85"/>
<ellipse cx="337.5" cy="84.8" rx="1.0" ry="1.3" fill="#a46ad8" fill-opacity="0.85"/>
<ellipse cx="341.6" cy="84.6" rx="1.4" ry="1.1" fill="#9a60d8" fill-opacity="0.85"/>
<ellipse cx="344.4" cy="85.2" rx="1.2" ry="1.2" fill="#8048d0" fill-opacity="0.85"/>
<ellipse cx="349.1" cy="87.2" rx="1.4" ry="1.0" fill="#9058d4" fill-opacity="0.85"/>
<ellipse cx="351.3" cy="86.8" rx="1.6" ry="1.0" fill="#7444cc" fill-opacity="0.85"/>
<ellipse cx="362.0" cy="85.1" rx="1.5" ry="1.0" fill="#7840c8" fill-opacity="0.85"/>
<ellipse cx="366.7" cy="85.1" rx="1.2" ry="1.0" fill="#9a60d8" fill-opacity="0.85"/>
<ellipse cx="373.0" cy="86.5" rx="1.3" ry="1.3" fill="#7444cc" fill-opacity="0.85"/>
<ellipse cx="377.0" cy="85.8" rx="1.1" ry="1.3" fill="#a46ad8" fill-opacity="0.85"/>
<ellipse cx="379.2" cy="86.2" rx="1.5" ry="1.0" fill="#7444cc" fill-opacity="0.85"/>
<ellipse cx="381.9" cy="87.2" rx="1.6" ry="1.3" fill="#9058d4" fill-opacity="0.85"/>
<ellipse cx="385.5" cy="86.4" rx="1.4" ry="1.3" fill="#8048d0" fill-opacity="0.85"/>
<ellipse cx="327.3" cy="89.1" rx="1.5" ry="0.9" fill="#7444cc" fill-opacity="0.85"/>
<ellipse cx="331.7" cy="90.7" rx="1.1" ry="1.0" fill="#8048d0" fill-opacity="0.85"/>
<ellipse cx="335.3" cy="90.7" rx="1.1" ry="1.3" fill="#a46ad8" fill-opacity="0.85"/>
<ellipse cx="337.4" cy="88.5" rx="1.1" ry="1.1" fill="#a46ad8" fill-opacity="0.85"/>
<ellipse cx="339.7" cy="88.8" rx="1.0" ry="1.3" fill="#9058d4" fill-opacity="0.85"/>
<ellipse cx="348.3" cy="89.4" rx="1.4" ry="0.9" fill="#9058d4" fill-opacity="0.85"/>
<ellipse cx="351.3" cy="90.3" rx="1.3" ry="0.9" fill="#9058d4" fill-opacity="0.85"/>
<ellipse cx="355.6" cy="90.4" rx="1.5" ry="1.0" fill="#7444cc" fill-opacity="0.85"/>
<ellipse cx="357.7" cy="90.2" rx="1.0" ry="1.1" fill="#8048d0" fill-opacity="0.85"/>
<ellipse cx="362.8" cy="88.6" rx="1.4" ry="1.4" fill="#9a60d8" fill-opacity="0.85"/>
<ellipse cx="365.7" cy="88.5" rx="1.6" ry="1.0" fill="#7840c8" fill-opacity="0.85"/>
<ellipse cx="370.2" cy="90.2" rx="1.5" ry="1.2" fill="#9a60d8" fill-opacity="0.85"/>
<ellipse cx="372.9" cy="89.1" rx="1.6" ry="1.3" fill="#9a60d8" fill-opacity="0.85"/>
<ellipse cx="375.8" cy="89.9" rx="1.1" ry="1.0" fill="#9058d4" fill-opacity="0.85"/>
<ellipse cx="382.7" cy="90.6" rx="1.6" ry="1.0" fill="#7840c8" fill-opacity="0.85"/>
<ellipse cx="387.0" cy="89.8" rx="1.2" ry="1.1" fill="#8048d0" fill-opacity="0.85"/>
<ellipse cx="328.0" cy="93.5" rx="1.2" ry="1.1" fill="#a46ad8" fill-opacity="0.85"/>
<ellipse cx="329.8" cy="92.2" rx="1.3" ry="1.3" fill="#9058d4" fill-opacity="0.85"/>
<ellipse cx="333.1" cy="92.4" rx="1.5" ry="1.2" fill="#a46ad8" fill-opacity="0.85"/>
<ellipse cx="338.8" cy="93.6" rx="1.3" ry="1.0" fill="#7444cc" fill-opacity="0.85"/>
<ellipse cx="340.1" cy="94.3" rx="1.6" ry="1.0" fill="#a46ad8" fill-opacity="0.85"/>
<ellipse cx="343.6" cy="92.0" rx="1.5" ry="1.3" fill="#7840c8" fill-opacity="0.85"/>
<ellipse cx="347.1" cy="93.4" rx="1.2" ry="1.3" fill="#8048d0" fill-opacity="0.85"/>
<ellipse cx="350.1" cy="94.0" rx="1.4" ry="1.2" fill="#9a60d8" fill-opacity="0.85"/>
<ellipse cx="354.9" cy="92.0" rx="1.4" ry="0.9" fill="#7444cc" fill-opacity="0.85"/>
<ellipse cx="359.5" cy="93.6" rx="1.4" ry="1.1" fill="#7444cc" fill-opacity="0.85"/>
<ellipse cx="362.6" cy="94.1" rx="1.4" ry="1.3" fill="#a46ad8" fill-opacity="0.85"/>
<ellipse cx="365.9" cy="92.9" rx="1.2" ry="1.3" fill="#9058d4" fill-opacity="0.85"/>
<ellipse cx="372.2" cy="93.6" rx="1.2" ry="1.1" fill="#7840c8" fill-opacity="0.85"/>
<ellipse cx="376.3" cy="92.7" rx="1.4" ry="1.3" fill="#a46ad8" fill-opacity="0.85"/>
<ellipse cx="381.6" cy="93.9" rx="1.0" ry="1.2" fill="#8048d0" fill-opacity="0.85"/>
<ellipse cx="387.3" cy="94.2" rx="1.2" ry="1.3" fill="#7444cc" fill-opacity="0.85"/>
<ellipse cx="326.2" cy="96.4" rx="1.4" ry="1.3" fill="#8048d0" fill-opacity="0.85"/>
<ellipse cx="330.2" cy="97.8" rx="1.6" ry="1.0" fill="#7840c8" fill-opacity="0.85"/>
<ellipse cx="335.2" cy="97.1" rx="1.2" ry="0.9" fill="#7444cc" fill-opacity="0.85"/>
<ellipse cx="337.2" cy="95.1" rx="1.5" ry="1.2" fill="#9a60d8" fill-opacity="0.85"/>
<ellipse cx="341.2" cy="95.4" rx="1.4" ry="1.4" fill="#9058d4" fill-opacity="0.85"/>
<ellipse cx="343.7" cy="97.3" rx="1.3" ry="1.0" fill="#9a60d8" fill-opacity="0.85"/>
<ellipse cx="352.3" cy="95.6" rx="1.3" ry="1.0" fill="#a46ad8" fill-opacity="0.85"/>
<ellipse cx="358.9" cy="97.4" rx="1.3" ry="1.0" fill="#9a60d8" fill-opacity="0.85"/>
<ellipse cx="361.0" cy="97.4" rx="1.5" ry="1.0" fill="#9058d4" fill-opacity="0.85"/>
<ellipse cx="366.0" cy="97.9" rx="1.1" ry="0.9" fill="#a46ad8" fill-opacity="0.85"/>
<ellipse cx="368.4" cy="95.8" rx="1.2" ry="1.1" fill="#9058d4" fill-opacity="0.85"/>
<ellipse cx="371.3" cy="97.6" rx="1.6" ry="1.3" fill="#7840c8" fill-opacity="0.85"/>
<ellipse cx="376.9" cy="97.6" rx="1.3" ry="1.1" fill="#7840c8" fill-opacity="0.85"/>
<ellipse cx="379.9" cy="95.7" rx="1.4" ry="1.0" fill="#8048d0" fill-opacity="0.85"/>
<ellipse cx="382.0" cy="95.8" rx="1.2" ry="1.0" fill="#9a60d8" fill-opacity="0.85"/>
<ellipse cx="326.1" cy="101.1" rx="1.6" ry="0.9" fill="#7444cc" fill-opacity="0.85"/>
<ellipse cx="334.4" cy="99.4" rx="1.4" ry="1.2" fill="#9a60d8" fill-opacity="0.85"/>
<ellipse cx="337.3" cy="101.1" rx="1.1" ry="1.1" fill="#7444cc" fill-opacity="0.85"/>
<ellipse cx="340.9" cy="100.2" rx="1.3" ry="1.0" fill="#9a60d8" fill-opacity="0.85"/>
<ellipse cx="344.5" cy="100.1" rx="1.0" ry="1.3" fill="#a46ad8" fill-opacity="0.85"/>
<ellipse cx="348.2" cy="100.5" rx="1.2" ry="1.1" fill="#9a60d8" fill-opacity="0.85"/>
<ellipse cx="355.4" cy="100.4" rx="1.0" ry="0.9" fill="#8048d0" fill-opacity="0.85"/>
<ellipse cx="359.9" cy="100.9" rx="1.3" ry="1.1" fill="#8048d0" fill-opacity="0.85"/>
<ellipse cx="366.1" cy="100.4" rx="1.1" ry="1.2" fill="#9058d4" fill-opacity="0.85"/>
<ellipse cx="369.8" cy="100.2" rx="1.2" ry="1.1" fill="#7840c8" fill-opacity="0.85"/>
<ellipse cx="371.2" cy="99.4" rx="1.5" ry="1.1" fill="#9058d4" fill-opacity="0.85"/>
<ellipse cx="375.4" cy="100.0" rx="1.4" ry="1.3" fill="#7840c8" fill-opacity="0.85"/>
<ellipse cx="379.0" cy="99.4" rx="1.6" ry="0.9" fill="#7444cc" fill-opacity="0.85"/>
<ellipse cx="386.7" cy="99.7" rx="1.0" ry="1.1" fill="#7444cc" fill-opacity="0.85"/>
<ellipse cx="326.1" cy="104.7" rx="1.5" ry="0.9" fill="#7444cc" fill-opacity="0.85"/>
<ellipse cx="330.6" cy="103.2" rx="1.4" ry="1.2" fill="#7840c8" fill-opacity="0.85"/>
<ellipse cx="334.5" cy="102.7" rx="1.4" ry="1.2" fill="#a46ad8" fill-opacity="0.85"/>
<ellipse cx="338.0" cy="104.5" rx="1.5" ry="1.4" fill="#9a60d8" fill-opacity="0.85"/>
<ellipse cx="340.6" cy="104.4" rx="1.3" ry="1.0" fill="#9058d4" fill-opacity="0.85"/>
<ellipse cx="344.3" cy="103.0" rx="1.3" ry="1.2" fill="#9a60d8" fill-opacity="0.85"/>
<ellipse cx="351.6" cy="104.4" rx="1.3" ry="1.4" fill="#9a60d8" fill-opacity="0.85"/>
<ellipse cx="353.6" cy="103.2" rx="1.6" ry="1.2" fill="#7444cc" fill-opacity="0.85"/>
<ellipse cx="359.3" cy="103.6" rx="1.4" ry="1.0" fill="#8048d0" fill-opacity="0.85"/>
<ellipse cx="360.6" cy="102.1" rx="1.4" ry="1.4" fill="#a46ad8" fill-opacity="0.85"/>
<ellipse cx="364.7" cy="102.4" rx="1.0" ry="1.3" fill="#9a60d8" fill-opacity="0.85"/>
<ellipse cx="369.7" cy="102.6" rx="1.2" ry="1.3" fill="#8048d0" fill-opacity="0.85"/>
<ellipse cx="371.5" cy="104.2" rx="1.4" ry="1.3" fill="#9058d4" fill-opacity="0.85"/>
<ellipse cx="377.2" cy="102.8" rx="1.4" ry="0.9" fill="#8048d0" fill-opacity="0.85"/>
<ellipse cx="379.9" cy="104.4" rx="1.2" ry="1.1" fill="#8048d0" fill-opacity="0.85"/>
<ellipse cx="384.3" cy="104.4" rx="1.0" ry="1.1" fill="#7444cc" fill-opacity="0.85"/>
<ellipse cx="386.3" cy="104.0" rx="1.6" ry="1.0" fill="#7840c8" fill-opacity="0.85"/>
<ellipse cx="331.3" cy="106.9" rx="1.6" ry="1.3" fill="#9a60d8" fill-opacity="0.85"/>
<ellipse cx="333.4" cy="105.8" rx="1.4" ry="1.3" fill="#a46ad8" fill-opacity="0.85"/>
<ellipse cx="337.8" cy="108.3" rx="1.4" ry="1.1" fill="#7840c8" fill-opacity="0.85"/>
<ellipse cx="342.1" cy="106.7" rx="1.2" ry="1.3" fill="#a46ad8" fill-opacity="0.85"/>
<ellipse cx="344.4" cy="107.5" rx="1.2" ry="1.1" fill="#9058d4" fill-opacity="0.85"/>
<ellipse cx="348.9" cy="108.1" rx="1.2" ry="1.0" fill="#8048d0" fill-opacity="0.85"/>
<ellipse cx="359.8" cy="107.8" rx="1.4" ry="1.4" fill="#7444cc" fill-opacity="0.85"/>
<ellipse cx="360.8" cy="107.2" rx="1.1" ry="1.3" fill="#9a60d8" fill-opacity="0.85"/>
<ellipse cx="369.3" cy="107.5" rx="1.4" ry="1.4" fill="#9a60d8" fill-opacity="0.85"/>
<ellipse cx="371.1" cy="106.7" rx="1.1" ry="1.3" fill="#7444cc" fill-opacity="0.85"/>
<ellipse cx="375.3" cy="107.2" rx="1.5" ry="1.2" fill="#9058d4" fill-opacity="0.85"/>
<ellipse cx="379.8" cy="106.1" rx="1.1" ry="1.3" fill="#7840c8" fill-opacity="0.85"/>
<ellipse cx="383.2" cy="106.6" rx="1.5" ry="1.0" fill="#7444cc" fill-opacity="0.85"/>
<ellipse cx="328.0" cy="110.1" rx="1.5" ry="1.0" fill="#9a60d8" fill-opacity="0.85"/>
<ellipse cx="330.1" cy="110.6" rx="1.1" ry="1.0" fill="#8048d0" fill-opacity="0.85"/>
<ellipse cx="334.2" cy="110.7" rx="1.2" ry="1.3" fill="#7840c8" fill-opacity="0.85"/>
<ellipse cx="338.8" cy="111.2" rx="1.6" ry="1.0" fill="#7444cc" fill-opacity="0.85"/>
<ellipse cx="340.2" cy="109.6" rx="1.0" ry="0.9" fill="#8048d0" fill-opacity="0.85"/>
<ellipse cx="345.1" cy="110.5" rx="1.5" ry="1.2" fill="#8048d0" fill-opacity="0.85"/>
<ellipse cx="350.4" cy="110.0" rx="1.4" ry="1.4" fill="#7840c8" fill-opacity="0.85"/>
<ellipse cx="354.7" cy="110.4" rx="1.2" ry="1.0" fill="#7840c8" fill-opacity="0.85"/>
<ellipse cx="357.6" cy="111.7" rx="1.0" ry="1.2" fill="#9058d4" fill-opacity="0.85"/>
<ellipse cx="363.2" cy="109.8" rx="1.4" ry="1.2" fill="#7444cc" fill-opacity="0.85"/>
<ellipse cx="368.0" cy="111.2" rx="1.4" ry="1.0" fill="#7840c8" fill-opacity="0.85"/>
<ellipse cx="373.2" cy="109.4" rx="1.2" ry="1.1" fill="#9058d4" fill-opacity="0.85"/>
<ellipse cx="375.7" cy="110.3" rx="1.5" ry="1.3" fill="#7840c8" fill-opacity="0.85"/>
<ellipse cx="380.7" cy="111.3" rx="1.6" ry="1.0" fill="#7840c8" fill-opacity="0.85"/>
<ellipse cx="387.6" cy="109.5" rx="1.6" ry="1.4" fill="#9a60d8" fill-opacity="0.85"/>
<circle cx="350.8" cy="53.3" r="0.5" fill="#f4e8f8"/>
<circle cx="385.5" cy="71.2" r="0.6" fill="#f4e8f8"/>
<circle cx="334.8" cy="73.8" r="0.6" fill="#f4e8f8"/>
<circle cx="371.5" cy="62.7" r="0.7" fill="#f4e8f8"/>
<circle cx="380.6" cy="78.1" r="0.6" fill="#f4e8f8"/>
<circle cx="352.7" cy="66.7" r="0.5" fill="#f4e8f8"/>
<circle cx="361.7" cy="69.6" r="0.8" fill="#f4e8f8"/>
<circle cx="343.4" cy="58.5" r="0.7" fill="#f4e8f8"/>
<circle cx="356.5" cy="61.1" r="0.7" fill="#f4e8f8"/>
<circle cx="365.3" cy="98.9" r="0.9" fill="#f4e8f8"/>
<circle cx="361.1" cy="101.7" r="0.5" fill="#f4e8f8"/>
<circle cx="372.6" cy="109.8" r="0.7" fill="#f4e8f8"/>
<circle cx="343.5" cy="66.2" r="0.6" fill="#f4e8f8"/>
<circle cx="351.1" cy="76.7" r="0.6" fill="#f4e8f8"/>
<circle cx="377.2" cy="110.2" r="0.6" fill="#f4e8f8"/>
<circle cx="365.8" cy="78.3" r="0.7" fill="#f4e8f8"/>
<circle cx="358.2" cy="78.4" r="0.8" fill="#f4e8f8"/>
<circle cx="383.8" cy="69.0" r="0.6" fill="#f4e8f8"/>
<path d="M353 94 q2 5 1 12" stroke="#e070c0" stroke-width="2" fill="none" stroke-opacity="0.7"/>
<rect x="368.8" y="108.4" width="14.2" height="1.5" fill="#111"/>
</g>
<clipPath id="c2"><rect x="391.2" y="52.9" width="57.4" height="58.7"/></clipPath><g clip-path="url(#c2)">
<rect x="391.2" y="52.9" width="57.4" height="58.7" fill="#c9c9c9"/>
<rect x="381.2" y="42.9" width="77.4" height="78.7" fill="#d49ad8"/>
<path d="M419.9 -86.1L421.1 -84.1M591.1 82.2L507.4 18.0M421.1 -84.1L497.8 8.2M507.4 18.0L497.8 8.2M419.9 -86.1L348.6 -6.8M248.9 82.2L327.0 15.5M348.6 -6.8L327.0 15.5M591.1 82.2L574.8 93.4M419.9 247.9L574.2 93.9M574.8 93.4L574.2 93.9M418.7 -36.9L411.8 19.4M421.1 -84.1L418.7 -36.9M348.6 -6.8L397.3 53.4M411.8 19.4L397.3 53.4M327.0 15.5L389.3 56.5M397.3 53.4L397.2 54.6M397.2 54.6L394.1 56.1M394.1 56.1L389.3 56.5M389.9 85.0L392.5 76.8M389.9 85.0L304.4 106.8M392.5 76.8L378.3 70.7M378.3 70.7L253.4 85.0M253.4 85.0L287.9 109.6M287.9 109.6L304.4 106.8M403.1 97.3L389.9 85.0M403.1 97.3L304.4 106.8M393.1 207.3L405.6 222.2M419.9 247.9L405.6 222.2M248.9 82.2L253.4 85.0M393.1 207.3L287.9 109.6M403.1 97.3L403.6 97.4M393.1 207.3L403.6 97.4M405.6 222.2L430.1 134.6M403.6 97.4L404.4 96.8M404.4 96.8L421.5 102.3M430.1 134.6L421.5 102.3M441.6 87.2L453.2 90.5M453.2 90.5L447.4 104.4M441.6 87.2L436.0 98.3M436.0 98.3L440.8 109.9M447.4 104.4L440.8 109.9M507.4 18.0L451.7 63.7M497.8 8.2L429.6 59.3M429.6 59.3L451.7 63.7M418.7 -36.9L429.2 59.5M429.6 59.3L429.2 59.5M413.4 54.8L401.2 56.8M413.4 54.8L414.3 55.9M414.3 55.9L407.6 75.3M401.2 56.8L402.8 73.2M402.8 73.2L407.6 75.3M411.8 19.4L413.4 54.8M397.2 54.6L401.2 56.8M428.4 60.4L429.2 59.5M428.4 60.4L414.3 55.9M404.4 96.8L404.4 96.8M399.4 73.1L392.5 76.8M399.4 73.1L402.8 73.2M408.2 76.1L407.6 75.3M408.2 76.1L404.4 96.8M408.2 76.1L413.5 76.1M428.4 60.4L428.6 67.2M413.5 76.1L428.6 67.2M383.5 67.2L396.9 70.3M383.5 67.2L387.0 63.8M387.0 63.8L394.8 67.0M396.9 70.3L394.8 67.0M399.4 73.1L396.9 70.3M378.3 70.7L383.5 67.2M389.3 56.5L387.0 63.8M394.1 56.1L394.8 67.0M574.2 93.9L481.7 106.7M453.2 90.5L453.9 90.4M574.8 93.4L467.3 88.6M481.7 106.7L447.4 104.4M467.3 88.6L453.9 90.4M433.0 129.3L439.9 115.5M433.0 129.3L476.0 108.2M476.0 108.2L439.9 115.5M436.0 98.3L427.2 97.1M430.1 134.6L433.0 129.3M440.8 109.9L439.9 115.5M421.5 102.3L425.9 98.1M427.2 97.1L425.9 98.1M481.7 106.7L476.0 108.2M426.8 85.1L420.8 83.0M426.8 85.1L425.9 89.7M425.9 89.7L418.0 91.4M420.8 83.0L416.7 91.2M416.7 91.2L418.0 91.4M430.1 69.0L433.0 81.7M433.0 81.7L426.8 85.1M413.5 76.1L420.8 83.0M428.6 67.2L430.1 69.0M427.2 97.1L425.9 89.7M441.6 87.2L440.7 85.6M440.7 85.6L433.0 81.7M425.9 98.1L418.0 91.4M404.4 96.8L416.7 91.2M451.0 64.7L441.7 70.1M451.0 64.7L450.2 74.8M441.7 70.1L443.4 80.1M443.4 80.1L449.2 75.7M450.2 74.8L449.2 75.7M451.7 63.7L451.0 64.7M430.1 69.0L441.7 70.1M467.3 88.6L450.2 74.8M440.7 85.6L443.4 80.1M453.9 90.4L449.2 75.7" stroke="#c060c4" stroke-width="0.8" fill="none"/>
<polygon points="415.2,91.0 415.5,90.9 415.7,90.8 415.9,90.6 416.1,90.4 416.3,90.2 416.4,90.0 416.6,89.8 419.0,85.0 419.1,84.8 419.2,84.5 419.2,84.3 419.3,84.0 419.3,83.7 419.3,83.4 419.2,83.2 419.1,82.9 419.0,82.6 418.9,82.4 418.8,82.1 418.6,81.9 418.4,81.7 414.0,77.6 413.8,77.4 413.5,77.3 413.3,77.1 413.0,77.0 412.7,76.9 412.4,76.9 412.1,76.9 411.2,76.9 410.9,76.9 410.6,76.9 410.4,77.0 410.1,77.1 409.8,77.2 409.6,77.3 409.4,77.5 409.2,77.7 409.0,77.9 408.8,78.1 408.7,78.4 408.5,78.6 408.5,78.9 408.4,79.2 406.4,90.2 406.3,90.5 406.3,90.8 406.3,91.1 406.4,91.3 406.5,91.6 406.6,91.9 406.7,92.1 406.8,92.3 407.0,92.6 407.2,92.8 407.4,92.9 407.6,93.1 407.9,93.2 408.1,93.4 408.4,93.4 408.7,93.5 408.9,93.5 409.2,93.5 409.5,93.5 409.8,93.5 410.0,93.4 410.3,93.3" fill="#cdcdcd"/>
<polygon points="457.2,81.4 457.0,81.3 456.7,81.1 456.5,81.0 456.2,80.9 456.0,80.8 455.7,80.8 455.4,80.8 455.1,80.8 454.9,80.9 454.6,80.9 454.3,81.0 454.1,81.1 453.9,81.3 453.6,81.4 453.4,81.6 453.3,81.8 453.1,82.1 453.0,82.3 452.8,82.5 452.7,82.8 452.7,83.1 452.6,83.3 452.6,83.6 452.7,83.9 452.7,84.2 452.8,84.4 453.7,87.4 453.8,87.6 453.9,87.9 454.1,88.1 454.2,88.3 454.4,88.5 454.6,88.7 454.9,88.9 455.1,89.0 455.4,89.1 455.6,89.2 455.9,89.3 456.2,89.3 456.5,89.3 456.7,89.3 459.0,89.0 459.3,88.9 459.6,88.8 459.8,88.7 460.1,88.6 460.3,88.5 460.5,88.3 460.7,88.1 460.9,87.9 461.0,87.7 461.2,87.5 461.3,87.2 461.4,87.0 461.4,86.7 461.4,86.4 461.5,86.1 461.4,85.9 461.4,85.6 461.3,85.3 461.2,85.1 461.1,84.8 461.0,84.6 460.8,84.4 460.6,84.2 460.4,84.0" fill="#cdcdcd"/>
<polygon points="419.1,88.0 419.1,88.2 419.0,88.3 419.0,88.4 419.0,88.6 419.0,88.7 419.0,88.8 419.0,89.0 419.1,89.1 419.1,89.2 419.2,89.3 419.2,89.5 419.3,89.6 419.4,89.7 419.5,89.8 419.6,89.8 419.7,89.9 419.9,90.0 420.0,90.0 420.1,90.0 420.3,90.1 420.4,90.1 420.5,90.1 420.7,90.0 424.3,89.3 424.4,89.2 424.6,89.2 424.7,89.1 424.8,89.1 424.9,89.0 425.0,88.9 425.1,88.8 425.2,88.7 425.3,88.6 425.3,88.4 425.4,88.3 425.4,88.2 425.7,86.8 425.7,86.7 425.7,86.5 425.7,86.4 425.7,86.2 425.6,86.1 425.6,86.0 425.5,85.8 425.4,85.7 425.3,85.6 425.2,85.5 425.1,85.4 425.0,85.3 424.9,85.3 424.8,85.2 422.4,84.4 422.2,84.3 422.1,84.3 422.0,84.3 421.8,84.3 421.7,84.3 421.6,84.3 421.4,84.3 421.3,84.4 421.2,84.5 421.1,84.5 421.0,84.6 420.9,84.7 420.8,84.8 420.7,84.9 420.7,85.0" fill="#cdcdcd"/>
<polygon points="399.9,93.3 400.1,93.5 400.3,93.6 400.6,93.7 400.8,93.8 401.1,93.9 401.4,94.0 401.6,94.0 401.9,94.0 402.2,94.0 402.4,94.0 402.7,93.9 403.0,93.8 403.2,93.7 403.4,93.5 403.6,93.4 403.8,93.2 404.0,93.0 404.2,92.7 404.3,92.5 404.4,92.3 404.5,92.0 404.6,91.7 407.0,78.2 407.1,78.0 407.1,77.7 407.1,77.4 407.0,77.1 406.9,76.8 406.8,76.6 406.7,76.3 406.5,76.1 406.4,75.9 406.2,75.7 405.9,75.5 405.7,75.3 405.4,75.2 403.2,74.2 402.9,74.1 402.6,74.0 402.4,73.9 402.1,73.9 400.3,73.9 400.0,73.9 399.8,73.9 399.5,74.0 399.2,74.1 399.0,74.2 394.1,76.8 393.9,76.9 393.7,77.1 393.5,77.3 393.3,77.5 393.2,77.7 393.0,77.9 392.9,78.1 392.8,78.4 391.3,83.1 391.2,83.4 391.2,83.6 391.2,83.9 391.2,84.2 391.3,84.5 391.3,84.8 391.4,85.0 391.6,85.3 391.7,85.5 391.9,85.8 392.1,86.0" fill="#cdcdcd"/>
<polygon points="428.5,125.7 428.6,126.0 428.7,126.3 428.8,126.5 429.0,126.7 429.2,126.9 429.4,127.1 429.6,127.3 429.8,127.4 430.0,127.6 430.3,127.7 430.5,127.7 430.8,127.8 431.1,127.8 431.3,127.8 431.6,127.8 431.9,127.7 432.1,127.7 432.4,127.6 432.6,127.4 432.9,127.3 433.1,127.1 433.3,126.9 433.4,126.7 433.6,126.5 433.7,126.3 439.0,115.6 439.1,115.4 439.2,115.1 439.2,114.9 439.9,110.8 440.0,110.5 440.0,110.3 440.0,110.0 439.9,109.8 439.9,109.5 439.8,109.3 436.1,100.5 436.0,100.2 435.9,100.0 435.7,99.8 435.6,99.6 435.4,99.4 435.1,99.2 434.9,99.1 434.7,99.0 434.4,98.9 434.2,98.8 433.9,98.7 428.5,98.0 428.3,98.0 428.0,98.0 427.7,98.0 427.5,98.1 427.2,98.2 427.0,98.3 426.8,98.4 426.5,98.5 426.5,98.5 426.4,98.7 426.2,98.8 423.5,101.4 423.3,101.6 423.2,101.8 423.0,102.1 422.9,102.3 422.8,102.6 422.7,102.8 422.7,103.1 422.7,103.3 422.7,103.6 422.7,103.9 422.8,104.1" fill="#cdcdcd"/>
<polygon points="394.3,67.6 394.3,67.6 394.3,67.6 394.2,67.6 394.2,67.6 394.2,67.6 394.2,67.6 387.3,64.7 387.2,64.7 387.2,64.7 387.2,64.7 387.2,64.7 387.2,64.7 387.1,64.7 387.1,64.7 387.1,64.7 387.1,64.7 387.1,64.7 387.1,64.7 387.0,64.8 385.3,66.5 385.3,66.5 385.2,66.5 385.2,66.5 385.2,66.6 385.2,66.6 385.2,66.6 385.2,66.6 385.2,66.6 385.2,66.7 385.2,66.7 385.2,66.7 385.2,66.7 385.2,66.7 385.2,66.7 385.3,66.8 385.3,66.8 385.3,66.8 385.3,66.8 385.3,66.8 385.3,66.8 385.3,66.8 385.4,66.8 394.8,69.0 394.8,69.0 394.8,69.0 394.8,69.0 394.9,69.0 394.9,69.0 394.9,69.0 394.9,69.0 394.9,69.0 395.0,69.0 395.0,69.0 395.0,69.0 395.0,69.0 395.0,68.9 395.0,68.9 395.0,68.9 395.0,68.9 395.0,68.9 395.0,68.9 395.0,68.8 395.0,68.8 395.0,68.8 395.0,68.8 395.0,68.8 395.0,68.7" fill="#cdcdcd"/>
<polygon points="304.6,107.5 304.4,107.6 295.1,109.2 294.9,109.2 294.6,109.3 294.4,109.4 294.1,109.5 293.9,109.7 293.7,109.9 293.5,110.1 293.3,110.3 293.2,110.5 293.1,110.7 293.0,111.0 292.9,111.3 292.8,111.5 292.8,111.8 292.8,112.1 292.8,112.3 292.9,112.6 293.0,112.9 293.1,113.1 293.2,113.3 293.3,113.6 293.5,113.8 293.7,114.0 388.3,201.9 388.5,202.0 388.8,202.2 389.0,202.3 389.2,202.4 389.5,202.5 389.8,202.6 390.0,202.6 390.3,202.6 390.6,202.6 390.8,202.6 391.1,202.5 391.4,202.4 391.6,202.3 391.8,202.1 392.0,202.0 392.2,201.8 392.4,201.6 392.6,201.3 392.7,201.1 392.8,200.9 392.9,200.6 393.0,200.4 393.0,200.1 402.4,101.5 402.4,101.2 402.4,100.9 402.4,100.7 402.3,100.4 402.2,100.1 402.1,99.9 402.0,99.7 401.8,99.4 401.6,99.2 401.4,99.0 401.2,98.9 401.0,98.7 400.7,98.6 400.5,98.5 400.2,98.5 399.9,98.4 399.6,98.4 399.4,98.4" fill="#cdcdcd"/>
<polygon points="429.3,53.3 429.3,53.6 429.4,53.9 429.5,54.1 429.6,54.4 429.8,54.6 430.0,54.8 430.2,55.1 430.4,55.2 430.6,55.4 430.8,55.5 431.1,55.6 431.4,55.7 431.6,55.8 431.9,55.8 432.2,55.8 432.5,55.8 432.8,55.7 433.0,55.7 433.3,55.6 433.5,55.4 433.8,55.3 494.4,9.9 494.6,9.7 494.7,9.5 494.9,9.3 495.1,9.1 495.2,8.8 495.3,8.6 495.4,8.3 495.4,8.1 495.5,7.8 495.5,7.5 495.5,7.3 495.4,7.0 495.3,6.8 495.2,6.5 495.1,6.3 495.0,6.0 494.8,5.8 426.4,-76.6 426.2,-76.8 426.0,-77.0 425.7,-77.1 425.5,-77.3 425.2,-77.4 425.0,-77.5 424.7,-77.6 424.4,-77.6 424.1,-77.6 423.9,-77.6 423.6,-77.5 423.3,-77.5 423.1,-77.4 422.8,-77.2 422.6,-77.1 422.4,-76.9 422.2,-76.7 422.0,-76.5 421.8,-76.3 421.7,-76.0 421.6,-75.8 421.5,-75.5 421.4,-75.2 421.4,-74.9 419.5,-37.2 419.5,-36.9 419.5,-36.7" fill="#cdcdcd"/>
<polygon points="441.8,115.9 441.5,116.0 441.2,116.1 441.0,116.2 440.7,116.3 440.5,116.5 440.3,116.7 440.1,116.9 439.9,117.2 439.8,117.4 438.4,120.3 438.3,120.5 438.2,120.8 438.1,121.1 438.1,121.4 438.1,121.6 438.1,121.9 438.2,122.2 438.2,122.4 438.3,122.7 438.5,123.0 438.6,123.2 438.8,123.4 439.0,123.6 439.2,123.8 439.4,123.9 439.7,124.1 439.9,124.2 440.2,124.2 440.5,124.3 440.8,124.3 441.0,124.3 441.3,124.3 441.6,124.2 441.9,124.1 442.1,124.0 451.1,119.6 451.3,119.5 451.5,119.3 451.8,119.2 452.0,119.0 452.1,118.7 452.3,118.5 452.4,118.3 452.5,118.0 452.6,117.7 452.6,117.5 452.6,117.2 452.6,116.9 452.6,116.6 452.5,116.4 452.4,116.1 452.3,115.8 452.2,115.6 452.0,115.4 451.8,115.2 451.6,115.0 451.4,114.8 451.2,114.7 450.9,114.5 450.7,114.4 450.4,114.4 450.1,114.3 449.8,114.3 449.6,114.3 449.3,114.4" fill="#cdcdcd"/>
<polygon points="426.7,89.2 426.7,89.5 426.7,89.7 426.7,90.0 426.7,90.2 427.5,94.4 427.6,94.7 427.7,95.0 427.8,95.2 427.9,95.4 428.1,95.7 428.2,95.9 428.4,96.0 428.6,96.2 428.9,96.4 429.1,96.5 429.4,96.6 429.6,96.6 429.9,96.7 433.6,97.2 433.9,97.2 434.2,97.2 434.4,97.2 434.7,97.1 435.0,97.1 435.2,97.0 435.4,96.8 435.7,96.7 435.9,96.5 436.1,96.3 436.2,96.1 436.4,95.9 436.5,95.7 439.8,89.1 439.9,88.9 440.0,88.6 440.1,88.3 440.1,88.1 440.1,87.8 440.1,87.5 440.1,87.3 440.0,87.0 439.9,86.7 439.8,86.5 439.6,86.3 439.4,86.0 439.3,85.8 439.1,85.7 438.8,85.5 438.6,85.4 434.4,83.2 434.1,83.1 433.9,83.0 433.6,82.9 433.3,82.9 433.0,82.9 432.8,82.9 432.5,83.0 432.2,83.0 432.0,83.1 431.7,83.2 428.6,85.0 428.3,85.1 428.1,85.3 427.9,85.5 427.7,85.7 427.6,85.9 427.4,86.1 427.3,86.4 427.2,86.6 427.2,86.9" fill="#cdcdcd"/>
<polygon points="394.2,48.4 394.4,48.6 394.6,48.7 394.8,48.9 395.0,49.1 395.3,49.2 395.5,49.3 395.8,49.3 396.1,49.4 396.3,49.4 396.6,49.4 396.9,49.3 397.2,49.3 397.4,49.2 397.7,49.1 397.9,48.9 398.1,48.8 398.3,48.6 398.5,48.4 398.7,48.2 398.8,47.9 398.9,47.7 410.9,19.6 411.0,19.4 411.1,19.1 411.1,18.9 418.0,-36.9 418.0,-37.1 420.0,-77.7 420.0,-78.0 420.0,-78.2 420.0,-78.5 419.9,-78.8 419.8,-79.0 419.6,-79.3 419.5,-79.5 419.3,-79.7 419.1,-79.9 418.9,-80.1 418.7,-80.2 418.4,-80.4 418.2,-80.5 417.9,-80.5 417.7,-80.6 417.4,-80.6 417.1,-80.6 416.8,-80.6 416.6,-80.5 416.3,-80.5 416.0,-80.4 415.8,-80.2 415.6,-80.1 415.4,-79.9 415.2,-79.7 351.2,-8.5 351.0,-8.3 350.8,-8.1 350.7,-7.8 350.6,-7.6 350.5,-7.3 350.5,-7.0 350.5,-6.7 350.5,-6.5 350.5,-6.2 350.6,-5.9 350.7,-5.6 350.8,-5.4 350.9,-5.1 351.1,-4.9" fill="#cdcdcd"/>
<polygon points="414.1,53.1 414.1,53.4 414.2,53.7 414.3,54.0 414.4,54.2 414.5,54.5 414.7,54.7 414.9,54.9 415.1,55.1 415.3,55.3 415.5,55.4 415.8,55.6 416.0,55.7 424.4,58.3 424.6,58.4 424.9,58.4 425.2,58.5 425.5,58.4 425.8,58.4 426.0,58.3 426.3,58.2 426.5,58.1 426.8,58.0 427.0,57.8 427.2,57.6 427.4,57.4 427.6,57.2 427.7,57.0 427.8,56.7 427.9,56.5 428.0,56.2 428.0,55.9 428.0,55.6 428.0,55.4 421.3,-6.3 421.3,-6.6 421.2,-6.8 421.1,-7.1 421.0,-7.3 420.8,-7.6 420.7,-7.8 420.5,-8.0 420.3,-8.2 420.1,-8.3 419.8,-8.5 419.6,-8.6 419.3,-8.7 419.1,-8.7 418.8,-8.8 418.5,-8.8 418.3,-8.8 418.0,-8.8 417.7,-8.7 417.5,-8.6 417.2,-8.5 417.0,-8.4 416.8,-8.2 416.6,-8.0 416.4,-7.8 416.2,-7.6 416.1,-7.4 415.9,-7.1 415.8,-6.9 415.8,-6.6 415.7,-6.3 412.6,19.2 412.6,19.5 412.6,19.7" fill="#cdcdcd"/>
<polygon points="395.5,66.4 395.5,66.5 395.5,66.7 395.6,66.8 395.6,66.9 395.7,67.0 397.5,69.8 397.5,69.9 397.6,69.9 399.4,71.9 399.5,72.0 399.6,72.1 399.7,72.2 399.8,72.2 399.9,72.3 400.1,72.3 400.2,72.4 400.4,72.4 400.4,72.4 400.5,72.4 400.7,72.4 400.8,72.3 401.0,72.3 401.1,72.2 401.2,72.1 401.3,72.1 401.4,72.0 401.5,71.9 401.6,71.8 401.7,71.6 401.7,71.5 401.8,71.4 401.8,71.3 401.8,71.1 401.8,71.0 401.8,70.8 400.5,58.0 400.5,57.8 400.5,57.7 400.4,57.6 400.4,57.5 400.3,57.3 400.2,57.2 400.2,57.1 400.1,57.0 400.0,57.0 399.8,56.9 397.9,55.8 397.7,55.7 397.6,55.7 397.5,55.6 397.3,55.6 397.2,55.6 397.1,55.6 396.9,55.6 396.8,55.6 396.7,55.7 396.6,55.7 395.7,56.1 395.6,56.2 395.5,56.3 395.4,56.4 395.3,56.5 395.2,56.6 395.1,56.7 395.0,56.8 395.0,56.9 394.9,57.1 394.9,57.2 394.9,57.3 394.9,57.5" fill="#cdcdcd"/>
<polygon points="304.1,106.1 304.3,106.0 387.8,84.7 388.1,84.7 388.4,84.6 388.6,84.4 388.8,84.3 389.1,84.1 389.3,83.9 389.4,83.6 389.6,83.4 389.7,83.1 389.8,82.9 390.8,79.6 390.9,79.4 390.9,79.1 391.0,78.8 391.0,78.5 390.9,78.3 390.9,78.0 390.8,77.8 390.6,77.5 390.5,77.3 390.3,77.0 390.2,76.8 390.0,76.6 389.7,76.5 389.5,76.3 389.3,76.2 378.9,71.8 378.6,71.7 378.4,71.6 378.1,71.6 377.8,71.6 377.5,71.6 262.7,84.7 262.4,84.7 262.1,84.8 261.9,84.9 261.7,85.0 261.4,85.2 261.2,85.3 261.0,85.5 260.8,85.7 260.7,85.9 260.5,86.2 260.4,86.4 260.3,86.7 260.3,86.9 260.2,87.2 260.2,87.5 260.2,87.7 260.2,88.0 260.3,88.3 260.4,88.5 260.5,88.8 260.6,89.0 260.8,89.2 261.0,89.4 261.2,89.6 261.4,89.8 287.2,108.2 287.4,108.3 287.6,108.4 287.9,108.5 288.2,108.6 288.4,108.7 288.7,108.7 289.0,108.7 289.3,108.6" fill="#cdcdcd"/>
<polygon points="407.6,98.6 407.4,98.6 407.1,98.5 406.8,98.5 406.5,98.5 406.3,98.5 406.0,98.6 405.7,98.7 405.5,98.8 405.2,99.0 405.0,99.1 404.8,99.3 404.6,99.5 404.4,99.7 404.3,100.0 404.2,100.2 404.1,100.5 404.0,100.8 404.0,101.0 394.0,205.9 394.0,206.2 394.0,206.5 394.0,206.7 394.1,207.0 394.2,207.3 394.3,207.5 394.5,207.7 394.6,208.0 401.8,216.6 402.0,216.8 402.2,217.0 402.4,217.1 402.7,217.3 402.9,217.4 403.2,217.5 403.4,217.5 403.7,217.6 404.0,217.6 404.3,217.6 404.5,217.5 404.8,217.5 405.1,217.4 405.3,217.2 405.5,217.1 405.8,216.9 406.0,216.7 406.2,216.5 406.3,216.3 406.4,216.1 406.6,215.8 406.6,215.5 429.1,135.3 429.2,135.0 429.2,134.7 429.2,134.4 429.2,134.1 429.1,133.9 421.3,104.4 421.2,104.1 421.1,103.9 421.0,103.6 420.8,103.4 420.6,103.2 420.4,103.0 420.2,102.8 420.0,102.7 419.7,102.6 419.4,102.5" fill="#cdcdcd"/>
<polygon points="420.1,91.7 420.0,91.7 420.0,91.7 420.0,91.7 420.0,91.7 420.0,91.7 420.0,91.7 420.0,91.8 419.9,91.8 419.9,91.8 419.9,91.8 419.9,91.8 419.9,91.8 419.9,91.9 419.9,91.9 419.9,91.9 419.9,91.9 419.9,91.9 419.9,92.0 419.9,92.0 419.9,92.0 420.0,92.0 420.0,92.0 420.0,92.0 425.8,97.0 425.8,97.0 425.8,97.0 425.8,97.1 425.9,97.1 425.9,97.1 425.9,97.1 425.9,97.1 425.9,97.1 425.9,97.1 426.0,97.1 426.0,97.1 426.0,97.1 426.0,97.0 426.0,97.0 426.3,96.8 426.3,96.8 426.3,96.8 426.4,96.8 426.4,96.8 426.4,96.8 426.4,96.8 426.4,96.7 426.4,96.7 426.4,96.7 426.4,96.7 426.4,96.7 426.4,96.6 425.3,90.8 425.3,90.8 425.3,90.8 425.3,90.7 425.3,90.7 425.3,90.7 425.2,90.7 425.2,90.7 425.2,90.7 425.2,90.7 425.2,90.7 425.2,90.6 425.1,90.6 425.1,90.6 425.1,90.6 425.1,90.6 425.1,90.6" fill="#cdcdcd"/>
<polygon points="413.0,93.7 412.8,93.8 412.6,94.0 412.3,94.1 412.1,94.3 412.0,94.6 411.8,94.8 411.7,95.0 411.6,95.3 411.5,95.6 411.4,95.8 411.4,96.1 411.4,96.4 411.4,96.7 411.5,97.0 411.6,97.2 411.7,97.5 411.8,97.7 412.0,97.9 412.2,98.2 412.4,98.4 412.6,98.5 412.8,98.7 413.1,98.8 413.3,98.9 419.7,101.0 420.0,101.0 420.2,101.1 420.5,101.1 420.8,101.1 421.1,101.1 421.3,101.0 421.6,100.9 421.9,100.8 422.1,100.6 422.3,100.5 422.5,100.3 422.6,100.3 422.8,100.1 422.9,99.8 423.1,99.6 423.2,99.4 423.3,99.1 423.4,98.8 423.4,98.6 423.4,98.3 423.4,98.0 423.4,97.8 423.3,97.5 423.2,97.2 423.1,97.0 423.0,96.7 422.8,96.5 422.6,96.3 422.4,96.1 418.7,92.9 418.5,92.7 418.3,92.6 418.0,92.5 417.8,92.4 417.5,92.3 417.3,92.3 417.0,92.2 416.7,92.2 416.5,92.3 416.2,92.3 415.9,92.4 415.7,92.5" fill="#cdcdcd"/>
<polygon points="409.6,71.7 409.6,71.9 409.5,72.2 409.5,72.5 409.5,72.7 409.5,73.0 409.6,73.3 409.7,73.6 409.8,73.8 409.9,74.1 410.1,74.3 410.3,74.5 410.5,74.7 410.7,74.9 410.9,75.0 411.2,75.1 411.4,75.2 411.7,75.3 412.0,75.4 412.2,75.4 412.5,75.4 412.8,75.4 413.0,75.3 413.3,75.3 413.5,75.2 413.8,75.1 414.0,75.0 426.4,67.6 426.7,67.5 426.9,67.3 427.1,67.1 427.2,66.9 427.4,66.7 427.5,66.5 427.6,66.2 427.7,65.9 427.8,65.7 427.8,65.4 427.8,65.1 427.7,62.9 427.7,62.7 427.7,62.4 427.6,62.2 427.5,61.9 427.4,61.7 427.3,61.4 427.1,61.2 426.9,61.0 426.7,60.9 426.5,60.7 426.3,60.6 426.0,60.4 425.8,60.4 417.4,57.7 417.1,57.6 416.9,57.6 416.6,57.5 416.3,57.5 416.1,57.6 415.8,57.6 415.5,57.7 415.3,57.8 415.1,58.0 414.8,58.1 414.6,58.3 414.4,58.5 414.3,58.7 414.1,58.9 414.0,59.2 413.9,59.4" fill="#cdcdcd"/>
<polygon points="476.6,108.8 476.3,108.9 476.1,109.0 434.4,129.5 434.1,129.7 433.9,129.8 433.7,130.0 433.5,130.2 433.3,130.4 433.2,130.7 431.0,134.6 430.8,134.9 430.7,135.2 406.7,221.0 406.6,221.3 406.6,221.6 406.6,221.8 406.6,222.1 406.6,222.4 406.7,222.7 406.8,222.9 406.9,223.2 418.3,243.5 418.4,243.7 418.6,243.9 418.8,244.1 419.0,244.3 419.2,244.4 419.4,244.6 419.7,244.7 419.9,244.8 420.2,244.8 420.5,244.9 420.7,244.9 421.0,244.9 421.3,244.8 421.5,244.8 421.8,244.7 422.0,244.6 422.3,244.4 422.5,244.3 422.7,244.1 566.2,100.8 566.3,100.6 566.5,100.4 566.7,100.2 566.8,99.9 566.9,99.6 566.9,99.4 567.0,99.1 567.0,98.8 567.0,98.5 566.9,98.3 566.8,98.0 566.7,97.7 566.6,97.5 566.5,97.2 566.3,97.0 566.1,96.8 565.9,96.6 565.7,96.5 565.4,96.3 565.2,96.2 564.9,96.1 564.6,96.1 564.4,96.1 564.1,96.1 563.8,96.1 482.0,107.4 481.7,107.5" fill="#cdcdcd"/>
<polygon points="439.7,105.2 439.8,105.4 440.0,105.7 440.1,105.9 440.3,106.1 440.5,106.3 440.7,106.4 441.0,106.6 441.2,106.7 441.5,106.8 441.7,106.8 442.0,106.9 442.3,106.9 442.6,106.9 442.8,106.8 443.1,106.8 443.4,106.7 443.6,106.6 443.9,106.4 444.1,106.3 446.3,104.4 446.5,104.2 446.7,104.0 446.8,103.8 447.0,103.6 447.1,103.3 451.0,93.9 451.1,93.7 451.1,93.4 451.2,93.1 451.2,92.8 451.2,92.6 451.1,92.3 451.1,92.0 451.0,91.8 450.8,91.5 450.7,91.3 450.5,91.1 450.3,90.9 450.1,90.7 449.9,90.5 449.7,90.4 449.4,90.3 449.2,90.2 444.2,88.7 444.0,88.7 443.7,88.6 443.4,88.6 443.1,88.7 442.9,88.7 442.6,88.8 442.3,88.9 442.1,89.0 441.9,89.1 441.6,89.3 441.4,89.5 441.3,89.7 441.1,89.9 441.0,90.2 437.4,97.2 437.3,97.4 437.3,97.7 437.2,97.9 437.2,98.2 437.1,98.4 437.2,98.7 437.2,99.0 437.3,99.2 437.4,99.5" fill="#cdcdcd"/>
<polygon points="403.2,69.4 403.2,69.6 403.3,69.9 403.4,70.2 403.5,70.4 403.6,70.6 403.8,70.9 404.0,71.1 404.2,71.2 404.4,71.4 404.6,71.6 404.9,71.7 405.1,71.8 405.4,71.8 405.6,71.9 405.9,71.9 406.2,71.9 406.5,71.9 406.7,71.8 407.0,71.7 407.2,71.6 407.5,71.5 407.7,71.3 407.9,71.1 408.1,71.0 408.2,70.7 408.4,70.5 408.5,70.3 408.6,70.0 412.1,60.0 412.2,59.7 412.2,59.4 412.3,59.1 412.3,58.9 412.2,58.6 412.2,58.3 412.1,58.1 412.0,57.8 411.9,57.6 411.7,57.3 411.5,57.1 411.3,56.9 411.1,56.8 410.9,56.6 410.6,56.5 410.4,56.4 410.1,56.3 409.9,56.3 409.6,56.2 409.3,56.2 409.0,56.3 404.6,57.0 404.3,57.0 404.1,57.1 403.8,57.2 403.5,57.4 403.3,57.5 403.1,57.7 402.9,57.9 402.7,58.2 402.6,58.4 402.5,58.7 402.4,58.9 402.3,59.2 402.3,59.5 402.2,59.7 402.3,60.0" fill="#cdcdcd"/>
<polygon points="398.8,51.7 398.7,52.0 398.7,52.3 398.6,52.5 398.6,52.8 398.6,53.1 398.7,53.3 398.7,53.6 398.8,53.9 398.9,54.1 399.1,54.3 399.2,54.6 399.4,54.8 399.6,55.0 399.8,55.1 400.0,55.3 400.5,55.5 400.7,55.6 401.0,55.7 401.2,55.8 401.5,55.9 401.8,55.9 402.0,55.9 402.3,55.8 410.2,54.6 410.5,54.5 410.7,54.4 411.0,54.3 411.2,54.2 411.4,54.0 411.6,53.9 411.8,53.7 412.0,53.5 412.1,53.2 412.3,53.0 412.4,52.7 412.5,52.5 412.5,52.2 412.5,51.9 412.5,51.7 411.8,35.0 411.8,34.7 411.7,34.5 411.6,34.2 411.5,33.9 411.4,33.7 411.2,33.4 411.0,33.2 410.8,33.0 410.6,32.9 410.4,32.7 410.1,32.6 409.9,32.5 409.6,32.4 409.3,32.4 409.1,32.3 408.8,32.3 408.5,32.4 408.2,32.4 408.0,32.5 407.7,32.6 407.5,32.8 407.2,32.9 407.0,33.1 406.8,33.3 406.7,33.5 406.5,33.8 406.4,34.0" fill="#cdcdcd"/>
<polygon points="442.2,80.8 442.3,80.5 442.4,80.2 442.5,80.0 442.5,79.7 442.5,79.4 442.5,79.1 441.4,72.9 441.3,72.6 441.2,72.4 441.1,72.1 441.0,71.9 440.8,71.6 440.6,71.4 440.4,71.2 440.2,71.1 440.0,70.9 439.7,70.8 439.4,70.7 439.2,70.6 438.9,70.6 434.9,70.2 434.6,70.2 434.4,70.2 434.1,70.3 433.8,70.3 433.6,70.4 433.3,70.6 433.1,70.7 432.9,70.9 432.7,71.1 432.5,71.3 432.3,71.5 432.2,71.8 432.1,72.0 432.0,72.3 431.9,72.5 431.9,72.8 431.9,73.1 431.9,73.4 431.9,73.6 433.4,79.9 433.5,80.2 433.6,80.4 433.7,80.6 433.8,80.9 434.0,81.1 434.2,81.3 434.4,81.5 434.6,81.6 434.8,81.8 437.8,83.3 438.1,83.4 438.3,83.5 438.6,83.6 438.9,83.6 439.2,83.6 439.4,83.6 439.7,83.5 440.0,83.5 440.2,83.4 440.5,83.2 440.7,83.1 440.9,82.9 441.1,82.7 441.3,82.5 441.5,82.3 441.6,82.0" fill="#cdcdcd"/>
<polygon points="448.5,75.4 448.7,75.2 448.8,75.0 449.0,74.8 449.2,74.6 449.3,74.4 449.4,74.1 449.5,73.9 449.5,73.6 449.6,73.4 449.7,71.4 449.7,71.1 449.7,70.8 449.7,70.6 449.6,70.3 449.5,70.0 449.4,69.8 449.2,69.6 449.1,69.3 448.9,69.1 448.7,69.0 448.4,68.8 448.2,68.7 447.9,68.5 447.7,68.5 447.4,68.4 447.1,68.4 446.9,68.4 446.6,68.4 446.3,68.4 446.0,68.5 445.8,68.6 445.5,68.7 444.2,69.5 443.9,69.7 443.7,69.8 443.5,70.0 443.3,70.3 443.2,70.5 443.0,70.7 442.9,71.0 442.9,71.3 442.8,71.6 442.8,71.8 442.8,72.1 442.8,72.4 443.1,74.3 443.2,74.5 443.3,74.8 443.4,75.0 443.5,75.3 443.7,75.5 443.9,75.7 444.1,75.9 444.3,76.1 444.5,76.2 444.8,76.3 445.0,76.4 445.3,76.5 445.5,76.6 445.8,76.6 446.1,76.6 446.3,76.5 446.6,76.5 446.9,76.4 447.1,76.3 447.4,76.2 447.6,76.0" fill="#cdcdcd"/>
<polygon points="443.6,108.6 443.4,108.8 443.2,109.0 443.0,109.2 442.9,109.5 442.8,109.7 442.7,110.0 442.6,110.3 442.6,110.5 442.6,110.8 442.6,111.1 442.6,111.3 442.7,111.6 442.8,111.9 442.9,112.1 443.0,112.4 443.2,112.6 443.4,112.8 443.6,113.0 443.8,113.1 444.0,113.3 444.3,113.4 444.5,113.5 444.8,113.5 445.1,113.6 445.4,113.6 445.6,113.6 445.9,113.5 456.8,111.3 457.1,111.3 457.3,111.2 457.6,111.0 457.8,110.9 458.1,110.7 458.3,110.5 458.4,110.3 458.6,110.1 458.7,109.9 458.9,109.6 458.9,109.4 459.0,109.1 459.0,108.8 459.1,108.5 459.0,108.3 459.0,108.0 458.9,107.7 458.8,107.5 458.7,107.2 458.6,107.0 458.4,106.8 458.2,106.6 458.0,106.4 457.8,106.2 457.5,106.1 457.3,106.0 457.0,105.9 456.7,105.8 456.4,105.8 448.8,105.3 448.5,105.3 448.3,105.3 448.0,105.3 447.8,105.4 447.5,105.5 447.3,105.6 447.0,105.8 446.8,105.9" fill="#cdcdcd"/>
<polygon points="253.8,79.1 253.6,79.2 253.4,79.5 253.2,79.7 253.1,79.9 253.0,80.2 252.9,80.4 252.8,80.7 252.8,81.0 252.8,81.2 252.8,81.5 252.9,81.8 252.9,82.0 253.0,82.3 253.1,82.5 253.3,82.8 253.5,83.0 253.6,83.2 253.9,83.4 254.1,83.5 254.3,83.7 254.6,83.8 254.8,83.9 255.1,83.9 255.4,84.0 255.6,84.0 255.9,84.0 377.4,70.1 377.7,70.1 377.9,70.0 378.2,69.9 378.4,69.8 378.7,69.6 382.8,66.7 383.0,66.6 383.2,66.4 385.8,63.9 386.0,63.7 386.2,63.4 386.3,63.2 386.4,63.0 386.5,62.7 387.7,58.8 387.8,58.6 387.9,58.3 387.9,58.0 387.9,57.7 387.8,57.5 387.8,57.2 387.7,56.9 387.5,56.7 387.4,56.4 387.2,56.2 387.0,56.0 386.8,55.8 386.6,55.7 328.8,17.6 328.6,17.4 328.3,17.3 328.1,17.2 327.8,17.2 327.5,17.1 327.2,17.1 327.0,17.1 326.7,17.2 326.4,17.2 326.2,17.3 325.9,17.5 325.7,17.6 325.5,17.8" fill="#cdcdcd"/>
<polygon points="442.7,83.3 442.6,83.6 442.5,83.8 442.4,84.1 442.4,84.3 442.4,84.6 442.4,84.9 442.4,85.2 442.5,85.4 442.6,85.7 442.7,85.9 442.9,86.1 443.0,86.4 443.2,86.6 443.4,86.7 443.7,86.9 443.9,87.0 444.1,87.1 444.4,87.2 447.8,88.2 448.1,88.3 448.4,88.3 448.6,88.3 448.9,88.3 449.2,88.3 449.4,88.2 449.7,88.1 450.0,88.0 450.2,87.8 450.4,87.7 450.6,87.5 450.8,87.3 450.9,87.1 451.1,86.8 451.2,86.6 451.3,86.3 451.4,86.0 451.4,85.8 451.4,85.5 451.4,85.2 451.3,85.0 451.3,84.7 450.0,80.7 449.9,80.5 449.8,80.2 449.6,80.0 449.5,79.8 449.3,79.5 449.1,79.4 448.8,79.2 448.6,79.1 448.3,79.0 448.1,78.9 447.8,78.8 447.5,78.8 447.2,78.8 447.0,78.8 446.7,78.9 446.4,78.9 446.1,79.0 445.9,79.2 445.7,79.3 444.5,80.2 444.3,80.3 444.2,80.5 444.0,80.7 443.8,81.0 443.7,81.2" fill="#cdcdcd"/>
<polygon points="451.1,73.0 451.1,73.3 451.1,73.5 451.2,73.8 451.2,74.1 451.3,74.3 451.4,74.6 451.6,74.8 451.7,75.0 451.9,75.2 452.1,75.4 466.9,87.3 467.1,87.5 467.4,87.6 467.6,87.7 467.9,87.8 468.2,87.9 468.5,87.9 573.6,92.6 573.9,92.6 574.1,92.6 574.4,92.5 574.6,92.4 574.9,92.4 575.1,92.2 575.3,92.1 586.6,84.4 586.8,84.2 587.0,84.0 587.2,83.8 587.4,83.6 587.5,83.4 587.6,83.1 587.7,82.8 587.8,82.6 587.8,82.3 587.8,82.0 587.8,81.7 587.8,81.5 587.7,81.2 587.6,80.9 587.5,80.7 587.3,80.5 587.2,80.2 587.0,80.0 586.7,79.9 509.2,20.3 509.0,20.2 508.8,20.0 508.5,19.9 508.3,19.8 508.0,19.8 507.7,19.7 507.5,19.7 507.2,19.8 506.9,19.8 506.7,19.9 506.4,20.0 506.2,20.1 505.9,20.2 505.7,20.4 452.7,63.8 452.5,64.0 452.3,64.2 452.2,64.5 452.0,64.7 451.9,65.0 451.8,65.2 451.7,65.5 451.7,65.8" fill="#cdcdcd"/>
<polygon points="349.2,96.2 348.9,96.2 348.7,96.3 348.4,96.5 348.2,96.6 348.0,96.8 347.8,97.0 347.6,97.2 347.4,97.5 347.3,97.7 347.2,98.0 347.1,98.2 347.1,98.5 347.1,98.8 347.1,99.1 347.1,99.3 347.2,99.6 347.3,99.9 347.4,100.1 347.5,100.4 347.7,100.6 347.9,100.8 348.1,101.0 348.3,101.2 348.5,101.3 348.8,101.4 349.0,101.5 349.3,101.6 349.6,101.7 349.9,101.7 350.1,101.7 395.2,97.3 395.5,97.3 395.8,97.2 396.0,97.1 396.3,97.0 396.5,96.9 396.7,96.7 397.0,96.5 397.1,96.3 397.3,96.1 397.4,95.8 397.6,95.6 397.7,95.3 397.7,95.0 397.7,94.7 397.8,94.5 397.7,94.2 397.7,93.9 397.6,93.6 397.5,93.4 397.4,93.1 397.2,92.9 397.1,92.7 396.9,92.5 390.8,86.9 390.6,86.7 390.4,86.5 390.1,86.4 389.9,86.3 389.6,86.2 389.3,86.1 389.1,86.1 388.8,86.1 388.5,86.1 388.2,86.2" fill="#cdcdcd"/>
<polygon points="432.6,60.7 432.3,60.7 432.0,60.7 431.8,60.7 431.5,60.7 431.2,60.8 431.0,60.9 430.7,61.0 430.5,61.2 430.2,61.3 430.0,61.5 429.9,61.7 429.7,61.9 429.6,62.2 429.4,62.4 429.4,62.7 429.3,63.0 429.3,63.3 429.3,63.5 429.3,65.7 429.3,66.0 429.4,66.3 429.5,66.5 429.6,66.8 429.7,67.0 429.8,67.2 430.0,67.5 430.2,67.7 430.4,67.8 430.6,68.0 430.8,68.1 431.1,68.2 431.3,68.3 431.6,68.4 431.9,68.4 440.6,69.2 440.9,69.3 441.2,69.2 441.5,69.2 441.7,69.1 442.0,69.0 442.3,68.9 443.9,68.0 444.1,67.8 444.3,67.6 444.5,67.4 444.7,67.2 444.9,67.0 445.0,66.8 445.1,66.5 445.2,66.3 445.2,66.0 445.3,65.7 445.3,65.5 445.3,65.2 445.2,64.9 445.2,64.7 445.1,64.4 444.9,64.2 444.8,63.9 444.6,63.7 444.5,63.5 444.3,63.3 444.0,63.2 443.8,63.0 443.6,62.9 443.3,62.8 443.0,62.8" fill="#cdcdcd"/>
<polygon points="396.8,71.3 396.7,71.2 396.6,71.1 396.5,71.0 396.4,71.0 396.2,70.9 396.1,70.9 384.3,68.1 384.1,68.1 384.0,68.1 383.9,68.1 383.8,68.1 383.6,68.1 383.5,68.2 383.4,68.2 383.3,68.3 383.2,68.3 382.0,69.1 381.9,69.2 381.8,69.3 381.7,69.4 381.6,69.5 381.5,69.6 381.5,69.8 381.4,69.9 381.4,70.0 381.4,70.2 381.4,70.3 381.4,70.4 381.4,70.6 381.4,70.7 381.5,70.8 381.5,71.0 381.6,71.1 381.7,71.2 381.8,71.3 381.9,71.4 382.0,71.5 382.1,71.5 382.2,71.6 391.9,75.7 392.0,75.7 392.1,75.8 392.3,75.8 392.4,75.8 392.5,75.8 392.7,75.8 392.8,75.8 393.0,75.7 393.1,75.6 396.7,73.7 396.8,73.7 396.9,73.6 397.0,73.5 397.1,73.4 397.2,73.3 397.2,73.1 397.3,73.0 397.3,72.9 397.4,72.7 397.4,72.6 397.4,72.5 397.4,72.3 397.4,72.2 397.3,72.0 397.3,71.9 397.2,71.8 397.1,71.7 397.0,71.6" fill="#cdcdcd"/>
<polygon points="455.3,91.0 455.1,91.0 454.8,91.1 454.6,91.2 454.3,91.3 454.1,91.5 453.9,91.6 453.7,91.8 453.5,92.0 453.3,92.2 453.2,92.5 453.1,92.7 450.0,100.2 449.9,100.4 449.9,100.7 449.8,101.0 449.8,101.2 449.8,101.5 449.9,101.8 449.9,102.1 450.0,102.3 450.2,102.6 450.3,102.8 450.5,103.0 450.7,103.2 450.9,103.4 451.1,103.6 451.4,103.7 451.6,103.8 451.9,103.9 452.1,104.0 452.4,104.0 481.4,105.9 481.7,106.0 482.0,105.9 538.4,98.1 538.7,98.0 539.0,98.0 539.2,97.9 539.5,97.7 539.7,97.6 539.9,97.4 540.1,97.2 540.3,97.0 540.4,96.8 540.6,96.5 540.7,96.3 540.8,96.0 540.8,95.7 540.8,95.5 540.8,95.2 540.8,94.9 540.8,94.6 540.7,94.4 540.6,94.1 540.5,93.9 540.3,93.6 540.1,93.4 539.9,93.2 539.7,93.1 539.5,92.9 539.2,92.8 539.0,92.7 538.7,92.6 538.4,92.5 538.2,92.5 467.6,89.4 467.3,89.4 467.1,89.4" fill="#cdcdcd"/>
<polygon points="391.9,65.0 392.0,65.0 392.1,65.1 392.2,65.1 392.4,65.1 392.5,65.1 392.7,65.1 392.8,65.0 392.9,65.0 393.0,64.9 393.2,64.9 393.3,64.8 393.4,64.7 393.5,64.6 393.5,64.5 393.6,64.4 393.7,64.3 393.7,64.1 393.8,64.0 393.8,63.9 393.8,63.7 393.8,63.6 393.5,58.3 393.4,58.2 393.4,58.1 393.4,57.9 393.3,57.8 393.2,57.7 393.2,57.6 393.1,57.5 393.0,57.4 392.9,57.3 392.7,57.2 392.6,57.1 392.5,57.1 392.4,57.1 392.2,57.0 392.1,57.0 391.9,57.0 390.8,57.1 390.6,57.2 390.5,57.2 390.4,57.2 390.2,57.3 390.1,57.4 390.0,57.4 389.9,57.5 389.8,57.6 389.7,57.7 389.7,57.9 389.6,58.0 389.6,58.1 388.3,62.1 388.2,62.3 388.2,62.4 388.2,62.5 388.2,62.7 388.2,62.8 388.3,62.9 388.3,63.1 388.4,63.2 388.4,63.3 388.5,63.4 388.6,63.5 388.7,63.6 388.8,63.7 389.0,63.8 389.1,63.8" fill="#cdcdcd"/>
<polygon points="388.7,55.2 388.9,55.3 389.1,55.5 389.4,55.5 389.6,55.6 389.9,55.7 390.2,55.7 390.4,55.7 392.4,55.5 392.7,55.4 393.0,55.4 393.2,55.3 393.5,55.2 393.7,55.0 393.9,54.9 394.1,54.7 394.3,54.5 394.5,54.3 394.6,54.0 394.7,53.8 394.8,53.5 394.9,53.3 394.9,53.0 395.0,52.7 395.0,52.4 394.9,52.2 394.8,51.9 394.8,51.6 394.6,51.4 394.5,51.2 394.3,50.9 350.5,-3.2 350.3,-3.4 350.1,-3.6 349.9,-3.8 349.7,-3.9 349.4,-4.0 349.2,-4.1 348.9,-4.2 348.6,-4.2 348.3,-4.2 348.1,-4.2 347.8,-4.2 347.5,-4.1 347.3,-4.0 347.0,-3.9 346.8,-3.7 346.5,-3.6 346.3,-3.4 330.5,12.9 330.3,13.1 330.2,13.3 330.0,13.6 329.9,13.8 329.8,14.1 329.8,14.4 329.7,14.6 329.7,14.9 329.7,15.2 329.8,15.4 329.9,15.7 330.0,16.0 330.1,16.2 330.2,16.4 330.4,16.7 330.6,16.9 330.8,17.0 331.0,17.2" fill="#cdcdcd"/>
<polygon points="450.2,62.7 450.5,62.7 450.7,62.7 451.0,62.7 451.3,62.7 451.5,62.6 451.8,62.5 452.0,62.4 452.3,62.2 452.5,62.1 504.0,19.9 504.2,19.7 504.3,19.5 504.5,19.3 504.6,19.1 504.8,18.8 504.9,18.6 504.9,18.3 505.0,18.0 505.0,17.7 505.0,17.5 504.9,17.2 504.9,16.9 504.8,16.7 504.7,16.4 504.5,16.2 504.4,16.0 504.2,15.8 499.4,11.0 499.2,10.8 499.0,10.6 498.8,10.5 498.6,10.3 498.3,10.3 498.0,10.2 497.8,10.1 497.5,10.1 497.2,10.1 497.0,10.2 496.7,10.2 496.5,10.3 496.2,10.4 496.0,10.5 495.8,10.7 436.4,55.2 436.2,55.3 436.0,55.5 435.8,55.8 435.6,56.0 435.5,56.3 435.4,56.5 435.3,56.8 435.3,57.1 435.3,57.3 435.3,57.6 435.3,57.9 435.4,58.2 435.5,58.4 435.6,58.7 435.7,58.9 435.9,59.2 436.1,59.4 436.3,59.6 436.5,59.7 436.7,59.9 437.0,60.0 437.3,60.1 437.5,60.2" fill="#cdcdcd"/>
<polygon points="420.8,82.0 421.0,82.1 421.3,82.3 421.5,82.4 421.8,82.5 425.5,83.9 425.8,84.0 426.0,84.0 426.3,84.0 426.5,84.0 426.8,84.0 427.1,84.0 427.3,83.9 427.6,83.8 427.8,83.7 430.3,82.3 430.6,82.2 430.8,82.0 431.0,81.8 431.2,81.6 431.3,81.4 431.5,81.1 431.6,80.9 431.7,80.6 431.7,80.3 431.8,80.1 431.8,79.8 431.7,79.5 431.7,79.2 429.9,71.5 429.8,71.3 429.7,71.0 429.6,70.8 429.5,70.5 429.3,70.3 429.1,70.1 428.9,69.9 428.7,69.8 428.4,69.7 428.2,69.5 427.9,69.5 427.6,69.4 427.4,69.4 427.1,69.4 426.8,69.4 426.5,69.5 426.3,69.5 426.0,69.6 425.8,69.8 418.0,74.4 417.7,74.5 417.5,74.7 417.3,74.9 417.2,75.1 417.0,75.3 416.9,75.6 416.8,75.8 416.7,76.1 416.6,76.3 416.6,76.6 416.6,76.9 416.6,77.2 416.7,77.4 416.7,77.7 416.8,77.9 417.0,78.2 417.1,78.4 417.3,78.6 417.5,78.8" fill="#cdcdcd"/>
<ellipse cx="399.4" cy="73.1" rx="1.2" ry="1.0" fill="#4b2378"/>
<ellipse cx="401.2" cy="56.8" rx="1.7" ry="1.0" fill="#4b2378"/>
<ellipse cx="404.4" cy="96.8" rx="1.4" ry="1.2" fill="#4b2378"/>
<ellipse cx="436.0" cy="98.3" rx="1.0" ry="0.9" fill="#4b2378"/>
<ellipse cx="430.1" cy="69.0" rx="1.6" ry="1.2" fill="#4b2378"/>
<ellipse cx="402.8" cy="73.2" rx="1.1" ry="0.9" fill="#4b2378"/>
<ellipse cx="429.2" cy="59.5" rx="1.5" ry="1.3" fill="#4b2378"/>
<ellipse cx="428.4" cy="60.4" rx="1.1" ry="1.3" fill="#4b2378"/>
<ellipse cx="433.0" cy="81.7" rx="1.6" ry="1.1" fill="#4b2378"/>
<ellipse cx="407.6" cy="75.3" rx="1.2" ry="0.9" fill="#4b2378"/>
<ellipse cx="425.9" cy="98.1" rx="0.9" ry="1.3" fill="#4b2378"/>
<ellipse cx="416.7" cy="91.2" rx="1.1" ry="1.2" fill="#4b2378"/>
<ellipse cx="429.6" cy="59.3" rx="1.1" ry="1.2" fill="#4b2378"/>
<ellipse cx="420.8" cy="83.0" rx="1.4" ry="0.9" fill="#4b2378"/>
<ellipse cx="413.5" cy="76.1" rx="1.0" ry="1.2" fill="#4b2378"/>
<ellipse cx="397.2" cy="54.6" rx="1.0" ry="0.9" fill="#4b2378"/>
<ellipse cx="403.6" cy="97.4" rx="1.3" ry="1.2" fill="#4b2378"/>
<ellipse cx="397.3" cy="53.4" rx="1.4" ry="0.9" fill="#4b2378"/>
<ellipse cx="426.8" cy="85.1" rx="1.6" ry="0.9" fill="#4b2378"/>
<ellipse cx="414.3" cy="55.9" rx="0.9" ry="0.9" fill="#4b2378"/>
<ellipse cx="443.4" cy="80.1" rx="1.3" ry="0.8" fill="#4b2378"/>
<ellipse cx="408.2" cy="76.1" rx="1.0" ry="1.0" fill="#4b2378"/>
<ellipse cx="394.1" cy="56.1" rx="1.4" ry="0.9" fill="#4b2378"/>
<ellipse cx="440.7" cy="85.6" rx="1.2" ry="1.2" fill="#4b2378"/>
<rect x="431.2" y="108.1" width="14.5" height="1.5" fill="#111"/>
</g>
<clipPath id="c3"><rect x="455.3" y="52.9" width="57.2" height="58.7"/></clipPath><g clip-path="url(#c3)">
<rect x="455.3" y="52.9" width="57.2" height="58.7" fill="#c9c9c9"/>
<clipPath id="c3a"><path d="M455.3 52.9 L475.3 52.9 Q479.3 82.9 477.3 111.6 L455.3 111.6 Z"/></clipPath>
<g clip-path="url(#c3a)">
<rect x="445.3" y="42.9" width="44" height="78.7" fill="#d8a4da"/>
<path d="M620.3 82.3L606.9 73.3M606.9 73.3L467.3 -65.3M311.5 82.2L316.4 79.1M467.3 -65.3L462.1 -58.0M462.1 -58.0L344.2 56.1M316.4 79.1L322.4 74.7M344.2 56.1L322.4 74.7M620.3 82.3L610.5 90.1M467.3 230.4L495.6 199.2M610.5 90.1L554.9 140.8M495.6 199.2L554.9 140.8M481.6 110.8L480.3 111.1M481.6 110.8L481.8 111.1M481.8 111.1L481.9 127.5M480.3 111.1L477.0 116.1M481.9 127.5L477.0 116.1M610.5 90.1L483.5 101.9M483.5 101.9L481.6 110.8M554.9 140.8L481.8 111.1M495.6 199.2L481.9 127.5M468.9 111.2L469.9 110.4M469.9 110.4L480.3 111.1M468.9 111.2L477.0 116.1M465.3 83.3L458.0 85.3M458.0 85.3L463.7 93.4M465.3 83.3L465.7 91.6M463.7 93.4L465.7 91.6M454.2 94.5L454.4 94.6M454.2 94.5L447.7 99.6M454.4 94.6L452.7 105.8M447.7 99.6L452.7 105.8M453.7 85.0L458.0 85.3M451.1 87.8L453.7 85.0M451.1 87.8L454.2 94.5M463.7 93.4L461.5 97.2M461.5 97.2L454.4 94.6M311.5 82.2L336.8 102.3M316.4 79.1L451.1 87.8M336.8 102.3L406.6 102.6M406.6 102.6L447.7 99.6M406.6 102.6L453.2 107.4M453.2 107.4L452.7 105.8M461.5 97.2L462.1 98.7M462.1 98.7L461.3 106.1M453.2 107.4L454.0 108.1M454.0 108.1L461.3 106.1M480.5 100.4L472.8 105.5M480.5 100.4L476.8 93.5M476.8 93.5L468.7 99.2M472.8 105.5L468.7 99.2M469.9 110.4L472.8 105.5M483.5 101.9L480.5 100.4M606.9 73.3L584.5 72.7M584.5 72.7L503.3 78.8M477.6 89.1L503.3 78.8M477.6 89.1L476.6 91.8M476.6 91.8L476.8 93.5M462.1 98.7L468.7 99.2M465.7 91.6L476.6 91.8M468.9 111.2L467.5 111.9M461.3 106.1L467.5 111.9M472.2 72.7L466.7 69.3M472.2 72.7L470.0 77.2M466.7 69.3L451.4 70.5M469.8 77.3L454.7 75.4M469.8 77.3L470.0 77.2M454.7 75.4L451.4 70.5M477.6 89.1L470.0 77.2M503.3 78.8L473.0 72.1M473.0 72.1L472.2 72.7M453.7 85.0L454.7 75.4M465.3 83.3L469.8 77.3M322.4 74.7L451.3 70.3M451.3 70.3L451.4 70.5M451.3 70.3L451.8 69.2M466.7 69.3L460.7 62.7M451.8 69.2L460.7 62.7M467.3 230.4L464.3 226.6M467.5 111.9L467.0 114.1M464.3 226.6L467.0 114.1M509.5 60.8L484.0 60.3M584.5 72.7L509.5 60.8M473.0 72.1L474.6 64.9M474.6 64.9L483.9 60.3M484.0 60.3L483.9 60.3M483.9 60.3L475.7 53.8M474.6 64.9L472.6 61.2M472.6 61.2L475.7 53.8M336.8 102.3L405.8 164.8M464.3 226.6L446.8 207.5M405.8 164.8L446.8 207.5M344.2 56.1L449.0 54.7M451.8 69.2L451.7 56.0M449.0 54.7L451.7 56.0M460.8 62.5L456.2 55.0M460.8 62.5L467.4 57.8M467.4 57.8L464.1 46.0M456.2 55.0L464.1 46.0M460.7 62.7L460.8 62.5M451.7 56.0L456.2 55.0M472.6 61.2L467.4 57.8M475.8 53.1L464.2 45.4M475.8 53.1L479.7 50.8M481.0 48.3L479.7 50.8M481.0 48.3L463.6 -25.4M464.2 45.4L462.9 -0.8M463.6 -25.4L462.9 -0.8M464.1 46.0L464.2 45.4M475.7 53.8L475.8 53.1M484.0 60.3L479.7 50.8M509.5 60.8L481.0 48.3M462.1 -58.0L463.6 -25.4M449.0 54.7L462.9 -0.8M457.5 115.2L456.6 117.2M457.5 115.2L453.7 109.0M456.6 117.2L451.5 112.5M453.7 109.0L451.5 112.5M467.0 114.1L457.5 115.2M446.8 207.5L456.6 117.2M454.0 108.1L453.7 109.0M405.8 164.8L451.5 112.5" stroke="#c468c8" stroke-width="0.8" fill="none"/>
<polygon points="471.3,98.6 471.2,98.7 471.0,98.8 471.0,98.9 470.9,99.0 470.8,99.2 470.7,99.3 470.7,99.4 470.7,99.6 470.6,99.7 470.6,99.9 470.6,100.0 470.7,100.1 470.7,100.3 470.7,100.4 470.8,100.6 470.9,100.7 472.2,102.8 472.3,102.9 472.4,103.0 472.5,103.1 472.6,103.2 472.8,103.3 472.9,103.4 473.0,103.4 473.2,103.5 473.3,103.5 473.5,103.5 473.6,103.5 473.8,103.5 473.9,103.4 474.1,103.4 474.2,103.3 474.3,103.2 478.1,100.8 478.2,100.7 478.3,100.6 478.4,100.5 478.5,100.4 478.6,100.2 478.6,100.1 478.7,100.0 478.7,99.8 478.7,99.7 478.7,99.5 478.7,99.4 478.7,99.2 478.7,99.1 478.6,99.0 478.6,98.8 477.3,96.5 477.2,96.3 477.1,96.2 477.0,96.1 476.9,96.0 476.8,95.9 476.7,95.8 476.5,95.8 476.4,95.7 476.2,95.7 476.1,95.7 475.9,95.7 475.8,95.7 475.6,95.7 475.5,95.8 475.4,95.8 475.2,95.9 475.1,95.9" fill="#cdcdcd"/>
<polygon points="478.3,115.8 478.3,115.9 478.3,116.0 478.2,116.0 478.2,116.1 478.2,116.2 478.2,116.3 478.2,116.3 478.2,116.4 478.2,116.5 478.3,116.6 479.4,119.2 479.4,119.2 479.4,119.3 479.5,119.3 479.5,119.4 479.6,119.4 479.7,119.5 479.7,119.5 479.8,119.6 479.9,119.6 479.9,119.6 480.0,119.6 480.1,119.6 480.1,119.6 480.2,119.6 480.3,119.6 480.4,119.6 480.4,119.5 480.5,119.5 480.5,119.4 480.6,119.4 480.7,119.3 480.7,119.3 480.7,119.2 480.8,119.1 480.8,119.1 480.8,119.0 480.8,118.9 480.8,118.9 480.8,114.7 480.8,114.6 480.8,114.5 480.8,114.4 480.7,114.4 480.7,114.3 480.7,114.2 480.6,114.2 480.6,114.1 480.5,114.1 480.5,114.0 480.4,114.0 480.3,114.0 480.3,113.9 480.2,113.9 480.1,113.9 480.0,113.9 480.0,113.9 479.9,113.9 479.8,113.9 479.8,114.0 479.7,114.0 479.6,114.0 479.6,114.1 479.5,114.1 479.5,114.2 479.4,114.2" fill="#cdcdcd"/>
<polygon points="472.1,111.6 472.1,111.6 472.0,111.6 472.0,111.6 472.0,111.6 472.0,111.6 472.0,111.6 472.0,111.6 471.9,111.6 471.9,111.6 471.9,111.6 471.9,111.7 471.9,111.7 471.9,111.7 471.9,111.7 471.9,111.7 471.9,111.8 471.9,111.8 471.9,111.8 471.9,111.8 471.9,111.8 471.9,111.8 471.9,111.9 471.9,111.9 471.9,111.9 471.9,111.9 472.0,111.9 472.0,111.9 476.5,114.6 476.5,114.6 476.5,114.7 476.6,114.7 476.6,114.7 476.6,114.7 476.6,114.7 476.6,114.7 476.7,114.7 476.7,114.7 476.7,114.6 476.7,114.6 476.7,114.6 476.7,114.6 476.8,114.6 476.8,114.6 478.3,112.3 478.3,112.3 478.3,112.3 478.4,112.2 478.4,112.2 478.4,112.2 478.4,112.2 478.4,112.2 478.4,112.1 478.4,112.1 478.3,112.1 478.3,112.1 478.3,112.1 478.3,112.1 478.3,112.0 478.3,112.0 478.3,112.0 478.3,112.0 478.2,112.0 478.2,112.0 478.2,112.0 478.2,112.0" fill="#cdcdcd"/>
<polygon points="324.3,75.6 324.2,75.6 324.0,75.7 323.9,75.7 323.7,75.8 323.6,75.8 323.5,75.9 323.4,76.0 323.3,76.1 323.2,76.2 323.1,76.3 323.0,76.5 322.9,76.6 322.9,76.7 322.9,76.9 322.9,77.0 322.9,77.2 322.9,77.3 322.9,77.5 322.9,77.6 323.0,77.7 323.1,77.9 323.1,78.0 323.2,78.1 323.3,78.2 323.4,78.3 323.6,78.4 323.7,78.5 323.8,78.5 324.0,78.6 324.1,78.6 324.3,78.6 450.0,86.7 450.1,86.7 450.3,86.7 450.4,86.7 450.6,86.7 450.7,86.6 450.8,86.5 450.9,86.5 451.1,86.4 451.2,86.3 452.4,85.0 452.5,84.8 452.6,84.7 452.6,84.6 452.7,84.5 452.7,84.4 452.8,84.2 452.8,84.1 453.6,76.2 453.6,76.1 453.6,75.9 453.6,75.8 453.5,75.6 453.5,75.5 453.4,75.4 453.4,75.2 451.2,72.0 451.2,71.9 451.1,71.8 450.9,71.7 450.8,71.6 450.7,71.5 450.5,71.4 450.4,71.4 450.2,71.3 450.1,71.3 449.9,71.3" fill="#cdcdcd"/>
<polygon points="477.8,92.9 477.8,93.1 477.8,93.2 477.9,93.3 477.9,93.4 481.0,99.2 481.1,99.3 481.2,99.5 481.3,99.6 481.4,99.7 481.5,99.8 481.7,99.8 483.3,100.7 483.5,100.8 483.6,100.8 483.7,100.9 483.9,100.9 484.0,100.9 484.2,100.9 609.6,89.1 609.8,89.1 609.9,89.1 610.1,89.0 610.2,89.0 610.3,88.9 610.4,88.8 617.0,83.6 617.1,83.5 617.2,83.4 617.3,83.3 617.3,83.1 617.4,83.0 617.5,82.9 617.5,82.7 617.5,82.6 617.5,82.4 617.5,82.3 617.5,82.1 617.5,82.0 617.4,81.9 617.4,81.7 617.3,81.6 617.2,81.5 617.1,81.4 617.0,81.3 616.9,81.2 606.9,74.5 606.8,74.4 606.7,74.4 606.6,74.3 606.4,74.3 606.3,74.3 606.1,74.3 584.6,73.7 584.5,73.7 503.8,79.8 503.6,79.8 503.5,79.9 503.3,79.9 479.0,89.6 478.9,89.6 478.7,89.7 478.6,89.8 478.5,89.9 478.4,90.0 478.3,90.1 478.3,90.2 478.2,90.3 478.1,90.5 477.7,91.6 477.7,91.7 477.7,91.9 477.7,92.0 477.7,92.2 477.7,92.3" fill="#cdcdcd"/>
<polygon points="483.5,50.5 483.4,50.4 483.2,50.4 483.1,50.4 482.9,50.4 482.8,50.4 482.6,50.4 482.5,50.4 482.4,50.5 482.2,50.5 482.1,50.6 482.0,50.7 481.9,50.8 481.8,50.9 481.7,51.0 481.6,51.1 481.5,51.2 481.5,51.4 481.4,51.5 481.4,51.6 481.4,51.8 481.4,51.9 481.4,52.1 481.4,52.2 481.5,52.4 481.5,52.5 484.3,58.5 484.3,58.6 484.4,58.7 484.5,58.8 484.6,59.0 484.8,59.0 484.9,59.1 485.0,59.2 485.2,59.3 485.3,59.3 485.5,59.3 485.6,59.3 497.0,59.6 497.1,59.6 497.3,59.5 497.4,59.5 497.6,59.5 497.7,59.4 497.8,59.3 497.9,59.3 498.0,59.2 498.1,59.0 498.2,58.9 498.3,58.8 498.4,58.7 498.4,58.5 498.5,58.4 498.5,58.3 498.5,58.1 498.5,58.0 498.5,57.8 498.5,57.7 498.4,57.5 498.3,57.4 498.3,57.3 498.2,57.1 498.1,57.0 498.0,56.9 497.9,56.8 497.7,56.8 497.6,56.7" fill="#cdcdcd"/>
<polygon points="463.5,61.8 463.4,61.9 463.3,62.0 463.2,62.1 463.1,62.2 463.1,62.4 463.0,62.5 463.0,62.6 462.9,62.8 462.9,62.9 462.9,63.1 462.9,63.2 462.9,63.4 463.0,63.5 463.0,63.7 463.1,63.8 463.2,63.9 463.3,64.0 467.2,68.3 467.3,68.4 467.4,68.5 467.5,68.6 470.3,70.4 470.5,70.4 470.6,70.5 470.7,70.5 470.9,70.6 471.0,70.6 471.2,70.6 471.3,70.6 471.5,70.5 471.6,70.5 471.8,70.4 471.9,70.4 472.0,70.3 472.1,70.2 472.2,70.1 472.3,70.0 472.4,69.8 472.5,69.7 472.5,69.6 472.6,69.4 473.5,65.6 473.5,65.5 473.5,65.3 473.5,65.1 473.5,65.0 473.4,64.8 473.4,64.7 473.3,64.5 472.0,62.2 472.0,62.1 471.9,62.0 471.8,61.9 471.7,61.8 471.6,61.7 468.3,59.6 468.2,59.5 468.0,59.4 467.9,59.4 467.8,59.3 467.6,59.3 467.5,59.3 467.3,59.3 467.2,59.4 467.0,59.4 466.9,59.4 466.7,59.5 466.6,59.6" fill="#cdcdcd"/>
<polygon points="471.1,80.7 471.0,80.5 470.9,80.4 470.8,80.3 470.7,80.2 470.5,80.2 470.4,80.1 470.3,80.0 470.1,80.0 470.0,80.0 469.9,80.0 469.7,80.0 469.6,80.0 469.4,80.0 469.3,80.0 469.2,80.1 469.0,80.2 468.9,80.3 468.8,80.3 468.7,80.4 468.6,80.6 466.6,83.2 466.5,83.3 466.5,83.4 466.4,83.6 466.4,83.7 466.3,83.8 466.3,84.0 466.3,84.1 466.6,89.2 466.6,89.4 466.6,89.5 466.6,89.6 466.7,89.8 466.8,89.9 466.9,90.0 467.0,90.2 467.1,90.3 467.2,90.4 467.3,90.4 467.4,90.5 467.6,90.6 467.7,90.6 467.9,90.6 468.0,90.6 474.7,90.8 474.9,90.8 475.0,90.8 475.2,90.7 475.3,90.7 475.4,90.6 475.6,90.6 475.7,90.5 475.8,90.4 475.9,90.3 476.0,90.2 476.1,90.0 476.1,89.9 476.2,89.8 476.2,89.6 476.2,89.5 476.3,89.3 476.2,89.2 476.2,89.0 476.2,88.9 476.2,88.7 476.1,88.6 476.0,88.5" fill="#cdcdcd"/>
<polygon points="450.7,57.6 450.7,57.4 450.7,57.3 450.6,57.1 450.6,57.0 450.5,56.8 450.4,56.7 450.3,56.6 450.2,56.5 450.1,56.4 450.0,56.3 449.8,56.2 449.1,55.9 448.9,55.8 448.8,55.8 448.7,55.8 448.5,55.7 448.4,55.7 345.1,57.0 345.0,57.1 344.8,57.1 344.7,57.1 344.5,57.2 344.4,57.2 344.3,57.3 344.2,57.4 328.5,70.8 328.4,70.9 328.3,71.0 328.2,71.1 328.1,71.3 328.1,71.4 328.0,71.5 328.0,71.7 328.0,71.8 328.0,72.0 328.0,72.1 328.0,72.3 328.0,72.4 328.1,72.6 328.2,72.7 328.2,72.8 328.3,72.9 328.4,73.0 328.5,73.1 328.7,73.2 328.8,73.3 328.9,73.3 329.1,73.4 329.2,73.4 329.4,73.4 329.5,73.4 449.4,69.3 449.5,69.3 449.7,69.3 449.8,69.3 449.9,69.2 450.1,69.1 450.2,69.1 450.3,69.0 450.4,68.9 450.5,68.8 450.6,68.7 450.7,68.5 450.7,68.4 450.8,68.3 450.8,68.1 450.8,68.0 450.8,67.8" fill="#cdcdcd"/>
<polygon points="456.8,108.4 456.7,108.4 456.5,108.5 456.4,108.6 456.3,108.7 456.2,108.8 456.1,108.9 456.0,109.0 455.9,109.1 455.8,109.2 455.8,109.4 455.7,109.5 455.7,109.6 455.7,109.8 455.7,109.9 455.7,110.1 455.7,110.2 455.8,110.4 455.8,110.5 455.9,110.6 457.6,113.3 457.6,113.4 457.7,113.5 457.8,113.6 457.9,113.7 458.1,113.8 458.2,113.9 458.3,113.9 458.4,114.0 458.6,114.0 458.7,114.0 458.9,114.0 459.0,114.0 464.0,113.4 464.1,113.4 464.3,113.3 464.4,113.3 464.6,113.2 464.7,113.1 464.8,113.1 464.9,113.0 465.0,112.8 465.1,112.7 465.2,112.6 465.2,112.5 465.3,112.3 465.3,112.2 465.3,112.0 465.3,111.9 465.3,111.7 465.3,111.6 465.2,111.4 465.2,111.3 465.1,111.2 465.0,111.0 464.9,110.9 464.8,110.8 461.6,107.8 461.5,107.7 461.4,107.6 461.2,107.6 461.1,107.5 460.9,107.4 460.8,107.4 460.6,107.4 460.5,107.4 460.3,107.4 460.2,107.5" fill="#cdcdcd"/>
<polygon points="477.7,56.6 477.6,56.5 477.5,56.5 477.3,56.4 477.2,56.4 477.0,56.3 476.9,56.3 476.7,56.3 476.6,56.3 476.5,56.3 476.3,56.4 476.2,56.4 476.0,56.5 475.9,56.6 475.8,56.6 475.7,56.7 475.6,56.9 475.5,57.0 475.4,57.1 475.4,57.2 474.0,60.5 474.0,60.6 473.9,60.8 473.9,60.9 473.9,61.1 473.9,61.2 473.9,61.4 474.0,61.5 474.0,61.7 474.1,61.8 474.4,62.3 474.4,62.4 474.5,62.6 474.6,62.7 474.7,62.8 474.8,62.8 475.0,62.9 475.1,63.0 475.2,63.0 475.4,63.1 475.5,63.1 475.7,63.1 475.8,63.1 475.9,63.1 476.1,63.0 476.2,63.0 476.3,62.9 479.9,61.2 480.1,61.1 480.2,61.0 480.3,60.9 480.4,60.8 480.5,60.7 480.6,60.6 480.6,60.4 480.7,60.3 480.7,60.1 480.8,60.0 480.8,59.8 480.8,59.7 480.7,59.6 480.7,59.4 480.7,59.3 480.6,59.1 480.5,59.0 480.4,58.9 480.3,58.8 480.2,58.7" fill="#cdcdcd"/>
<polygon points="477.3,53.4 477.3,53.4 477.3,53.4 477.3,53.4 477.2,53.5 477.2,53.5 477.2,53.5 477.2,53.5 477.2,53.5 477.2,53.5 477.2,53.6 477.2,53.6 477.2,53.6 477.2,53.6 477.2,53.6 477.2,53.7 477.2,53.7 477.2,53.7 477.3,53.7 477.3,53.7 477.3,53.7 480.8,56.5 480.8,56.6 480.8,56.6 480.8,56.6 480.8,56.6 480.9,56.6 480.9,56.6 480.9,56.6 480.9,56.6 480.9,56.6 481.0,56.6 481.0,56.6 481.0,56.6 481.0,56.6 481.0,56.5 481.0,56.5 481.1,56.5 481.1,56.5 481.1,56.5 481.1,56.5 481.1,56.4 481.1,56.4 481.1,56.4 481.1,56.4 481.1,56.4 481.1,56.3 481.1,56.3 481.1,56.3 479.3,52.4 479.3,52.4 479.3,52.4 479.3,52.4 479.3,52.4 479.2,52.4 479.2,52.4 479.2,52.4 479.2,52.3 479.2,52.3 479.2,52.3 479.1,52.3 479.1,52.3 479.1,52.3 479.1,52.3 479.1,52.3 479.0,52.4 479.0,52.4" fill="#cdcdcd"/>
<polygon points="468.9,49.7 468.8,49.7 468.7,49.6 468.5,49.5 468.4,49.5 468.2,49.5 468.1,49.5 467.9,49.5 467.8,49.5 467.7,49.5 467.5,49.6 467.4,49.7 467.3,49.7 467.1,49.8 467.0,49.9 466.9,50.0 466.8,50.1 466.8,50.3 466.7,50.4 466.7,50.5 466.6,50.7 466.6,50.8 466.6,51.0 466.6,51.1 466.6,51.3 466.6,51.4 468.1,56.6 468.2,56.8 468.3,56.9 468.3,57.0 468.4,57.2 468.5,57.3 468.6,57.4 468.8,57.5 470.7,58.7 470.8,58.8 470.9,58.9 471.0,58.9 471.2,58.9 471.3,59.0 471.5,59.0 471.6,59.0 471.8,58.9 471.9,58.9 472.1,58.9 472.2,58.8 472.3,58.7 472.4,58.6 472.5,58.5 472.6,58.4 472.7,58.3 472.8,58.2 472.9,58.0 474.2,54.7 474.3,54.6 474.3,54.5 474.3,54.3 474.3,54.2 474.3,54.0 474.3,53.9 474.3,53.7 474.2,53.6 474.2,53.5 474.1,53.3 474.0,53.2 473.9,53.1 473.8,53.0 473.7,52.9" fill="#cdcdcd"/>
<polygon points="450.6,112.0 450.7,111.9 450.7,111.8 451.6,110.5 451.7,110.3 451.7,110.2 451.8,110.1 451.8,109.9 451.8,109.8 451.8,109.6 451.8,109.5 451.8,109.4 451.8,109.2 451.7,109.1 451.7,108.9 451.6,108.8 451.5,108.7 451.4,108.6 451.3,108.5 451.2,108.4 451.0,108.3 450.9,108.3 450.8,108.2 450.6,108.2 450.5,108.2 406.6,103.6 406.5,103.6 343.3,103.3 343.1,103.3 343.0,103.3 342.8,103.4 342.7,103.4 342.6,103.5 342.5,103.5 342.3,103.6 342.2,103.7 342.1,103.8 342.0,103.9 342.0,104.1 341.9,104.2 341.8,104.3 341.8,104.5 341.8,104.6 341.8,104.8 341.8,104.9 341.8,105.0 341.8,105.2 341.9,105.3 341.9,105.5 342.0,105.6 342.1,105.7 342.2,105.8 342.3,105.9 404.6,162.4 404.7,162.5 404.8,162.6 404.9,162.6 405.1,162.7 405.2,162.7 405.4,162.8 405.5,162.8 405.7,162.8 405.8,162.8 406.0,162.7 406.1,162.7 406.2,162.6 406.4,162.5 406.5,162.5 406.6,162.4 406.7,162.3" fill="#cdcdcd"/>
<polygon points="456.3,57.0 456.2,56.9 456.1,56.8 456.0,56.7 455.9,56.6 455.7,56.5 455.6,56.5 455.5,56.4 455.4,56.4 455.2,56.3 455.1,56.3 454.9,56.3 454.8,56.3 454.6,56.4 453.9,56.5 453.7,56.6 453.6,56.6 453.5,56.7 453.4,56.8 453.2,56.8 453.1,56.9 453.0,57.1 453.0,57.2 452.9,57.3 452.8,57.4 452.8,57.6 452.7,57.7 452.7,57.9 452.7,58.0 452.8,64.3 452.8,64.5 452.8,64.6 452.9,64.8 452.9,64.9 453.0,65.0 453.1,65.2 453.2,65.3 453.3,65.4 453.4,65.5 453.5,65.6 453.6,65.7 453.8,65.7 453.9,65.8 454.0,65.8 454.2,65.8 454.3,65.8 454.5,65.8 454.6,65.8 454.8,65.7 454.9,65.7 455.0,65.6 455.2,65.5 458.4,63.2 458.5,63.1 458.6,63.0 458.7,62.9 458.8,62.7 458.9,62.6 458.9,62.5 459.0,62.3 459.0,62.2 459.0,62.0 459.0,61.9 459.0,61.7 459.0,61.6 458.9,61.5 458.9,61.3 458.8,61.2" fill="#cdcdcd"/>
<polygon points="482.9,109.2 482.9,109.3 482.9,109.5 482.9,109.6 482.9,109.8 483.0,109.9 483.0,110.1 483.1,110.2 483.1,110.3 483.2,110.5 483.3,110.6 483.5,110.7 483.6,110.8 483.7,110.8 483.8,110.9 553.8,139.3 553.9,139.3 554.1,139.4 554.2,139.4 554.4,139.4 554.6,139.4 554.7,139.4 554.9,139.3 555.0,139.3 555.1,139.2 555.3,139.1 555.4,139.0 604.3,94.3 604.4,94.2 604.5,94.1 604.6,94.0 604.6,93.9 604.7,93.7 604.7,93.6 604.8,93.4 604.8,93.3 604.8,93.1 604.8,93.0 604.7,92.8 604.7,92.7 604.6,92.6 604.5,92.4 604.5,92.3 604.4,92.2 604.2,92.1 604.1,92.0 604.0,91.9 603.9,91.9 603.7,91.8 603.6,91.8 603.4,91.7 603.3,91.7 603.1,91.7 485.4,102.8 485.3,102.8 485.1,102.8 485.0,102.9 484.9,102.9 484.7,103.0 484.6,103.1 484.5,103.2 484.4,103.3 484.3,103.4 484.3,103.5 484.2,103.7 484.1,103.8 484.1,103.9" fill="#cdcdcd"/>
<polygon points="457.7,117.2 457.6,117.4 457.6,117.5 457.6,117.7 447.9,206.5 447.9,206.7 447.9,206.8 448.0,206.9 448.0,207.1 448.0,207.2 448.1,207.3 448.2,207.5 448.2,207.6 448.3,207.7 460.8,221.4 460.9,221.5 461.1,221.6 461.2,221.6 461.3,221.7 461.5,221.8 461.6,221.8 461.7,221.8 461.9,221.9 462.0,221.8 462.2,221.8 462.3,221.8 462.5,221.8 462.6,221.7 462.7,221.6 462.9,221.5 463.0,221.4 463.1,221.3 463.2,221.2 463.3,221.1 463.3,221.0 463.4,220.8 463.4,220.7 463.4,220.5 463.4,220.4 465.9,116.9 465.9,116.8 465.9,116.6 465.8,116.5 465.8,116.3 465.7,116.2 465.7,116.1 465.6,115.9 465.5,115.8 465.4,115.7 465.2,115.6 465.1,115.6 465.0,115.5 464.8,115.4 464.7,115.4 464.5,115.4 464.4,115.4 464.2,115.4 459.1,116.0 458.9,116.0 458.8,116.1 458.6,116.1 458.5,116.2 458.3,116.3 458.2,116.4 458.1,116.5 458.0,116.6 457.9,116.7 457.9,116.9" fill="#cdcdcd"/>
<polygon points="463.6,95.6 463.5,95.8 463.5,95.9 463.4,96.0 463.4,96.2 463.4,96.3 463.4,96.5 463.4,96.6 463.4,96.7 463.5,96.9 463.5,97.0 463.6,97.1 463.7,97.3 463.7,97.4 463.8,97.5 464.0,97.6 464.1,97.7 464.2,97.7 464.3,97.8 464.5,97.8 464.6,97.9 464.8,97.9 467.9,98.1 468.1,98.1 468.2,98.1 468.3,98.1 468.5,98.1 468.6,98.0 468.8,97.9 468.9,97.9 472.3,95.4 472.5,95.4 472.6,95.3 472.7,95.1 472.7,95.0 472.8,94.9 472.9,94.8 472.9,94.6 473.0,94.5 473.0,94.4 473.0,94.2 473.0,94.1 473.0,93.9 472.9,93.8 472.9,93.6 472.8,93.5 472.7,93.4 472.6,93.3 472.6,93.2 472.4,93.1 472.3,93.0 472.2,92.9 472.1,92.8 471.9,92.8 471.8,92.7 471.7,92.7 471.5,92.7 466.7,92.6 466.5,92.6 466.4,92.6 466.2,92.7 466.1,92.7 466.0,92.8 465.8,92.8 465.7,92.9 465.6,93.0 464.7,93.9 464.6,94.0 464.5,94.1 464.4,94.2" fill="#cdcdcd"/>
<polygon points="452.9,112.2 452.9,112.2 452.8,112.2 452.8,112.3 452.8,112.3 452.8,112.3 452.8,112.3 452.8,112.3 452.8,112.4 452.8,112.4 452.8,112.4 452.9,112.4 452.9,112.4 452.9,112.5 452.9,112.5 455.9,115.2 455.9,115.2 455.9,115.2 456.0,115.2 456.0,115.2 456.0,115.2 456.0,115.2 456.0,115.2 456.1,115.2 456.1,115.2 456.1,115.2 456.1,115.2 456.1,115.2 456.2,115.2 456.2,115.2 456.2,115.2 456.2,115.2 456.2,115.2 456.2,115.1 456.2,115.1 456.2,115.1 456.2,115.1 456.2,115.1 456.2,115.0 456.2,115.0 456.2,115.0 456.2,115.0 456.2,115.0 456.2,114.9 456.2,114.9 453.9,111.1 453.9,111.1 453.9,111.1 453.8,111.1 453.8,111.1 453.8,111.1 453.8,111.1 453.8,111.1 453.8,111.1 453.7,111.1 453.7,111.0 453.7,111.0 453.7,111.1 453.7,111.1 453.7,111.1 453.6,111.1 453.6,111.1 453.6,111.1 453.6,111.1 453.6,111.1 453.6,111.1 453.5,111.1" fill="#cdcdcd"/>
<polygon points="470.2,113.2 470.1,113.2 470.0,113.1 469.8,113.1 469.7,113.0 469.5,113.0 469.4,113.0 469.2,113.0 469.1,113.1 468.9,113.1 468.8,113.2 468.7,113.2 468.5,113.3 468.4,113.4 468.3,113.5 468.2,113.6 468.2,113.8 468.1,113.9 468.0,114.0 468.0,114.2 468.0,114.3 468.0,114.5 465.3,225.7 465.3,225.9 465.3,226.0 465.4,226.2 465.4,226.3 465.5,226.5 465.6,226.6 465.6,226.7 466.3,227.5 466.3,227.6 466.5,227.7 466.6,227.8 466.7,227.9 466.8,227.9 467.0,228.0 467.1,228.0 467.2,228.0 467.4,228.0 467.5,228.0 467.7,228.0 467.8,228.0 467.9,228.0 468.1,227.9 468.2,227.8 468.3,227.7 468.4,227.7 468.5,227.6 494.0,199.4 494.1,199.3 494.2,199.2 494.3,199.0 494.3,198.9 494.4,198.7 494.4,198.6 494.4,198.4 494.4,198.3 494.4,198.1 480.9,127.9 480.9,127.8 480.8,127.6 476.4,117.2 476.3,117.1 476.2,116.9 476.1,116.8 476.0,116.7 475.9,116.6 475.8,116.5" fill="#cdcdcd"/>
<polygon points="484.6,61.3 484.4,61.3 484.3,61.3 484.1,61.4 484.0,61.4 483.9,61.5 476.1,65.3 476.0,65.3 475.9,65.4 475.8,65.5 475.7,65.6 475.6,65.7 475.5,65.9 475.4,66.0 475.4,66.1 475.3,66.3 474.5,69.9 474.5,70.0 474.5,70.2 474.5,70.3 474.5,70.5 474.5,70.6 474.6,70.8 474.6,70.9 474.7,71.0 474.8,71.1 474.9,71.3 475.0,71.4 475.1,71.5 475.2,71.5 475.4,71.6 475.5,71.6 475.7,71.7 503.2,77.8 503.3,77.8 503.5,77.8 503.6,77.8 563.1,73.3 563.2,73.3 563.4,73.3 563.5,73.2 563.6,73.1 563.8,73.1 563.9,73.0 564.0,72.9 564.1,72.8 564.2,72.7 564.3,72.6 564.3,72.4 564.4,72.3 564.4,72.2 564.4,72.0 564.5,71.9 564.5,71.7 564.4,71.6 564.4,71.4 564.4,71.3 564.3,71.2 564.2,71.0 564.2,70.9 564.1,70.8 564.0,70.7 563.9,70.6 563.7,70.5 563.6,70.5 563.5,70.4 563.3,70.4 563.2,70.3 509.5,61.8 509.3,61.8" fill="#cdcdcd"/>
<polygon points="464.4,50.7 464.3,50.5 464.2,50.4 464.2,50.3 464.1,50.1 464.0,50.0 463.9,49.9 463.8,49.8 463.6,49.8 463.5,49.7 463.4,49.6 463.2,49.6 463.1,49.6 462.9,49.6 462.8,49.6 462.7,49.6 462.5,49.6 462.4,49.7 462.2,49.7 462.1,49.8 462.0,49.9 461.9,50.0 461.8,50.1 458.1,54.3 458.0,54.4 458.0,54.5 457.9,54.6 457.8,54.8 457.8,54.9 457.8,55.0 457.8,55.2 457.8,55.3 457.8,55.5 457.8,55.6 457.9,55.8 457.9,55.9 458.0,56.0 460.2,59.7 460.3,59.8 460.4,60.0 460.5,60.1 460.6,60.2 460.7,60.2 460.9,60.3 461.0,60.4 461.1,60.4 461.3,60.4 461.4,60.4 461.6,60.4 461.7,60.4 461.9,60.4 462.0,60.4 462.1,60.3 462.3,60.2 462.4,60.2 465.4,58.0 465.5,57.9 465.6,57.8 465.7,57.7 465.8,57.6 465.9,57.5 465.9,57.3 466.0,57.2 466.0,57.1 466.0,56.9 466.0,56.8 466.0,56.6 466.0,56.5 466.0,56.4" fill="#cdcdcd"/>
<polygon points="462.4,17.4 462.4,17.3 462.4,17.1 462.4,17.0 462.3,16.8 462.2,16.7 462.2,16.6 462.1,16.5 462.0,16.3 461.8,16.3 461.7,16.2 461.6,16.1 461.5,16.0 461.3,16.0 461.2,16.0 461.0,15.9 460.9,15.9 460.7,16.0 460.6,16.0 460.4,16.0 460.3,16.1 460.2,16.2 460.0,16.2 459.9,16.3 459.8,16.4 459.7,16.5 459.7,16.7 459.6,16.8 459.5,16.9 459.5,17.1 450.4,53.0 450.4,53.1 450.4,53.3 450.4,53.4 450.4,53.6 450.4,53.7 450.5,53.8 450.5,54.0 450.6,54.1 450.7,54.2 450.8,54.3 450.9,54.4 451.0,54.5 451.1,54.6 451.3,54.7 451.3,54.7 451.5,54.8 451.6,54.8 451.7,54.9 451.9,54.9 452.0,54.9 452.2,54.9 452.3,54.8 455.2,54.2 455.3,54.1 455.5,54.1 455.6,54.0 455.7,53.9 455.8,53.8 456.0,53.7 462.8,45.9 462.9,45.8 463.0,45.6 463.0,45.5 463.1,45.4 463.1,45.2 463.2,45.1 463.2,45.0 463.2,44.8" fill="#cdcdcd"/>
<polygon points="454.7,93.2 454.8,93.3 454.9,93.4 454.9,93.6 455.0,93.7 455.2,93.7 455.3,93.8 455.4,93.9 455.5,94.0 459.9,95.5 460.0,95.6 460.2,95.6 460.3,95.6 460.5,95.6 460.6,95.6 460.8,95.6 460.9,95.6 461.0,95.5 461.2,95.4 461.3,95.3 461.4,95.2 461.5,95.1 461.6,95.0 461.7,94.9 462.1,94.3 462.1,94.1 462.2,94.0 462.2,93.9 462.2,93.7 462.3,93.6 462.3,93.4 462.2,93.3 462.2,93.2 462.2,93.0 462.1,92.9 462.1,92.8 462.0,92.6 457.9,86.8 457.8,86.7 457.7,86.6 457.6,86.5 457.4,86.4 457.3,86.4 457.2,86.3 457.0,86.3 456.9,86.2 456.7,86.2 454.8,86.1 454.7,86.1 454.5,86.1 454.4,86.1 454.2,86.2 454.1,86.2 454.0,86.3 453.9,86.4 453.7,86.5 453.6,86.6 453.0,87.3 452.9,87.4 452.8,87.5 452.7,87.6 452.7,87.8 452.6,87.9 452.6,88.1 452.6,88.2 452.6,88.4 452.6,88.5 452.6,88.6 452.7,88.8 452.7,88.9" fill="#cdcdcd"/>
<polygon points="446.8,98.7 447.0,98.7 447.1,98.7 447.3,98.6 447.4,98.5 447.5,98.5 447.7,98.4 452.0,94.9 452.1,94.8 452.2,94.7 452.3,94.6 452.4,94.5 452.5,94.3 452.5,94.2 452.6,94.1 452.6,93.9 452.6,93.8 452.6,93.6 452.6,93.5 452.6,93.4 452.5,93.2 452.5,93.1 450.8,89.6 450.7,89.4 450.7,89.3 450.6,89.2 450.5,89.1 450.3,89.0 450.2,88.9 450.1,88.9 450.0,88.8 449.8,88.8 449.7,88.7 449.5,88.7 317.1,80.2 317.0,80.2 316.8,80.2 316.7,80.2 316.5,80.3 316.4,80.3 316.2,80.4 315.0,81.2 314.9,81.3 314.8,81.4 314.7,81.5 314.6,81.6 314.5,81.7 314.4,81.9 314.4,82.0 314.3,82.2 314.3,82.3 314.3,82.5 314.3,82.6 314.3,82.8 314.4,82.9 314.4,83.0 314.5,83.2 314.6,83.3 314.7,83.4 314.8,83.5 314.9,83.6 336.7,101.0 336.8,101.0 336.9,101.1 337.1,101.2 337.2,101.2 337.3,101.3 337.5,101.3 337.6,101.3 406.5,101.6 406.6,101.6" fill="#cdcdcd"/>
<polygon points="455.5,67.8 455.5,67.8 455.4,67.9 455.4,67.9 455.3,68.0 455.3,68.0 455.2,68.1 455.2,68.2 455.2,68.3 455.2,68.3 455.2,68.4 455.2,68.5 455.2,68.5 455.2,68.6 455.3,68.7 455.3,68.8 455.4,68.8 455.4,68.9 455.5,68.9 455.5,69.0 455.6,69.0 455.6,69.0 455.7,69.1 455.8,69.1 455.9,69.1 455.9,69.1 456.0,69.1 463.1,68.6 463.1,68.6 463.2,68.5 463.3,68.5 463.3,68.5 463.4,68.4 463.5,68.4 463.5,68.4 463.6,68.3 463.6,68.3 463.7,68.2 463.7,68.1 463.7,68.1 463.7,68.0 463.7,67.9 463.8,67.8 463.8,67.8 463.7,67.7 463.7,67.6 463.7,67.6 463.7,67.5 463.6,67.4 463.6,67.4 463.6,67.3 461.1,64.5 461.0,64.5 461.0,64.4 460.9,64.4 460.8,64.4 460.8,64.3 460.7,64.3 460.6,64.3 460.5,64.3 460.5,64.3 460.4,64.3 460.3,64.3 460.3,64.3 460.2,64.4 460.1,64.4 460.1,64.4" fill="#cdcdcd"/>
<polygon points="471.6,76.4 471.5,76.5 471.4,76.6 471.4,76.8 471.4,76.9 471.4,77.1 471.4,77.2 471.4,77.4 471.5,77.5 471.6,77.7 471.6,77.8 477.3,86.8 477.4,86.9 477.5,87.0 477.6,87.1 477.7,87.2 477.8,87.3 478.0,87.4 478.1,87.4 478.3,87.4 478.4,87.5 478.5,87.5 478.7,87.5 478.8,87.5 479.0,87.4 479.1,87.4 495.4,80.9 495.5,80.9 495.6,80.8 495.8,80.7 495.9,80.6 496.0,80.5 496.1,80.4 496.1,80.2 496.2,80.1 496.3,80.0 496.3,79.8 496.3,79.7 496.3,79.5 496.3,79.4 496.3,79.3 496.3,79.1 496.2,79.0 496.2,78.8 496.1,78.7 496.0,78.6 495.9,78.5 495.8,78.4 495.7,78.3 495.6,78.2 495.4,78.1 495.3,78.1 495.2,78.1 474.3,73.4 474.1,73.4 474.0,73.4 473.9,73.4 473.7,73.4 473.6,73.4 473.4,73.5 473.3,73.5 473.2,73.6 473.1,73.7 472.9,73.8 472.8,73.9 472.8,74.0 472.7,74.1 472.6,74.2" fill="#cdcdcd"/>
<polygon points="457.1,76.7 456.9,76.7 456.8,76.7 456.7,76.7 456.5,76.8 456.4,76.8 456.2,76.9 456.1,77.0 456.0,77.0 455.9,77.1 455.8,77.2 455.7,77.4 455.6,77.5 455.5,77.6 455.5,77.8 455.4,77.9 455.4,78.1 455.0,82.5 455.0,82.7 455.0,82.8 455.0,83.0 455.0,83.1 455.1,83.3 455.1,83.4 455.2,83.5 455.3,83.7 455.4,83.8 455.5,83.9 455.7,84.0 455.8,84.0 455.9,84.1 456.1,84.1 456.2,84.2 456.4,84.2 457.6,84.3 457.8,84.3 458.0,84.3 458.1,84.2 464.2,82.5 464.3,82.5 464.5,82.4 464.6,82.4 464.7,82.3 464.8,82.2 464.9,82.1 465.0,82.0 466.4,80.1 466.5,80.0 466.6,79.9 466.6,79.7 466.7,79.6 466.7,79.4 466.7,79.3 466.7,79.1 466.7,79.0 466.7,78.8 466.6,78.7 466.6,78.6 466.5,78.4 466.4,78.3 466.3,78.2 466.2,78.1 466.1,78.0 466.0,77.9 465.8,77.8 465.7,77.8 465.6,77.8 465.4,77.7" fill="#cdcdcd"/>
<polygon points="463.9,-0.8 463.9,-0.7 465.2,44.0 465.2,44.2 465.2,44.3 465.2,44.5 465.3,44.6 465.3,44.7 465.4,44.9 465.5,45.0 465.6,45.1 465.7,45.2 465.8,45.3 475.0,51.4 475.2,51.5 475.3,51.6 475.4,51.6 475.6,51.6 475.7,51.7 475.8,51.7 476.0,51.7 476.1,51.7 476.3,51.6 476.4,51.6 476.5,51.5 476.6,51.5 478.5,50.3 478.7,50.2 478.8,50.1 478.9,50.0 479.0,49.9 479.1,49.7 479.7,48.7 479.7,48.5 479.8,48.4 479.8,48.2 479.8,48.1 479.8,47.9 479.8,47.8 479.8,47.6 467.1,-6.5 467.0,-6.6 467.0,-6.8 466.9,-6.9 466.8,-7.0 466.7,-7.1 466.6,-7.3 466.5,-7.3 466.4,-7.4 466.2,-7.5 466.1,-7.6 466.0,-7.6 465.8,-7.6 465.7,-7.6 465.5,-7.6 465.4,-7.6 465.2,-7.6 465.1,-7.6 464.9,-7.5 464.8,-7.4 464.7,-7.3 464.6,-7.2 464.5,-7.1 464.4,-7.0 464.3,-6.9 464.2,-6.8 464.2,-6.6 464.1,-6.5 464.1,-6.3 464.1,-6.2" fill="#cdcdcd"/>
<polygon points="464.6,-25.7 464.6,-25.5 464.6,-25.4 481.7,46.9 481.7,47.0 481.8,47.1 481.9,47.3 481.9,47.4 482.0,47.5 482.1,47.6 482.3,47.7 482.4,47.8 482.5,47.9 509.6,59.8 509.7,59.8 509.8,59.9 510.0,59.9 584.5,71.7 584.7,71.7 600.6,72.1 600.8,72.1 600.9,72.1 601.1,72.1 601.2,72.0 601.3,72.0 601.5,71.9 601.6,71.8 601.7,71.7 601.8,71.6 601.9,71.5 602.0,71.3 602.0,71.2 602.1,71.1 602.1,70.9 602.1,70.8 602.2,70.6 602.1,70.5 602.1,70.3 602.1,70.2 602.0,70.0 602.0,69.9 601.9,69.8 601.8,69.7 601.7,69.5 468.7,-62.5 468.6,-62.6 468.5,-62.7 468.3,-62.7 468.2,-62.8 468.1,-62.8 467.9,-62.9 467.8,-62.9 467.6,-62.9 467.5,-62.9 467.4,-62.9 467.2,-62.8 467.1,-62.8 466.9,-62.7 466.8,-62.7 466.7,-62.6 466.6,-62.5 466.5,-62.4 466.4,-62.3 463.4,-58.1 463.4,-58.0 463.3,-57.9 463.2,-57.7 463.2,-57.6 463.2,-57.5 463.2,-57.3 463.2,-57.2" fill="#cdcdcd"/>
<polygon points="473.8,106.0 473.7,106.1 473.6,106.2 473.5,106.3 473.4,106.4 473.3,106.5 472.8,107.4 472.7,107.6 472.7,107.7 472.6,107.8 472.6,108.0 472.6,108.1 472.6,108.3 472.6,108.4 472.6,108.6 472.7,108.7 472.7,108.8 472.8,109.0 472.9,109.1 473.0,109.2 473.1,109.3 473.2,109.4 473.3,109.5 473.4,109.5 473.6,109.6 473.7,109.6 473.8,109.7 474.0,109.7 479.4,110.1 479.5,110.1 479.7,110.0 479.8,110.0 480.0,110.0 480.1,109.9 480.3,109.8 480.4,109.8 480.5,109.7 480.6,109.6 480.7,109.4 480.8,109.3 480.9,109.2 480.9,109.0 481.0,108.9 482.1,103.6 482.2,103.4 482.2,103.3 482.2,103.1 482.1,103.0 482.1,102.9 482.1,102.7 482.0,102.6 481.9,102.5 481.8,102.3 481.7,102.2 481.6,102.1 481.5,102.0 481.4,101.9 481.3,101.9 481.1,101.8 481.0,101.8 480.8,101.8 480.7,101.8 480.5,101.8 480.4,101.8 480.2,101.8 480.1,101.9 480.0,101.9 479.8,102.0" fill="#cdcdcd"/>
<polygon points="448.2,105.9 448.3,105.9 448.5,105.9 448.6,105.9 448.8,105.9 448.9,105.8 449.0,105.7 449.2,105.7 449.3,105.6 449.4,105.5 449.5,105.4 449.6,105.3 449.7,105.1 449.7,105.0 449.8,104.9 449.8,104.7 449.8,104.6 449.8,104.4 449.8,104.3 449.8,104.1 449.8,104.0 449.7,103.9 449.7,103.7 449.6,103.6 449.5,103.5 447.7,101.3 447.6,101.2 447.5,101.1 447.4,101.0 447.3,100.9 447.2,100.9 447.0,100.8 446.9,100.8 446.7,100.7 446.6,100.7 446.5,100.7 435.1,101.6 434.9,101.6 434.8,101.6 434.6,101.6 434.5,101.7 434.4,101.8 434.2,101.9 434.1,102.0 434.0,102.1 433.9,102.2 433.9,102.3 433.8,102.4 433.7,102.6 433.7,102.7 433.7,102.9 433.7,103.0 433.7,103.2 433.7,103.3 433.7,103.5 433.8,103.6 433.8,103.7 433.9,103.9 434.0,104.0 434.1,104.1 434.2,104.2 434.3,104.3 434.4,104.4 434.6,104.4 434.7,104.5 434.9,104.5 435.0,104.5" fill="#cdcdcd"/>
<polygon points="463.3,91.0 463.3,91.0 463.4,91.1 463.4,91.1 463.5,91.2 463.5,91.2 463.6,91.3 463.7,91.3 463.8,91.3 463.8,91.3 463.9,91.3 464.0,91.3 464.0,91.3 464.1,91.3 464.2,91.2 464.3,91.2 464.3,91.2 464.4,91.1 464.4,91.1 464.5,91.0 464.5,90.9 464.5,90.9 464.6,90.8 464.6,90.7 464.6,90.7 464.6,90.6 464.6,90.5 464.4,85.5 464.4,85.4 464.4,85.4 464.3,85.3 464.3,85.2 464.3,85.2 464.2,85.1 464.2,85.0 464.1,85.0 464.1,84.9 464.0,84.9 463.9,84.9 463.9,84.8 463.8,84.8 463.7,84.8 463.7,84.8 463.6,84.8 463.5,84.8 463.4,84.8 460.7,85.6 460.6,85.6 460.5,85.6 460.5,85.7 460.4,85.7 460.4,85.8 460.3,85.8 460.3,85.9 460.2,85.9 460.2,86.0 460.2,86.1 460.1,86.1 460.1,86.2 460.1,86.3 460.1,86.3 460.1,86.4 460.1,86.5 460.2,86.6 460.2,86.6 460.2,86.7 460.3,86.7" fill="#cdcdcd"/>
<polygon points="461.9,-0.7 461.9,-0.9 461.9,-1.1 462.6,-25.3 462.6,-25.4 461.4,-52.4 461.4,-52.6 461.3,-52.7 461.3,-52.9 461.2,-53.0 461.2,-53.1 461.1,-53.3 461.0,-53.4 460.9,-53.5 460.8,-53.6 460.6,-53.7 460.5,-53.7 460.4,-53.8 460.2,-53.8 460.1,-53.8 459.9,-53.9 459.8,-53.9 459.6,-53.8 459.5,-53.8 459.3,-53.8 459.2,-53.7 459.1,-53.6 458.9,-53.5 458.8,-53.4 349.4,52.4 349.3,52.5 349.2,52.6 349.1,52.8 349.1,52.9 349.0,53.0 349.0,53.2 349.0,53.3 349.0,53.5 349.0,53.6 349.0,53.8 349.0,53.9 349.1,54.0 349.1,54.2 349.2,54.3 349.3,54.4 349.4,54.5 349.5,54.6 349.6,54.7 349.8,54.8 349.9,54.9 350.0,54.9 350.2,55.0 350.3,55.0 350.5,55.0 447.0,53.7 447.2,53.7 447.3,53.7 447.5,53.7 447.6,53.6 447.8,53.6 447.9,53.5 448.0,53.4 448.1,53.3 448.2,53.2 448.3,53.0 448.4,52.9 448.4,52.8 448.5,52.6" fill="#cdcdcd"/>
<polygon points="452.7,115.0 452.6,114.9 452.4,114.8 452.3,114.7 452.2,114.7 452.0,114.6 451.9,114.6 451.7,114.6 451.6,114.6 451.4,114.6 451.3,114.6 451.2,114.7 451.0,114.7 450.9,114.8 450.8,114.9 450.7,115.0 450.6,115.1 408.1,163.8 408.0,163.9 407.9,164.0 407.8,164.1 407.8,164.3 407.7,164.4 407.7,164.6 407.7,164.7 407.7,164.9 407.7,165.0 407.7,165.2 407.8,165.3 407.8,165.4 407.9,165.6 408.0,165.7 408.1,165.8 443.8,203.0 443.9,203.1 444.1,203.2 444.2,203.3 444.3,203.3 444.5,203.4 444.6,203.4 444.7,203.4 444.9,203.4 445.0,203.4 445.2,203.4 445.3,203.4 445.5,203.3 445.6,203.3 445.7,203.2 445.9,203.1 446.0,203.0 446.1,202.9 446.2,202.8 446.2,202.7 446.3,202.5 446.3,202.4 446.4,202.3 446.4,202.1 455.5,118.3 455.5,118.2 455.5,118.1 455.5,117.9 455.5,117.8 455.4,117.6 455.4,117.5 455.3,117.4 455.2,117.3 455.1,117.2 455.0,117.1" fill="#cdcdcd"/>
<polygon points="453.8,105.0 453.8,105.1 453.8,105.3 453.8,105.4 453.8,105.5 453.9,105.7 453.9,105.8 454.0,106.0 454.1,106.1 454.2,106.2 454.3,106.3 454.4,106.4 454.5,106.5 454.7,106.5 454.8,106.6 454.9,106.6 455.1,106.7 455.2,106.7 455.4,106.7 455.5,106.7 455.7,106.6 459.4,105.6 459.5,105.6 459.7,105.5 459.8,105.4 459.9,105.3 460.0,105.2 460.1,105.1 460.2,105.0 460.3,104.9 460.4,104.8 460.4,104.6 460.4,104.5 460.5,104.3 461.0,99.3 461.0,99.2 461.0,99.0 461.0,98.9 461.0,98.8 460.9,98.6 460.9,98.5 460.8,98.4 460.7,98.3 460.6,98.1 460.5,98.0 460.4,98.0 460.3,97.9 460.2,97.8 460.1,97.7 456.9,96.6 456.8,96.5 456.6,96.5 456.5,96.5 456.3,96.5 456.2,96.5 456.0,96.5 455.9,96.6 455.8,96.6 455.6,96.7 455.5,96.8 455.4,96.9 455.3,97.0 455.2,97.1 455.1,97.2 455.0,97.3 455.0,97.5 454.9,97.6 454.9,97.8" fill="#cdcdcd"/>
<polygon points="482.9,127.2 482.9,127.4 482.9,127.5 495.7,194.4 495.7,194.5 495.8,194.7 495.9,194.8 495.9,194.9 496.0,195.0 496.1,195.1 496.2,195.2 496.3,195.3 496.5,195.4 496.6,195.5 496.7,195.5 496.9,195.6 497.0,195.6 497.2,195.6 497.3,195.6 497.5,195.6 497.6,195.5 497.7,195.5 497.9,195.4 498.0,195.4 498.1,195.3 498.2,195.2 551.5,142.8 551.6,142.7 551.7,142.5 551.7,142.4 551.8,142.3 551.9,142.1 551.9,142.0 551.9,141.8 551.9,141.7 551.9,141.5 551.9,141.4 551.9,141.3 551.8,141.1 551.7,141.0 551.7,140.9 551.6,140.7 551.5,140.6 551.4,140.5 551.2,140.4 551.1,140.4 551.0,140.3 484.9,113.5 484.7,113.4 484.6,113.4 484.4,113.4 484.3,113.4 484.1,113.4 484.0,113.4 483.8,113.4 483.7,113.5 483.6,113.5 483.5,113.6 483.3,113.7 483.2,113.8 483.1,113.9 483.0,114.0 483.0,114.2 482.9,114.3 482.9,114.4 482.8,114.6 482.8,114.7 482.8,114.9" fill="#cdcdcd"/>
<polygon points="455.7,71.1 455.6,71.2 455.4,71.2 455.3,71.2 455.2,71.3 455.0,71.4 454.9,71.5 454.8,71.6 454.7,71.7 454.6,71.8 454.5,71.9 454.5,72.0 454.4,72.2 454.4,72.3 454.4,72.5 454.3,72.6 454.4,72.8 454.4,72.9 454.4,73.1 454.5,73.2 454.5,73.3 454.6,73.5 454.9,73.9 455.0,74.0 455.1,74.1 455.2,74.2 455.3,74.3 455.4,74.4 455.5,74.5 455.7,74.5 455.8,74.5 456.0,74.6 468.3,76.1 468.5,76.1 468.6,76.1 468.8,76.1 468.9,76.0 469.0,76.0 469.2,75.9 469.3,75.9 469.4,75.8 469.5,75.7 469.6,75.6 469.7,75.5 469.8,75.4 469.9,75.2 470.3,74.3 470.4,74.2 470.4,74.0 470.5,73.9 470.5,73.7 470.5,73.6 470.5,73.4 470.5,73.3 470.4,73.2 470.4,73.0 470.3,72.9 470.2,72.8 470.1,72.7 470.0,72.5 469.9,72.5 469.8,72.4 466.9,70.6 466.7,70.5 466.6,70.4 466.4,70.4 466.3,70.4 466.1,70.3 466.0,70.3" fill="#cdcdcd"/>
<polygon points="468.6,100.8 468.5,100.7 468.4,100.5 468.2,100.4 468.1,100.3 468.0,100.3 467.9,100.2 467.7,100.2 467.6,100.1 467.4,100.1 464.4,99.9 464.3,99.9 464.2,99.9 464.0,99.9 463.9,99.9 463.7,100.0 463.6,100.0 463.5,100.1 463.4,100.2 463.3,100.3 463.2,100.4 463.1,100.5 463.0,100.6 462.9,100.8 462.9,100.9 462.9,101.0 462.8,101.2 462.4,105.0 462.4,105.1 462.4,105.3 462.4,105.4 462.5,105.6 462.5,105.7 462.6,105.9 462.7,106.0 462.8,106.1 462.9,106.2 466.8,110.0 467.0,110.0 467.1,110.1 467.2,110.2 467.4,110.3 467.5,110.3 467.6,110.3 467.8,110.4 468.0,110.4 468.1,110.3 468.2,110.3 468.4,110.3 468.5,110.2 468.7,110.1 468.8,110.0 468.9,109.9 469.0,109.8 469.1,109.7 469.2,109.6 469.3,109.5 471.1,106.3 471.2,106.2 471.3,106.0 471.3,105.9 471.3,105.7 471.3,105.6 471.3,105.4 471.3,105.3 471.3,105.1 471.2,105.0 471.2,104.9 471.1,104.7" fill="#cdcdcd"/>
<polygon points="451.0,102.1 451.0,102.1 451.1,102.2 451.1,102.2 451.2,102.3 451.3,102.3 451.3,102.3 451.4,102.3 451.5,102.4 451.5,102.4 451.6,102.4 451.7,102.3 451.8,102.3 451.8,102.3 451.9,102.3 452.0,102.2 452.0,102.2 452.1,102.1 452.1,102.1 452.2,102.0 452.2,101.9 452.2,101.9 452.3,101.8 452.3,101.7 452.8,98.5 452.8,98.5 452.8,98.4 452.8,98.3 452.8,98.2 452.7,98.2 452.7,98.1 452.7,98.0 452.6,98.0 452.6,97.9 452.5,97.9 452.5,97.8 452.4,97.8 452.3,97.7 452.3,97.7 452.2,97.7 452.1,97.7 452.1,97.7 452.0,97.7 451.9,97.7 451.8,97.7 451.8,97.7 451.7,97.7 451.6,97.8 451.6,97.8 449.7,99.3 449.6,99.4 449.6,99.4 449.5,99.5 449.5,99.6 449.5,99.6 449.4,99.7 449.4,99.8 449.4,99.8 449.4,99.9 449.4,100.0 449.4,100.1 449.4,100.1 449.5,100.2 449.5,100.3 449.5,100.3 449.6,100.4" fill="#cdcdcd"/>
<ellipse cx="467.4" cy="57.8" rx="1.5" ry="0.8" fill="#4b2378"/>
<ellipse cx="476.8" cy="93.5" rx="1.4" ry="1.3" fill="#4b2378"/>
<ellipse cx="462.1" cy="98.7" rx="0.9" ry="1.2" fill="#4b2378"/>
<ellipse cx="475.7" cy="53.8" rx="1.2" ry="0.9" fill="#4b2378"/>
<ellipse cx="465.3" cy="83.3" rx="1.4" ry="0.9" fill="#4b2378"/>
<ellipse cx="460.7" cy="62.7" rx="1.7" ry="1.1" fill="#4b2378"/>
<ellipse cx="472.6" cy="61.2" rx="1.5" ry="1.0" fill="#4b2378"/>
<ellipse cx="472.2" cy="72.7" rx="1.1" ry="1.3" fill="#4b2378"/>
<ellipse cx="463.7" cy="93.4" rx="1.4" ry="0.9" fill="#4b2378"/>
<ellipse cx="468.7" cy="99.2" rx="1.6" ry="1.0" fill="#4b2378"/>
<ellipse cx="460.8" cy="62.5" rx="1.0" ry="1.0" fill="#4b2378"/>
<ellipse cx="465.7" cy="91.6" rx="0.9" ry="1.0" fill="#4b2378"/>
<ellipse cx="469.8" cy="77.3" rx="1.0" ry="1.3" fill="#4b2378"/>
<ellipse cx="470.0" cy="77.2" rx="1.4" ry="0.9" fill="#4b2378"/>
<ellipse cx="474.6" cy="64.9" rx="1.3" ry="1.3" fill="#4b2378"/>
<ellipse cx="475.8" cy="53.1" rx="1.5" ry="1.0" fill="#4b2378"/>
</g>
<path d="M475.3 52.9 Q479.3 82.9 477.3 111.6 L486.3 111.6 Q482.3 82.9 484.3 52.9 Z" fill="#d2ccd2"/>
<path d="M483.3 52.9 Q481.3 82.9 486.3 111.6 L512.5 111.6 L512.5 52.9 Z" fill="#d6a6d2"/>
<clipPath id="c3b"><path d="M483.3 52.9 Q481.3 82.9 486.3 111.6 L512.5 111.6 L512.5 52.9 Z"/></clipPath>
<g clip-path="url(#c3b)">
<path d="M486.3 54.9 Q493.3 74.9 499.3 100.9" stroke="#c462b4" stroke-width="9" fill="none" stroke-opacity="0.55"/>
<path d="M491.3 58.9 Q497.3 78.9 505.3 96.9" stroke="#b04a9c" stroke-width="5" fill="none" stroke-opacity="0.5"/>
<ellipse cx="490.0" cy="76.9" rx="2.2" ry="0.5" transform="rotate(71 490.0 76.9)" fill="#6a2a80"/>
<ellipse cx="504.0" cy="90.2" rx="2.0" ry="0.4" transform="rotate(52 504.0 90.2)" fill="#6a2a80"/>
<ellipse cx="503.9" cy="92.4" rx="1.9" ry="0.5" transform="rotate(67 503.9 92.4)" fill="#3c1c5c"/>
<ellipse cx="503.3" cy="84.5" rx="2.0" ry="0.4" transform="rotate(68 503.3 84.5)" fill="#c050a8"/>
<ellipse cx="507.1" cy="99.2" rx="2.8" ry="0.5" transform="rotate(57 507.1 99.2)" fill="#3c1c5c"/>
<ellipse cx="503.2" cy="80.6" rx="1.5" ry="0.8" transform="rotate(62 503.2 80.6)" fill="#f2e4f2"/>
<ellipse cx="497.8" cy="69.8" rx="2.9" ry="0.8" transform="rotate(51 497.8 69.8)" fill="#3c1c5c"/>
<ellipse cx="496.8" cy="85.1" rx="1.5" ry="0.6" transform="rotate(61 496.8 85.1)" fill="#6a2a80"/>
<ellipse cx="489.9" cy="74.6" rx="2.1" ry="0.7" transform="rotate(73 489.9 74.6)" fill="#f2e4f2"/>
<ellipse cx="499.8" cy="75.7" rx="3.4" ry="0.4" transform="rotate(72 499.8 75.7)" fill="#3c1c5c"/>
<ellipse cx="497.9" cy="81.5" rx="2.8" ry="0.6" transform="rotate(51 497.9 81.5)" fill="#4e2470"/>
<ellipse cx="490.5" cy="66.9" rx="1.8" ry="0.5" transform="rotate(70 490.5 66.9)" fill="#4e2470"/>
<ellipse cx="494.9" cy="99.7" rx="3.3" ry="0.5" transform="rotate(71 494.9 99.7)" fill="#3c1c5c"/>
<ellipse cx="499.2" cy="81.9" rx="3.3" ry="0.4" transform="rotate(72 499.2 81.9)" fill="#3c1c5c"/>
<ellipse cx="490.7" cy="70.9" rx="2.7" ry="0.6" transform="rotate(69 490.7 70.9)" fill="#4e2470"/>
<ellipse cx="491.2" cy="76.7" rx="1.8" ry="0.6" transform="rotate(72 491.2 76.7)" fill="#8a1f6c"/>
<ellipse cx="500.0" cy="79.2" rx="2.5" ry="0.8" transform="rotate(50 500.0 79.2)" fill="#3c1c5c"/>
<ellipse cx="495.3" cy="77.4" rx="3.6" ry="0.6" transform="rotate(60 495.3 77.4)" fill="#4e2470"/>
<ellipse cx="500.3" cy="73.8" rx="2.1" ry="0.5" transform="rotate(61 500.3 73.8)" fill="#6a2a80"/>
<ellipse cx="506.5" cy="99.1" rx="3.5" ry="0.7" transform="rotate(51 506.5 99.1)" fill="#6a2a80"/>
<ellipse cx="494.3" cy="88.8" rx="2.4" ry="0.7" transform="rotate(67 494.3 88.8)" fill="#4e2470"/>
<ellipse cx="496.1" cy="82.3" rx="1.7" ry="0.6" transform="rotate(63 496.1 82.3)" fill="#4e2470"/>
<ellipse cx="492.9" cy="77.4" rx="2.5" ry="0.8" transform="rotate(61 492.9 77.4)" fill="#4e2470"/>
<ellipse cx="506.3" cy="97.8" rx="3.7" ry="0.4" transform="rotate(66 506.3 97.8)" fill="#b03890"/>
<ellipse cx="505.3" cy="86.3" rx="3.1" ry="0.7" transform="rotate(51 505.3 86.3)" fill="#4e2470"/>
<ellipse cx="494.3" cy="81.8" rx="2.6" ry="0.8" transform="rotate(57 494.3 81.8)" fill="#b03890"/>
<ellipse cx="492.2" cy="66.2" rx="1.7" ry="0.8" transform="rotate(73 492.2 66.2)" fill="#b03890"/>
<ellipse cx="492.5" cy="84.9" rx="3.8" ry="0.6" transform="rotate(63 492.5 84.9)" fill="#b03890"/>
<ellipse cx="504.8" cy="84.3" rx="2.2" ry="0.7" transform="rotate(69 504.8 84.3)" fill="#b03890"/>
<ellipse cx="504.0" cy="85.7" rx="2.9" ry="0.7" transform="rotate(55 504.0 85.7)" fill="#3c1c5c"/>
<ellipse cx="499.7" cy="98.1" rx="2.3" ry="0.6" transform="rotate(70 499.7 98.1)" fill="#4e2470"/>
<ellipse cx="491.1" cy="68.6" rx="2.8" ry="0.6" transform="rotate(65 491.1 68.6)" fill="#4e2470"/>
<ellipse cx="500.8" cy="66.0" rx="3.9" ry="0.5" transform="rotate(58 500.8 66.0)" fill="#b03890"/>
<ellipse cx="499.4" cy="102.4" rx="2.2" ry="0.7" transform="rotate(54 499.4 102.4)" fill="#4e2470"/>
<ellipse cx="497.9" cy="74.2" rx="3.1" ry="0.6" transform="rotate(71 497.9 74.2)" fill="#b03890"/>
<ellipse cx="497.4" cy="63.7" rx="2.1" ry="0.8" transform="rotate(68 497.4 63.7)" fill="#8a1f6c"/>
<ellipse cx="498.2" cy="88.3" rx="1.9" ry="0.5" transform="rotate(65 498.2 88.3)" fill="#b03890"/>
<ellipse cx="502.8" cy="81.7" rx="3.3" ry="0.7" transform="rotate(69 502.8 81.7)" fill="#c050a8"/>
<ellipse cx="495.6" cy="86.6" rx="3.1" ry="0.7" transform="rotate(60 495.6 86.6)" fill="#4e2470"/>
<ellipse cx="493.0" cy="92.6" rx="3.0" ry="0.6" transform="rotate(74 493.0 92.6)" fill="#6a2a80"/>
<ellipse cx="496.0" cy="96.3" rx="2.2" ry="0.6" transform="rotate(53 496.0 96.3)" fill="#f2e4f2"/>
<ellipse cx="496.7" cy="79.0" rx="3.3" ry="0.5" transform="rotate(60 496.7 79.0)" fill="#6a2a80"/>
<ellipse cx="500.7" cy="87.4" rx="1.5" ry="0.7" transform="rotate(75 500.7 87.4)" fill="#c050a8"/>
<ellipse cx="493.8" cy="67.0" rx="2.3" ry="0.5" transform="rotate(64 493.8 67.0)" fill="#6a2a80"/>
<ellipse cx="497.0" cy="95.1" rx="2.3" ry="0.8" transform="rotate(65 497.0 95.1)" fill="#8a1f6c"/>
<ellipse cx="501.7" cy="67.9" rx="2.6" ry="0.8" transform="rotate(50 501.7 67.9)" fill="#4e2470"/>
<ellipse cx="498.1" cy="98.3" rx="2.2" ry="0.6" transform="rotate(58 498.1 98.3)" fill="#6a2a80"/>
<ellipse cx="505.4" cy="81.7" rx="2.8" ry="0.7" transform="rotate(60 505.4 81.7)" fill="#b03890"/>
<ellipse cx="492.7" cy="88.7" rx="2.6" ry="0.4" transform="rotate(52 492.7 88.7)" fill="#8a1f6c"/>
<ellipse cx="490.5" cy="75.4" rx="2.5" ry="0.6" transform="rotate(64 490.5 75.4)" fill="#8a1f6c"/>
<ellipse cx="504.6" cy="80.3" rx="2.6" ry="0.6" transform="rotate(75 504.6 80.3)" fill="#b03890"/>
<ellipse cx="503.1" cy="91.7" rx="1.7" ry="0.5" transform="rotate(59 503.1 91.7)" fill="#4e2470"/>
<ellipse cx="502.8" cy="81.5" rx="1.8" ry="0.8" transform="rotate(67 502.8 81.5)" fill="#f2e4f2"/>
<ellipse cx="504.4" cy="81.3" rx="3.9" ry="0.7" transform="rotate(63 504.4 81.3)" fill="#f2e4f2"/>
<ellipse cx="498.0" cy="81.1" rx="2.0" ry="0.5" transform="rotate(66 498.0 81.1)" fill="#6a2a80"/>
<ellipse cx="492.6" cy="84.0" rx="3.1" ry="0.7" transform="rotate(67 492.6 84.0)" fill="#4e2470"/>
<ellipse cx="500.2" cy="72.4" rx="3.2" ry="0.4" transform="rotate(58 500.2 72.4)" fill="#f2e4f2"/>
<ellipse cx="486.9" cy="59.6" rx="1.6" ry="0.5" transform="rotate(69 486.9 59.6)" fill="#6a2a80"/>
<ellipse cx="495.8" cy="87.4" rx="2.8" ry="0.8" transform="rotate(64 495.8 87.4)" fill="#c050a8"/>
<ellipse cx="495.8" cy="65.3" rx="2.8" ry="0.6" transform="rotate(51 495.8 65.3)" fill="#4e2470"/>
<ellipse cx="493.1" cy="81.9" rx="3.6" ry="0.6" transform="rotate(70 493.1 81.9)" fill="#4e2470"/>
<ellipse cx="501.9" cy="89.0" rx="2.9" ry="0.5" transform="rotate(56 501.9 89.0)" fill="#b03890"/>
<ellipse cx="490.5" cy="70.6" rx="1.7" ry="0.8" transform="rotate(65 490.5 70.6)" fill="#b03890"/>
<ellipse cx="494.4" cy="86.4" rx="1.5" ry="0.5" transform="rotate(60 494.4 86.4)" fill="#f2e4f2"/>
<ellipse cx="504.1" cy="78.2" rx="3.1" ry="0.5" transform="rotate(51 504.1 78.2)" fill="#6a2a80"/>
<ellipse cx="501.3" cy="72.8" rx="3.7" ry="0.7" transform="rotate(58 501.3 72.8)" fill="#6a2a80"/>
<ellipse cx="497.9" cy="97.9" rx="3.9" ry="0.4" transform="rotate(67 497.9 97.9)" fill="#3c1c5c"/>
<ellipse cx="498.3" cy="68.6" rx="2.3" ry="0.8" transform="rotate(62 498.3 68.6)" fill="#f2e4f2"/>
<ellipse cx="499.2" cy="62.7" rx="1.9" ry="0.6" transform="rotate(50 499.2 62.7)" fill="#b03890"/>
<ellipse cx="494.9" cy="74.9" rx="2.3" ry="0.7" transform="rotate(58 494.9 74.9)" fill="#3c1c5c"/>
<ellipse cx="487.5" cy="64.3" rx="3.6" ry="0.5" transform="rotate(56 487.5 64.3)" fill="#8a1f6c"/>
<ellipse cx="495.7" cy="74.1" rx="2.6" ry="0.5" transform="rotate(51 495.7 74.1)" fill="#f2e4f2"/>
<ellipse cx="494.7" cy="90.0" rx="1.7" ry="0.5" transform="rotate(71 494.7 90.0)" fill="#8a1f6c"/>
<ellipse cx="498.3" cy="79.5" rx="3.5" ry="0.5" transform="rotate(59 498.3 79.5)" fill="#8a1f6c"/>
<ellipse cx="499.9" cy="75.5" rx="3.9" ry="0.5" transform="rotate(74 499.9 75.5)" fill="#6a2a80"/>
<ellipse cx="497.0" cy="96.7" rx="3.2" ry="0.8" transform="rotate(75 497.0 96.7)" fill="#6a2a80"/>
<ellipse cx="504.7" cy="84.8" rx="2.4" ry="0.5" transform="rotate(65 504.7 84.8)" fill="#8a1f6c"/>
<ellipse cx="494.7" cy="91.9" rx="3.2" ry="0.4" transform="rotate(71 494.7 91.9)" fill="#3c1c5c"/>
<ellipse cx="500.7" cy="75.8" rx="3.1" ry="0.6" transform="rotate(58 500.7 75.8)" fill="#c050a8"/>
<ellipse cx="502.9" cy="89.5" rx="3.4" ry="0.5" transform="rotate(55 502.9 89.5)" fill="#4e2470"/>
<ellipse cx="495.5" cy="99.1" rx="3.5" ry="0.7" transform="rotate(55 495.5 99.1)" fill="#3c1c5c"/>
<ellipse cx="492.2" cy="68.9" rx="1.8" ry="0.7" transform="rotate(57 492.2 68.9)" fill="#c050a8"/>
<ellipse cx="502.6" cy="79.3" rx="3.1" ry="0.7" transform="rotate(72 502.6 79.3)" fill="#b03890"/>
<ellipse cx="491.6" cy="75.0" rx="3.5" ry="0.7" transform="rotate(72 491.6 75.0)" fill="#4e2470"/>
<ellipse cx="502.2" cy="89.7" rx="2.1" ry="0.7" transform="rotate(59 502.2 89.7)" fill="#3c1c5c"/>
<ellipse cx="489.7" cy="71.7" rx="2.2" ry="0.6" transform="rotate(55 489.7 71.7)" fill="#3c1c5c"/>
<ellipse cx="486.3" cy="60.7" rx="1.9" ry="0.5" transform="rotate(58 486.3 60.7)" fill="#c050a8"/>
<ellipse cx="501.9" cy="83.2" rx="3.1" ry="0.8" transform="rotate(64 501.9 83.2)" fill="#8a1f6c"/>
<ellipse cx="501.0" cy="90.4" rx="2.1" ry="0.6" transform="rotate(67 501.0 90.4)" fill="#b03890"/>
<ellipse cx="500.5" cy="63.8" rx="3.4" ry="0.7" transform="rotate(73 500.5 63.8)" fill="#f2e4f2"/>
<ellipse cx="501.0" cy="89.5" rx="3.9" ry="0.7" transform="rotate(51 501.0 89.5)" fill="#b03890"/>
<ellipse cx="497.6" cy="99.1" rx="3.4" ry="0.4" transform="rotate(67 497.6 99.1)" fill="#c050a8"/>
<ellipse cx="506.4" cy="86.0" rx="2.1" ry="0.6" transform="rotate(59 506.4 86.0)" fill="#c050a8"/>
<ellipse cx="495.3" cy="73.9" rx="2.8" ry="0.7" transform="rotate(71 495.3 73.9)" fill="#3c1c5c"/>
<ellipse cx="492.6" cy="61.3" rx="3.2" ry="0.6" transform="rotate(63 492.6 61.3)" fill="#f2e4f2"/>
<ellipse cx="502.3" cy="100.9" rx="4.5" ry="3.5" fill="#d6d0d6" stroke="#c060b8" stroke-width="1.1"/>
<ellipse cx="494.3" cy="103.9" rx="3.2" ry="2.8" fill="#d6d0d6" stroke="#c060b8" stroke-width="1.1"/>
<ellipse cx="509.3" cy="96.9" rx="2.8" ry="3" fill="#d6d0d6" stroke="#c060b8" stroke-width="1.1"/>
<ellipse cx="507.3" cy="105.9" rx="3" ry="2.5" fill="#d6d0d6" stroke="#c060b8" stroke-width="1.1"/>
<ellipse cx="499.3" cy="94.9" rx="2.5" ry="2" fill="#d6d0d6" stroke="#c060b8" stroke-width="1.1"/>
</g>
<path d="M502.3 54.9 Q508.3 51.9 512.5 53.9 L512.5 69.9 Q507.3 72.9 501.3 64.9 Q499.3 58.9 502.3 54.9 Z" fill="#a82a82"/>
<path d="M501.3 76.9 Q507.3 72.9 512.5 73.9 L512.5 89.9 Q506.3 90.9 501.3 82.9 Q499.3 79.9 501.3 76.9 Z" fill="#b03590"/>
<ellipse cx="485.3" cy="55.1" rx="3.5" ry="2.2" fill="#2a1230"/>
<ellipse cx="473.3" cy="103.9" rx="1.4" ry="2.2" fill="#2a1230"/>
<rect x="492.3" y="108.1" width="14" height="1.5" fill="#111"/>
</g>
<rect x="0" y="0" width="520" height="1.1" fill="#000"/><rect x="0" y="0" width="1.1" height="309" fill="#000"/><rect x="518.7" y="0" width="1.3" height="309" fill="#000"/><rect x="0" y="307.4" width="520" height="1.6" fill="#000"/>
</svg></body></html>
